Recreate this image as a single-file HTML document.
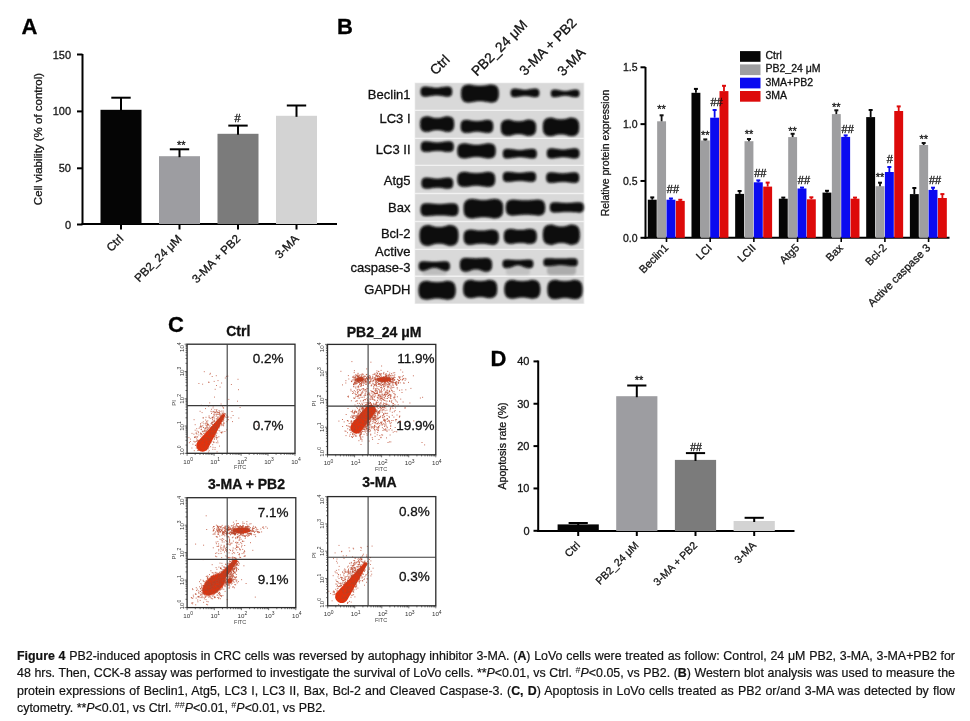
<!DOCTYPE html>
<html><head><meta charset="utf-8"><style>
html,body{margin:0;padding:0;background:#fff;}
body{width:970px;height:721px;overflow:hidden;position:relative;font-family:"Liberation Sans",sans-serif;}
svg text{font-family:"Liberation Sans",sans-serif;}
svg text{stroke-width:0.3px;}
.cap{position:absolute;left:17px;width:938px;font-size:12.4px;color:#111;line-height:17.4px;-webkit-text-stroke:0.2px #111;}
.cap div{white-space:nowrap;}
sup{font-size:9px;line-height:0;vertical-align:4px;-webkit-text-stroke:0;}
.l{height:17.4px;overflow:visible;}
.j{text-align:justify;text-align-last:justify;white-space:normal!important;}
</style></head><body>
<svg width="970" height="721" viewBox="0 0 970 721" style="position:absolute;left:0;top:0;will-change:transform">
<defs>
<filter id="bl" x="-20%" y="-50%" width="140%" height="200%"><feGaussianBlur stdDeviation="0.9"/></filter>
<filter id="bl6" x="-30%" y="-30%" width="160%" height="160%"><feGaussianBlur stdDeviation="0.6"/></filter>
<filter id="bl3" x="-30%" y="-80%" width="160%" height="260%"><feGaussianBlur stdDeviation="1.8"/></filter>
<filter id="bl2" x="-50%" y="-100%" width="200%" height="300%"><feGaussianBlur stdDeviation="1.2"/></filter>
</defs>
<text x="21.5" y="34.3" font-size="22" text-anchor="start" font-weight="bold" fill="#000" stroke="#000">A</text>
<line x1="82.5" y1="54" x2="82.5" y2="225" stroke="#000" stroke-width="2"/>
<line x1="81.5" y1="224" x2="337" y2="224" stroke="#000" stroke-width="2"/>
<line x1="77" y1="54.5" x2="82.5" y2="54.5" stroke="#000" stroke-width="2"/>
<text x="71" y="58.5" font-size="11" text-anchor="end" fill="#151515" stroke="#151515">150</text>
<line x1="77" y1="111.4" x2="82.5" y2="111.4" stroke="#000" stroke-width="2"/>
<text x="71" y="115.4" font-size="11" text-anchor="end" fill="#151515" stroke="#151515">100</text>
<line x1="77" y1="168.3" x2="82.5" y2="168.3" stroke="#000" stroke-width="2"/>
<text x="71" y="172.3" font-size="11" text-anchor="end" fill="#151515" stroke="#151515">50</text>
<line x1="77" y1="224.5" x2="82.5" y2="224.5" stroke="#000" stroke-width="2"/>
<text x="71" y="228.5" font-size="11" text-anchor="end" fill="#151515" stroke="#151515">0</text>
<text x="0" y="0" font-size="11.5" text-anchor="middle" fill="#151515" stroke="#151515" transform="translate(41.5,139) rotate(-90)">Cell viability (% of control)</text>
<rect x="100.5" y="109.8" width="41" height="114.2" fill="#050505"/>
<line x1="121.0" y1="110.8" x2="121.0" y2="97.7" stroke="#000" stroke-width="2"/>
<line x1="111.3" y1="97.7" x2="130.7" y2="97.7" stroke="#000" stroke-width="2"/>
<line x1="121.0" y1="224" x2="121.0" y2="229.5" stroke="#000" stroke-width="2"/>
<text x="0" y="0" font-size="11.7" text-anchor="end" fill="#151515" stroke="#151515" transform="translate(124.0,239.5) rotate(-45)">Ctrl</text>
<rect x="159" y="156.2" width="41" height="67.80000000000001" fill="#9d9da1"/>
<line x1="179.5" y1="157.2" x2="179.5" y2="149.3" stroke="#000" stroke-width="2"/>
<line x1="169.8" y1="149.3" x2="189.2" y2="149.3" stroke="#000" stroke-width="2"/>
<line x1="179.5" y1="224" x2="179.5" y2="229.5" stroke="#000" stroke-width="2"/>
<text x="0" y="0" font-size="11.7" text-anchor="end" fill="#151515" stroke="#151515" transform="translate(182.5,239.5) rotate(-45)">PB2_24 μM</text>
<rect x="217.5" y="133.8" width="41" height="90.19999999999999" fill="#7b7b7b"/>
<line x1="238.0" y1="134.8" x2="238.0" y2="125.6" stroke="#000" stroke-width="2"/>
<line x1="228.3" y1="125.6" x2="247.7" y2="125.6" stroke="#000" stroke-width="2"/>
<line x1="238.0" y1="224" x2="238.0" y2="229.5" stroke="#000" stroke-width="2"/>
<text x="0" y="0" font-size="11.7" text-anchor="end" fill="#151515" stroke="#151515" transform="translate(241.0,239.5) rotate(-45)">3-MA + PB2</text>
<rect x="276" y="115.8" width="41" height="108.2" fill="#d3d3d3"/>
<line x1="296.5" y1="116.8" x2="296.5" y2="105.5" stroke="#000" stroke-width="2"/>
<line x1="286.8" y1="105.5" x2="306.2" y2="105.5" stroke="#000" stroke-width="2"/>
<line x1="296.5" y1="224" x2="296.5" y2="229.5" stroke="#000" stroke-width="2"/>
<text x="0" y="0" font-size="11.7" text-anchor="end" fill="#151515" stroke="#151515" transform="translate(299.5,239.5) rotate(-45)">3-MA</text>
<text x="181.3" y="149" font-size="11" text-anchor="middle" fill="#151515" stroke="#151515">**</text>
<text x="237.5" y="122" font-size="11" text-anchor="middle" fill="#151515" stroke="#151515">#</text>
<text x="337" y="34" font-size="22" text-anchor="start" font-weight="bold" fill="#000" stroke="#000">B</text>
<text x="0" y="0" font-size="13.8" text-anchor="start" fill="#111" stroke="#111" transform="translate(435.5,75.8) rotate(-45)">Ctrl</text>
<text x="0" y="0" font-size="13.8" text-anchor="start" fill="#111" stroke="#111" transform="translate(477,76.8) rotate(-45)">PB2_24 μM</text>
<text x="0" y="0" font-size="13.8" text-anchor="start" fill="#111" stroke="#111" transform="translate(525,76.2) rotate(-45)">3-MA + PB2</text>
<text x="0" y="0" font-size="13.8" text-anchor="start" fill="#111" stroke="#111" transform="translate(563,76.8) rotate(-45)">3-MA</text>
<text x="410.5" y="98.9" font-size="13" text-anchor="end" fill="#111" stroke="#111">Beclin1</text>
<text x="410.5" y="122.9" font-size="13" text-anchor="end" fill="#111" stroke="#111">LC3 I</text>
<text x="410.5" y="154.2" font-size="13" text-anchor="end" fill="#111" stroke="#111">LC3 II</text>
<text x="410.5" y="185.1" font-size="13" text-anchor="end" fill="#111" stroke="#111">Atg5</text>
<text x="410.5" y="211.6" font-size="13" text-anchor="end" fill="#111" stroke="#111">Bax</text>
<text x="410.5" y="237.8" font-size="13" text-anchor="end" fill="#111" stroke="#111">Bcl-2</text>
<text x="410.5" y="256.3" font-size="13" text-anchor="end" fill="#111" stroke="#111">Active</text>
<text x="410.5" y="272.2" font-size="13" text-anchor="end" fill="#111" stroke="#111">caspase-3</text>
<text x="410.5" y="293.6" font-size="13" text-anchor="end" fill="#111" stroke="#111">GAPDH</text>
<g>
<rect x="414.5" y="82.5" width="170" height="221.5" fill="#f2f2f2"/>
<rect x="415.2" y="83.2" width="168.4" height="26.5" fill="#d9d9d9"/>
<rect x="415.2" y="111" width="168.4" height="26.69999999999999" fill="#d9d9d9"/>
<rect x="415.2" y="139" width="168.4" height="25.69999999999999" fill="#d9d9d9"/>
<rect x="415.2" y="166" width="168.4" height="26.80000000000001" fill="#d9d9d9"/>
<rect x="415.2" y="194.2" width="168.4" height="26.600000000000023" fill="#d9d9d9"/>
<rect x="415.2" y="222.2" width="168.4" height="26.5" fill="#d9d9d9"/>
<rect x="415.2" y="250" width="168.4" height="25.5" fill="#d9d9d9"/>
<rect x="415.2" y="277" width="168.4" height="26.5" fill="#d9d9d9"/>
</g>
<rect x="422" y="267" width="25" height="8" rx="3" fill="#bdbdbd" filter="url(#bl2)"/>
<rect x="463" y="268" width="26" height="7" rx="3" fill="#c6c6c6" filter="url(#bl2)"/>
<rect x="506" y="266" width="24" height="9" rx="3" fill="#c2c2c2" filter="url(#bl2)"/>
<rect x="547" y="264" width="29" height="11" rx="4" fill="#acacac" filter="url(#bl2)"/>
<path d="M424.8,86.8 C430.1,86.8 431.0,88.0 436.4,88.0 C441.7,88.0 442.6,86.8 447.9,86.8 Q452.0,86.8 452.0,90.9 L452.0,92.4 Q452.0,96.5 447.9,96.5 C442.6,96.5 441.7,95.3 436.4,95.3 C431.0,95.3 430.1,96.5 424.8,96.5 Q420.7,96.5 420.7,92.4 L420.7,90.9 Q420.7,86.8 424.8,86.8 Z" fill="#9a9a9a" filter="url(#bl3)"/>
<path d="M424.8,86.8 C430.1,86.8 431.0,88.0 436.4,88.0 C441.7,88.0 442.6,86.8 447.9,86.8 Q452.0,86.8 452.0,90.9 L452.0,92.4 Q452.0,96.5 447.9,96.5 C442.6,96.5 441.7,95.3 436.4,95.3 C431.0,95.3 430.1,96.5 424.8,96.5 Q420.7,96.5 420.7,92.4 L420.7,90.9 Q420.7,86.8 424.8,86.8 Z" fill="#0a0a0a" filter="url(#bl)"/>
<path d="M468.6,84.8 C472.4,84.8 473.5,86.1 479.9,86.1 C486.3,86.1 487.4,84.8 491.2,84.8 Q498.6,84.8 498.6,92.2 L498.6,95.0 Q498.6,102.4 491.2,102.4 C487.4,102.4 486.3,101.1 479.9,101.1 C473.5,101.1 472.4,102.4 468.6,102.4 Q461.2,102.4 461.2,95.0 L461.2,92.2 Q461.2,84.8 468.6,84.8 Z" fill="#9a9a9a" filter="url(#bl3)"/>
<path d="M468.6,84.8 C472.4,84.8 473.5,86.1 479.9,86.1 C486.3,86.1 487.4,84.8 491.2,84.8 Q498.6,84.8 498.6,92.2 L498.6,95.0 Q498.6,102.4 491.2,102.4 C487.4,102.4 486.3,101.1 479.9,101.1 C473.5,101.1 472.4,102.4 468.6,102.4 Q461.2,102.4 461.2,95.0 L461.2,92.2 Q461.2,84.8 468.6,84.8 Z" fill="#0a0a0a" filter="url(#bl)"/>
<path d="M514.3,88.7 C519.3,88.7 520.2,89.9 525.0,89.9 C529.8,89.9 530.7,88.7 535.7,88.7 Q539.2,88.7 539.2,92.2 L539.2,93.5 Q539.2,97.0 535.7,97.0 C530.7,97.0 529.8,95.8 525.0,95.8 C520.2,95.8 519.3,97.0 514.3,97.0 Q510.8,97.0 510.8,93.5 L510.8,92.2 Q510.8,88.7 514.3,88.7 Z" fill="#9a9a9a" filter="url(#bl3)"/>
<path d="M514.3,88.7 C519.3,88.7 520.2,89.9 525.0,89.9 C529.8,89.9 530.7,88.7 535.7,88.7 Q539.2,88.7 539.2,92.2 L539.2,93.5 Q539.2,97.0 535.7,97.0 C530.7,97.0 529.8,95.8 525.0,95.8 C520.2,95.8 519.3,97.0 514.3,97.0 Q510.8,97.0 510.8,93.5 L510.8,92.2 Q510.8,88.7 514.3,88.7 Z" fill="#0a0a0a" filter="url(#bl)"/>
<path d="M554.1,89.7 C559.5,89.7 560.3,91.2 565.1,91.2 C570.0,91.2 570.8,89.7 576.2,89.7 Q579.3,89.7 579.3,92.8 L579.3,93.9 Q579.3,97.0 576.2,97.0 C570.8,97.0 570.0,95.5 565.1,95.5 C560.3,95.5 559.5,97.0 554.1,97.0 Q551.0,97.0 551.0,93.9 L551.0,92.8 Q551.0,89.7 554.1,89.7 Z" fill="#9a9a9a" filter="url(#bl3)"/>
<path d="M554.1,89.7 C559.5,89.7 560.3,91.2 565.1,91.2 C570.0,91.2 570.8,89.7 576.2,89.7 Q579.3,89.7 579.3,92.8 L579.3,93.9 Q579.3,97.0 576.2,97.0 C570.8,97.0 570.0,95.5 565.1,95.5 C560.3,95.5 559.5,97.0 554.1,97.0 Q551.0,97.0 551.0,93.9 L551.0,92.8 Q551.0,89.7 554.1,89.7 Z" fill="#0a0a0a" filter="url(#bl)"/>
<path d="M426.7,116.5 C430.4,116.5 431.4,118.2 437.1,118.2 C442.9,118.2 443.9,116.5 447.6,116.5 Q454.0,116.5 454.0,122.9 L454.0,125.4 Q454.0,131.8 447.6,131.8 C443.9,131.8 442.9,130.1 437.1,130.1 C431.4,130.1 430.4,131.8 426.7,131.8 Q420.3,131.8 420.3,125.4 L420.3,122.9 Q420.3,116.5 426.7,116.5 Z" fill="#9a9a9a" filter="url(#bl3)"/>
<path d="M426.7,116.5 C430.4,116.5 431.4,118.2 437.1,118.2 C442.9,118.2 443.9,116.5 447.6,116.5 Q454.0,116.5 454.0,122.9 L454.0,125.4 Q454.0,131.8 447.6,131.8 C443.9,131.8 442.9,130.1 437.1,130.1 C431.4,130.1 430.4,131.8 426.7,131.8 Q420.3,131.8 420.3,125.4 L420.3,122.9 Q420.3,116.5 426.7,116.5 Z" fill="#0a0a0a" filter="url(#bl)"/>
<path d="M466.2,120.0 C470.5,120.0 471.5,121.3 477.0,121.3 C482.4,121.3 483.4,120.0 487.7,120.0 Q493.1,120.0 493.1,125.4 L493.1,127.4 Q493.1,132.8 487.7,132.8 C483.4,132.8 482.4,131.5 477.0,131.5 C471.5,131.5 470.5,132.8 466.2,132.8 Q460.8,132.8 460.8,127.4 L460.8,125.4 Q460.8,120.0 466.2,120.0 Z" fill="#9a9a9a" filter="url(#bl3)"/>
<path d="M466.2,120.0 C470.5,120.0 471.5,121.3 477.0,121.3 C482.4,121.3 483.4,120.0 487.7,120.0 Q493.1,120.0 493.1,125.4 L493.1,127.4 Q493.1,132.8 487.7,132.8 C483.4,132.8 482.4,131.5 477.0,131.5 C471.5,131.5 470.5,132.8 466.2,132.8 Q460.8,132.8 460.8,127.4 L460.8,125.4 Q460.8,120.0 466.2,120.0 Z" fill="#0a0a0a" filter="url(#bl)"/>
<path d="M507.7,119.7 C511.5,119.7 512.5,121.5 518.5,121.5 C524.4,121.5 525.4,119.7 529.2,119.7 Q535.9,119.7 535.9,126.4 L535.9,129.0 Q535.9,135.7 529.2,135.7 C525.4,135.7 524.4,133.9 518.5,133.9 C512.5,133.9 511.5,135.7 507.7,135.7 Q501.0,135.7 501.0,129.0 L501.0,126.4 Q501.0,119.7 507.7,119.7 Z" fill="#9a9a9a" filter="url(#bl3)"/>
<path d="M507.7,119.7 C511.5,119.7 512.5,121.5 518.5,121.5 C524.4,121.5 525.4,119.7 529.2,119.7 Q535.9,119.7 535.9,126.4 L535.9,129.0 Q535.9,135.7 529.2,135.7 C525.4,135.7 524.4,133.9 518.5,133.9 C512.5,133.9 511.5,135.7 507.7,135.7 Q501.0,135.7 501.0,129.0 L501.0,126.4 Q501.0,119.7 507.7,119.7 Z" fill="#0a0a0a" filter="url(#bl)"/>
<path d="M550.7,117.7 C553.8,117.7 554.9,119.5 561.0,119.5 C567.1,119.5 568.2,117.7 571.3,117.7 Q579.0,117.7 579.0,125.4 L579.0,128.4 Q579.0,136.1 571.3,136.1 C568.2,136.1 567.1,134.3 561.0,134.3 C554.9,134.3 553.8,136.1 550.7,136.1 Q543.0,136.1 543.0,128.4 L543.0,125.4 Q543.0,117.7 550.7,117.7 Z" fill="#9a9a9a" filter="url(#bl3)"/>
<path d="M550.7,117.7 C553.8,117.7 554.9,119.5 561.0,119.5 C567.1,119.5 568.2,117.7 571.3,117.7 Q579.0,117.7 579.0,125.4 L579.0,128.4 Q579.0,136.1 571.3,136.1 C568.2,136.1 567.1,134.3 561.0,134.3 C554.9,134.3 553.8,136.1 550.7,136.1 Q543.0,136.1 543.0,128.4 L543.0,125.4 Q543.0,117.7 550.7,117.7 Z" fill="#0a0a0a" filter="url(#bl)"/>
<path d="M425.3,141.6 C430.8,141.6 431.8,142.7 437.3,142.7 C442.8,142.7 443.8,141.6 449.3,141.6 Q453.6,141.6 453.6,145.9 L453.6,147.5 Q453.6,151.8 449.3,151.8 C443.8,151.8 442.8,150.7 437.3,150.7 C431.8,150.7 430.8,151.8 425.3,151.8 Q421.0,151.8 421.0,147.5 L421.0,145.9 Q421.0,141.6 425.3,141.6 Z" fill="#9a9a9a" filter="url(#bl3)"/>
<path d="M425.3,141.6 C430.8,141.6 431.8,142.7 437.3,142.7 C442.8,142.7 443.8,141.6 449.3,141.6 Q453.6,141.6 453.6,145.9 L453.6,147.5 Q453.6,151.8 449.3,151.8 C443.8,151.8 442.8,150.7 437.3,150.7 C431.8,150.7 430.8,151.8 425.3,151.8 Q421.0,151.8 421.0,147.5 L421.0,145.9 Q421.0,141.6 425.3,141.6 Z" fill="#0a0a0a" filter="url(#bl)"/>
<path d="M463.7,143.6 C468.9,143.6 470.0,145.1 476.5,145.1 C483.0,145.1 484.1,143.6 489.3,143.6 Q495.5,143.6 495.5,149.8 L495.5,152.1 Q495.5,158.3 489.3,158.3 C484.1,158.3 483.0,156.8 476.5,156.8 C470.0,156.8 468.9,158.3 463.7,158.3 Q457.5,158.3 457.5,152.1 L457.5,149.8 Q457.5,143.6 463.7,143.6 Z" fill="#9a9a9a" filter="url(#bl3)"/>
<path d="M463.7,143.6 C468.9,143.6 470.0,145.1 476.5,145.1 C483.0,145.1 484.1,143.6 489.3,143.6 Q495.5,143.6 495.5,149.8 L495.5,152.1 Q495.5,158.3 489.3,158.3 C484.1,158.3 483.0,156.8 476.5,156.8 C470.0,156.8 468.9,158.3 463.7,158.3 Q457.5,158.3 457.5,152.1 L457.5,149.8 Q457.5,143.6 463.7,143.6 Z" fill="#0a0a0a" filter="url(#bl)"/>
<path d="M506.9,149.0 C513.1,149.0 514.1,150.2 519.8,150.2 C525.5,150.2 526.5,149.0 532.7,149.0 Q536.6,149.0 536.6,152.9 L536.6,154.4 Q536.6,158.3 532.7,158.3 C526.5,158.3 525.5,157.1 519.8,157.1 C514.1,157.1 513.1,158.3 506.9,158.3 Q503.0,158.3 503.0,154.4 L503.0,152.9 Q503.0,149.0 506.9,149.0 Z" fill="#9a9a9a" filter="url(#bl3)"/>
<path d="M506.9,149.0 C513.1,149.0 514.1,150.2 519.8,150.2 C525.5,150.2 526.5,149.0 532.7,149.0 Q536.6,149.0 536.6,152.9 L536.6,154.4 Q536.6,158.3 532.7,158.3 C526.5,158.3 525.5,157.1 519.8,157.1 C514.1,157.1 513.1,158.3 506.9,158.3 Q503.0,158.3 503.0,154.4 L503.0,152.9 Q503.0,149.0 506.9,149.0 Z" fill="#0a0a0a" filter="url(#bl)"/>
<path d="M551.1,148.5 C556.7,148.5 557.7,149.7 563.1,149.7 C568.6,149.7 569.6,148.5 575.2,148.5 Q579.3,148.5 579.3,152.6 L579.3,154.2 Q579.3,158.3 575.2,158.3 C569.6,158.3 568.6,157.1 563.1,157.1 C557.7,157.1 556.7,158.3 551.1,158.3 Q547.0,158.3 547.0,154.2 L547.0,152.6 Q547.0,148.5 551.1,148.5 Z" fill="#9a9a9a" filter="url(#bl3)"/>
<path d="M551.1,148.5 C556.7,148.5 557.7,149.7 563.1,149.7 C568.6,149.7 569.6,148.5 575.2,148.5 Q579.3,148.5 579.3,152.6 L579.3,154.2 Q579.3,158.3 575.2,158.3 C569.6,158.3 568.6,157.1 563.1,157.1 C557.7,157.1 556.7,158.3 551.1,158.3 Q547.0,158.3 547.0,154.2 L547.0,152.6 Q547.0,148.5 551.1,148.5 Z" fill="#0a0a0a" filter="url(#bl)"/>
<path d="M426.1,177.8 C431.0,177.8 432.0,178.9 437.3,178.9 C442.6,178.9 443.6,177.8 448.5,177.8 Q453.0,177.8 453.0,182.3 L453.0,184.1 Q453.0,188.6 448.5,188.6 C443.6,188.6 442.6,187.5 437.3,187.5 C432.0,187.5 431.0,188.6 426.1,188.6 Q421.6,188.6 421.6,184.1 L421.6,182.3 Q421.6,177.8 426.1,177.8 Z" fill="#9a9a9a" filter="url(#bl3)"/>
<path d="M426.1,177.8 C431.0,177.8 432.0,178.9 437.3,178.9 C442.6,178.9 443.6,177.8 448.5,177.8 Q453.0,177.8 453.0,182.3 L453.0,184.1 Q453.0,188.6 448.5,188.6 C443.6,188.6 442.6,187.5 437.3,187.5 C432.0,187.5 431.0,188.6 426.1,188.6 Q421.6,188.6 421.6,184.1 L421.6,182.3 Q421.6,177.8 426.1,177.8 Z" fill="#0a0a0a" filter="url(#bl)"/>
<path d="M463.7,172.0 C468.8,172.0 469.9,173.3 476.2,173.3 C482.6,173.3 483.8,172.0 488.8,172.0 Q495.0,172.0 495.0,178.2 L495.0,180.5 Q495.0,186.7 488.8,186.7 C483.8,186.7 482.6,185.4 476.2,185.4 C469.9,185.4 468.8,186.7 463.7,186.7 Q457.5,186.7 457.5,180.5 L457.5,178.2 Q457.5,172.0 463.7,172.0 Z" fill="#9a9a9a" filter="url(#bl3)"/>
<path d="M463.7,172.0 C468.8,172.0 469.9,173.3 476.2,173.3 C482.6,173.3 483.8,172.0 488.8,172.0 Q495.0,172.0 495.0,178.2 L495.0,180.5 Q495.0,186.7 488.8,186.7 C483.8,186.7 482.6,185.4 476.2,185.4 C469.9,185.4 468.8,186.7 463.7,186.7 Q457.5,186.7 457.5,180.5 L457.5,178.2 Q457.5,172.0 463.7,172.0 Z" fill="#0a0a0a" filter="url(#bl)"/>
<path d="M507.1,172.0 C512.9,172.0 513.9,173.0 519.5,173.0 C525.0,173.0 526.0,172.0 531.8,172.0 Q535.9,172.0 535.9,176.1 L535.9,177.7 Q535.9,181.8 531.8,181.8 C526.0,181.8 525.0,180.8 519.5,180.8 C513.9,180.8 512.9,181.8 507.1,181.8 Q503.0,181.8 503.0,177.7 L503.0,176.1 Q503.0,172.0 507.1,172.0 Z" fill="#9a9a9a" filter="url(#bl3)"/>
<path d="M507.1,172.0 C512.9,172.0 513.9,173.0 519.5,173.0 C525.0,173.0 526.0,172.0 531.8,172.0 Q535.9,172.0 535.9,176.1 L535.9,177.7 Q535.9,181.8 531.8,181.8 C526.0,181.8 525.0,180.8 519.5,180.8 C513.9,180.8 512.9,181.8 507.1,181.8 Q503.0,181.8 503.0,177.7 L503.0,176.1 Q503.0,172.0 507.1,172.0 Z" fill="#0a0a0a" filter="url(#bl)"/>
<path d="M550.7,172.4 C556.2,172.4 557.2,173.4 562.7,173.4 C568.2,173.4 569.2,172.4 574.7,172.4 Q579.0,172.4 579.0,176.7 L579.0,178.4 Q579.0,182.7 574.7,182.7 C569.2,182.7 568.2,181.7 562.7,181.7 C557.2,181.7 556.2,182.7 550.7,182.7 Q546.4,182.7 546.4,178.4 L546.4,176.7 Q546.4,172.4 550.7,172.4 Z" fill="#9a9a9a" filter="url(#bl3)"/>
<path d="M550.7,172.4 C556.2,172.4 557.2,173.4 562.7,173.4 C568.2,173.4 569.2,172.4 574.7,172.4 Q579.0,172.4 579.0,176.7 L579.0,178.4 Q579.0,182.7 574.7,182.7 C569.2,182.7 568.2,181.7 562.7,181.7 C557.2,181.7 556.2,182.7 550.7,182.7 Q546.4,182.7 546.4,178.4 L546.4,176.7 Q546.4,172.4 550.7,172.4 Z" fill="#0a0a0a" filter="url(#bl)"/>
<path d="M425.9,203.6 C432.0,203.6 433.1,204.3 439.5,204.3 C445.9,204.3 447.0,203.6 453.1,203.6 Q458.3,203.6 458.3,208.8 L458.3,210.8 Q458.3,216.0 453.1,216.0 C447.0,216.0 445.9,215.3 439.5,215.3 C433.1,215.3 432.0,216.0 425.9,216.0 Q420.7,216.0 420.7,210.8 L420.7,208.8 Q420.7,203.6 425.9,203.6 Z" fill="#9a9a9a" filter="url(#bl3)"/>
<path d="M425.9,203.6 C432.0,203.6 433.1,204.3 439.5,204.3 C445.9,204.3 447.0,203.6 453.1,203.6 Q458.3,203.6 458.3,208.8 L458.3,210.8 Q458.3,216.0 453.1,216.0 C447.0,216.0 445.9,215.3 439.5,215.3 C433.1,215.3 432.0,216.0 425.9,216.0 Q420.7,216.0 420.7,210.8 L420.7,208.8 Q420.7,203.6 425.9,203.6 Z" fill="#0a0a0a" filter="url(#bl)"/>
<path d="M471.9,199.0 C475.6,199.0 476.7,200.2 483.4,200.2 C490.1,200.2 491.2,199.0 494.9,199.0 Q503.0,199.0 503.0,207.1 L503.0,210.2 Q503.0,218.3 494.9,218.3 C491.2,218.3 490.1,217.1 483.4,217.1 C476.7,217.1 475.6,218.3 471.9,218.3 Q463.8,218.3 463.8,210.2 L463.8,207.1 Q463.8,199.0 471.9,199.0 Z" fill="#9a9a9a" filter="url(#bl3)"/>
<path d="M471.9,199.0 C475.6,199.0 476.7,200.2 483.4,200.2 C490.1,200.2 491.2,199.0 494.9,199.0 Q503.0,199.0 503.0,207.1 L503.0,210.2 Q503.0,218.3 494.9,218.3 C491.2,218.3 490.1,217.1 483.4,217.1 C476.7,217.1 475.6,218.3 471.9,218.3 Q463.8,218.3 463.8,210.2 L463.8,207.1 Q463.8,199.0 471.9,199.0 Z" fill="#0a0a0a" filter="url(#bl)"/>
<path d="M512.5,199.7 C517.6,199.7 518.8,200.6 525.5,200.6 C532.1,200.6 533.3,199.7 538.4,199.7 Q545.0,199.7 545.0,206.3 L545.0,208.8 Q545.0,215.4 538.4,215.4 C533.3,215.4 532.1,214.5 525.5,214.5 C518.8,214.5 517.6,215.4 512.5,215.4 Q505.9,215.4 505.9,208.8 L505.9,206.3 Q505.9,199.7 512.5,199.7 Z" fill="#9a9a9a" filter="url(#bl3)"/>
<path d="M512.5,199.7 C517.6,199.7 518.8,200.6 525.5,200.6 C532.1,200.6 533.3,199.7 538.4,199.7 Q545.0,199.7 545.0,206.3 L545.0,208.8 Q545.0,215.4 538.4,215.4 C533.3,215.4 532.1,214.5 525.5,214.5 C518.8,214.5 517.6,215.4 512.5,215.4 Q505.9,215.4 505.9,208.8 L505.9,206.3 Q505.9,199.7 512.5,199.7 Z" fill="#0a0a0a" filter="url(#bl)"/>
<path d="M554.1,202.6 C560.1,202.6 561.1,203.2 566.8,203.2 C572.5,203.2 573.5,202.6 579.5,202.6 Q583.6,202.6 583.6,206.7 L583.6,208.3 Q583.6,212.4 579.5,212.4 C573.5,212.4 572.5,211.8 566.8,211.8 C561.1,211.8 560.1,212.4 554.1,212.4 Q550.0,212.4 550.0,208.3 L550.0,206.7 Q550.0,202.6 554.1,202.6 Z" fill="#9a9a9a" filter="url(#bl3)"/>
<path d="M554.1,202.6 C560.1,202.6 561.1,203.2 566.8,203.2 C572.5,203.2 573.5,202.6 579.5,202.6 Q583.6,202.6 583.6,206.7 L583.6,208.3 Q583.6,212.4 579.5,212.4 C573.5,212.4 572.5,211.8 566.8,211.8 C561.1,211.8 560.1,212.4 554.1,212.4 Q550.0,212.4 550.0,208.3 L550.0,206.7 Q550.0,202.6 554.1,202.6 Z" fill="#0a0a0a" filter="url(#bl)"/>
<path d="M428.2,225.2 C431.3,225.2 432.4,227.2 439.0,227.2 C445.6,227.2 446.7,225.2 449.8,225.2 Q458.3,225.2 458.3,233.7 L458.3,237.2 Q458.3,245.7 449.8,245.7 C446.7,245.7 445.6,243.6 439.0,243.6 C432.4,243.6 431.3,245.7 428.2,245.7 Q419.7,245.7 419.7,237.2 L419.7,233.7 Q419.7,225.2 428.2,225.2 Z" fill="#9a9a9a" filter="url(#bl3)"/>
<path d="M428.2,225.2 C431.3,225.2 432.4,227.2 439.0,227.2 C445.6,227.2 446.7,225.2 449.8,225.2 Q458.3,225.2 458.3,233.7 L458.3,237.2 Q458.3,245.7 449.8,245.7 C446.7,245.7 445.6,243.6 439.0,243.6 C432.4,243.6 431.3,245.7 428.2,245.7 Q419.7,245.7 419.7,237.2 L419.7,233.7 Q419.7,225.2 428.2,225.2 Z" fill="#0a0a0a" filter="url(#bl)"/>
<path d="M470.1,229.7 C474.2,229.7 475.3,230.8 481.2,230.8 C487.1,230.8 488.2,229.7 492.3,229.7 Q498.6,229.7 498.6,236.0 L498.6,238.4 Q498.6,244.7 492.3,244.7 C488.2,244.7 487.1,243.6 481.2,243.6 C475.3,243.6 474.2,244.7 470.1,244.7 Q463.8,244.7 463.8,238.4 L463.8,236.0 Q463.8,229.7 470.1,229.7 Z" fill="#9a9a9a" filter="url(#bl3)"/>
<path d="M470.1,229.7 C474.2,229.7 475.3,230.8 481.2,230.8 C487.1,230.8 488.2,229.7 492.3,229.7 Q498.6,229.7 498.6,236.0 L498.6,238.4 Q498.6,244.7 492.3,244.7 C488.2,244.7 487.1,243.6 481.2,243.6 C475.3,243.6 474.2,244.7 470.1,244.7 Q463.8,244.7 463.8,238.4 L463.8,236.0 Q463.8,229.7 470.1,229.7 Z" fill="#0a0a0a" filter="url(#bl)"/>
<path d="M510.2,229.0 C513.8,229.0 514.8,230.1 520.3,230.1 C525.8,230.1 526.8,229.0 530.4,229.0 Q536.6,229.0 536.6,235.2 L536.6,237.6 Q536.6,243.8 530.4,243.8 C526.8,243.8 525.8,242.7 520.3,242.7 C514.8,242.7 513.8,243.8 510.2,243.8 Q504.0,243.8 504.0,237.6 L504.0,235.2 Q504.0,229.0 510.2,229.0 Z" fill="#9a9a9a" filter="url(#bl3)"/>
<path d="M510.2,229.0 C513.8,229.0 514.8,230.1 520.3,230.1 C525.8,230.1 526.8,229.0 530.4,229.0 Q536.6,229.0 536.6,235.2 L536.6,237.6 Q536.6,243.8 530.4,243.8 C526.8,243.8 525.8,242.7 520.3,242.7 C514.8,242.7 513.8,243.8 510.2,243.8 Q504.0,243.8 504.0,237.6 L504.0,235.2 Q504.0,229.0 510.2,229.0 Z" fill="#0a0a0a" filter="url(#bl)"/>
<path d="M551.1,224.8 C554.0,224.8 555.1,226.8 561.4,226.8 C567.6,226.8 568.7,224.8 571.6,224.8 Q579.7,224.8 579.7,232.9 L579.7,236.6 Q579.7,244.7 571.6,244.7 C568.7,244.7 567.6,242.7 561.4,242.7 C555.1,242.7 554.0,244.7 551.1,244.7 Q543.0,244.7 543.0,236.6 L543.0,232.9 Q543.0,224.8 551.1,224.8 Z" fill="#9a9a9a" filter="url(#bl3)"/>
<path d="M551.1,224.8 C554.0,224.8 555.1,226.8 561.4,226.8 C567.6,226.8 568.7,224.8 571.6,224.8 Q579.7,224.8 579.7,232.9 L579.7,236.6 Q579.7,244.7 571.6,244.7 C568.7,244.7 567.6,242.7 561.4,242.7 C555.1,242.7 554.0,244.7 551.1,244.7 Q543.0,244.7 543.0,236.6 L543.0,232.9 Q543.0,224.8 551.1,224.8 Z" fill="#0a0a0a" filter="url(#bl)"/>
<path d="M422.7,261.6 C428.1,261.6 429.1,262.1 434.3,262.1 C439.5,262.1 440.5,261.6 445.9,261.6 Q449.7,261.6 449.7,265.4 L449.7,266.9 Q449.7,270.7 445.9,270.7 C440.5,270.7 439.5,267.6 434.3,267.6 C429.1,267.6 428.1,270.7 422.7,270.7 Q418.9,270.7 418.9,266.9 L418.9,265.4 Q418.9,261.6 422.7,261.6 Z" fill="#9a9a9a" filter="url(#bl3)"/>
<path d="M422.7,261.6 C428.1,261.6 429.1,262.1 434.3,262.1 C439.5,262.1 440.5,261.6 445.9,261.6 Q449.7,261.6 449.7,265.4 L449.7,266.9 Q449.7,270.7 445.9,270.7 C440.5,270.7 439.5,267.6 434.3,267.6 C429.1,267.6 428.1,270.7 422.7,270.7 Q418.9,270.7 418.9,266.9 L418.9,265.4 Q418.9,261.6 422.7,261.6 Z" fill="#0a0a0a" filter="url(#bl)"/>
<path d="M465.7,258.0 C469.6,258.0 470.5,258.4 475.9,258.4 C481.4,258.4 482.3,258.0 486.2,258.0 Q491.9,258.0 491.9,263.7 L491.9,265.9 Q491.9,271.6 486.2,271.6 C482.3,271.6 481.4,269.3 475.9,269.3 C470.5,269.3 469.6,271.6 465.7,271.6 Q460.0,271.6 460.0,265.9 L460.0,263.7 Q460.0,258.0 465.7,258.0 Z" fill="#9a9a9a" filter="url(#bl3)"/>
<path d="M465.7,258.0 C469.6,258.0 470.5,258.4 475.9,258.4 C481.4,258.4 482.3,258.0 486.2,258.0 Q491.9,258.0 491.9,263.7 L491.9,265.9 Q491.9,271.6 486.2,271.6 C482.3,271.6 481.4,269.3 475.9,269.3 C470.5,269.3 469.6,271.6 465.7,271.6 Q460.0,271.6 460.0,265.9 L460.0,263.7 Q460.0,258.0 465.7,258.0 Z" fill="#0a0a0a" filter="url(#bl)"/>
<path d="M506.1,259.8 C511.9,259.8 512.8,260.3 518.0,260.3 C523.1,260.3 524.1,259.8 529.8,259.8 Q533.2,259.8 533.2,263.2 L533.2,264.6 Q533.2,268.0 529.8,268.0 C524.1,268.0 523.1,265.2 518.0,265.2 C512.8,265.2 511.9,268.0 506.1,268.0 Q502.7,268.0 502.7,264.6 L502.7,263.2 Q502.7,259.8 506.1,259.8 Z" fill="#9a9a9a" filter="url(#bl3)"/>
<path d="M506.1,259.8 C511.9,259.8 512.8,260.3 518.0,260.3 C523.1,260.3 524.1,259.8 529.8,259.8 Q533.2,259.8 533.2,263.2 L533.2,264.6 Q533.2,268.0 529.8,268.0 C524.1,268.0 523.1,265.2 518.0,265.2 C512.8,265.2 511.9,268.0 506.1,268.0 Q502.7,268.0 502.7,264.6 L502.7,263.2 Q502.7,259.8 506.1,259.8 Z" fill="#0a0a0a" filter="url(#bl)"/>
<path d="M546.8,258.5 C553.8,258.5 554.8,258.8 560.5,258.8 C566.3,258.8 567.3,258.5 574.3,258.5 Q577.5,258.5 577.5,261.7 L577.5,262.9 Q577.5,266.1 574.3,266.1 C567.3,266.1 566.3,264.9 560.5,264.9 C554.8,264.9 553.8,266.1 546.8,266.1 Q543.6,266.1 543.6,262.9 L543.6,261.7 Q543.6,258.5 546.8,258.5 Z" fill="#9a9a9a" filter="url(#bl3)"/>
<path d="M546.8,258.5 C553.8,258.5 554.8,258.8 560.5,258.8 C566.3,258.8 567.3,258.5 574.3,258.5 Q577.5,258.5 577.5,261.7 L577.5,262.9 Q577.5,266.1 574.3,266.1 C567.3,266.1 566.3,264.9 560.5,264.9 C554.8,264.9 553.8,266.1 546.8,266.1 Q543.6,266.1 543.6,262.9 L543.6,261.7 Q543.6,258.5 546.8,258.5 Z" fill="#0a0a0a" filter="url(#bl)"/>
<path d="M426.5,281.0 C429.7,281.0 430.8,282.3 437.1,282.3 C443.4,282.3 444.5,281.0 447.7,281.0 Q455.5,281.0 455.5,288.8 L455.5,291.8 Q455.5,299.6 447.7,299.6 C444.5,299.6 443.4,298.3 437.1,298.3 C430.8,298.3 429.7,299.6 426.5,299.6 Q418.7,299.6 418.7,291.8 L418.7,288.8 Q418.7,281.0 426.5,281.0 Z" fill="#9a9a9a" filter="url(#bl3)"/>
<path d="M426.5,281.0 C429.7,281.0 430.8,282.3 437.1,282.3 C443.4,282.3 444.5,281.0 447.7,281.0 Q455.5,281.0 455.5,288.8 L455.5,291.8 Q455.5,299.6 447.7,299.6 C444.5,299.6 443.4,298.3 437.1,298.3 C430.8,298.3 429.7,299.6 426.5,299.6 Q418.7,299.6 418.7,291.8 L418.7,288.8 Q418.7,281.0 426.5,281.0 Z" fill="#0a0a0a" filter="url(#bl)"/>
<path d="M470.8,280.0 C473.5,280.0 474.5,281.3 480.2,281.3 C485.9,281.3 486.9,280.0 489.6,280.0 Q497.0,280.0 497.0,287.4 L497.0,290.6 Q497.0,298.0 489.6,298.0 C486.9,298.0 485.9,296.7 480.2,296.7 C474.5,296.7 473.5,298.0 470.8,298.0 Q463.4,298.0 463.4,290.6 L463.4,287.4 Q463.4,280.0 470.8,280.0 Z" fill="#9a9a9a" filter="url(#bl3)"/>
<path d="M470.8,280.0 C473.5,280.0 474.5,281.3 480.2,281.3 C485.9,281.3 486.9,280.0 489.6,280.0 Q497.0,280.0 497.0,287.4 L497.0,290.6 Q497.0,298.0 489.6,298.0 C486.9,298.0 485.9,296.7 480.2,296.7 C474.5,296.7 473.5,298.0 470.8,298.0 Q463.4,298.0 463.4,290.6 L463.4,287.4 Q463.4,280.0 470.8,280.0 Z" fill="#0a0a0a" filter="url(#bl)"/>
<path d="M512.3,280.0 C515.2,280.0 516.3,281.3 522.4,281.3 C528.4,281.3 529.5,280.0 532.4,280.0 Q540.2,280.0 540.2,287.8 L540.2,290.8 Q540.2,298.6 532.4,298.6 C529.5,298.6 528.4,297.3 522.4,297.3 C516.3,297.3 515.2,298.6 512.3,298.6 Q504.5,298.6 504.5,290.8 L504.5,287.8 Q504.5,280.0 512.3,280.0 Z" fill="#9a9a9a" filter="url(#bl3)"/>
<path d="M512.3,280.0 C515.2,280.0 516.3,281.3 522.4,281.3 C528.4,281.3 529.5,280.0 532.4,280.0 Q540.2,280.0 540.2,287.8 L540.2,290.8 Q540.2,298.6 532.4,298.6 C529.5,298.6 528.4,297.3 522.4,297.3 C516.3,297.3 515.2,298.6 512.3,298.6 Q504.5,298.6 504.5,290.8 L504.5,287.8 Q504.5,280.0 512.3,280.0 Z" fill="#0a0a0a" filter="url(#bl)"/>
<path d="M555.2,280.0 C558.0,280.0 559.1,281.3 565.0,281.3 C570.8,281.3 571.9,280.0 574.7,280.0 Q582.3,280.0 582.3,287.6 L582.3,291.4 Q582.3,299.0 574.7,299.0 C571.9,299.0 570.8,297.7 565.0,297.7 C559.1,297.7 558.0,299.0 555.2,299.0 Q547.6,299.0 547.6,291.4 L547.6,287.6 Q547.6,280.0 555.2,280.0 Z" fill="#9a9a9a" filter="url(#bl3)"/>
<path d="M555.2,280.0 C558.0,280.0 559.1,281.3 565.0,281.3 C570.8,281.3 571.9,280.0 574.7,280.0 Q582.3,280.0 582.3,287.6 L582.3,291.4 Q582.3,299.0 574.7,299.0 C571.9,299.0 570.8,297.7 565.0,297.7 C559.1,297.7 558.0,299.0 555.2,299.0 Q547.6,299.0 547.6,291.4 L547.6,287.6 Q547.6,280.0 555.2,280.0 Z" fill="#0a0a0a" filter="url(#bl)"/>
<line x1="645.5" y1="67" x2="645.5" y2="238.8" stroke="#000" stroke-width="2"/>
<line x1="644.5" y1="237.8" x2="949.5" y2="237.8" stroke="#000" stroke-width="2"/>
<line x1="640.5" y1="237.8" x2="645.5" y2="237.8" stroke="#000" stroke-width="2"/>
<text x="637.5" y="241.60000000000002" font-size="10.5" text-anchor="end" fill="#151515" stroke="#151515">0.0</text>
<line x1="640.5" y1="180.965" x2="645.5" y2="180.965" stroke="#000" stroke-width="2"/>
<text x="637.5" y="184.76500000000001" font-size="10.5" text-anchor="end" fill="#151515" stroke="#151515">0.5</text>
<line x1="640.5" y1="124.13000000000001" x2="645.5" y2="124.13000000000001" stroke="#000" stroke-width="2"/>
<text x="637.5" y="127.93" font-size="10.5" text-anchor="end" fill="#151515" stroke="#151515">1.0</text>
<line x1="640.5" y1="67.29500000000002" x2="645.5" y2="67.29500000000002" stroke="#000" stroke-width="2"/>
<text x="637.5" y="71.09500000000001" font-size="10.5" text-anchor="end" fill="#151515" stroke="#151515">1.5</text>
<text x="0" y="0" font-size="10.5" text-anchor="middle" fill="#151515" stroke="#151515" transform="translate(609,153) rotate(-90)">Relative protein expression</text>
<rect x="647.8" y="199.7" width="8.9" height="38.10000000000002" fill="#050505"/>
<line x1="652.25" y1="199.7" x2="652.25" y2="197.4" stroke="#050505" stroke-width="1.8"/>
<line x1="650.25" y1="197.4" x2="654.25" y2="197.4" stroke="#050505" stroke-width="2"/>
<rect x="657.15" y="121.3" width="8.9" height="116.50000000000001" fill="#9e9ea0"/>
<line x1="661.6" y1="121.3" x2="661.6" y2="115.3" stroke="#111111" stroke-width="1.8"/>
<line x1="659.6" y1="115.3" x2="663.6" y2="115.3" stroke="#111111" stroke-width="2"/>
<rect x="666.5" y="199.7" width="8.9" height="38.10000000000002" fill="#0a0af0"/>
<line x1="670.95" y1="199.7" x2="670.95" y2="198.5" stroke="#0a0af0" stroke-width="1.8"/>
<line x1="668.95" y1="198.5" x2="672.95" y2="198.5" stroke="#0a0af0" stroke-width="2"/>
<rect x="675.8499999999999" y="200.9" width="8.9" height="36.900000000000006" fill="#dd0a0a"/>
<line x1="680.3" y1="200.9" x2="680.3" y2="199.8" stroke="#dd0a0a" stroke-width="1.8"/>
<line x1="678.3" y1="199.8" x2="682.3" y2="199.8" stroke="#dd0a0a" stroke-width="2"/>
<line x1="666.5" y1="237.8" x2="666.5" y2="242" stroke="#000" stroke-width="1.6"/>
<text x="0" y="0" font-size="11" text-anchor="end" fill="#151515" stroke="#151515" transform="translate(669.0,248.5) rotate(-45)">Beclin1</text>
<rect x="691.4799999999999" y="92.8" width="8.9" height="145.0" fill="#050505"/>
<line x1="695.93" y1="92.8" x2="695.93" y2="88.9" stroke="#050505" stroke-width="1.8"/>
<line x1="693.93" y1="88.9" x2="697.93" y2="88.9" stroke="#050505" stroke-width="2"/>
<rect x="700.8299999999999" y="140.5" width="8.9" height="97.30000000000001" fill="#9e9ea0"/>
<line x1="705.28" y1="140.5" x2="705.28" y2="139.4" stroke="#111111" stroke-width="1.8"/>
<line x1="703.28" y1="139.4" x2="707.28" y2="139.4" stroke="#111111" stroke-width="2"/>
<rect x="710.18" y="117.7" width="8.9" height="120.10000000000001" fill="#0a0af0"/>
<line x1="714.63" y1="117.7" x2="714.63" y2="110" stroke="#0a0af0" stroke-width="1.8"/>
<line x1="712.63" y1="110" x2="716.63" y2="110" stroke="#0a0af0" stroke-width="2"/>
<rect x="719.5299999999999" y="91.1" width="8.9" height="146.70000000000002" fill="#dd0a0a"/>
<line x1="723.9799999999999" y1="91.1" x2="723.9799999999999" y2="85.8" stroke="#dd0a0a" stroke-width="1.8"/>
<line x1="721.9799999999999" y1="85.8" x2="725.9799999999999" y2="85.8" stroke="#dd0a0a" stroke-width="2"/>
<line x1="710.18" y1="237.8" x2="710.18" y2="242" stroke="#000" stroke-width="1.6"/>
<text x="0" y="0" font-size="11" text-anchor="end" fill="#151515" stroke="#151515" transform="translate(712.68,248.5) rotate(-45)">LCI</text>
<rect x="735.16" y="193.9" width="8.9" height="43.900000000000006" fill="#050505"/>
<line x1="739.61" y1="193.9" x2="739.61" y2="191" stroke="#050505" stroke-width="1.8"/>
<line x1="737.61" y1="191" x2="741.61" y2="191" stroke="#050505" stroke-width="2"/>
<rect x="744.51" y="141.2" width="8.9" height="96.60000000000002" fill="#9e9ea0"/>
<line x1="748.96" y1="141.2" x2="748.96" y2="139" stroke="#111111" stroke-width="1.8"/>
<line x1="746.96" y1="139" x2="750.96" y2="139" stroke="#111111" stroke-width="2"/>
<rect x="753.86" y="182.3" width="8.9" height="55.5" fill="#0a0af0"/>
<line x1="758.3100000000001" y1="182.3" x2="758.3100000000001" y2="180.4" stroke="#0a0af0" stroke-width="1.8"/>
<line x1="756.3100000000001" y1="180.4" x2="760.3100000000001" y2="180.4" stroke="#0a0af0" stroke-width="2"/>
<rect x="763.2099999999999" y="186.6" width="8.9" height="51.20000000000002" fill="#dd0a0a"/>
<line x1="767.66" y1="186.6" x2="767.66" y2="182.6" stroke="#dd0a0a" stroke-width="1.8"/>
<line x1="765.66" y1="182.6" x2="769.66" y2="182.6" stroke="#dd0a0a" stroke-width="2"/>
<line x1="753.86" y1="237.8" x2="753.86" y2="242" stroke="#000" stroke-width="1.6"/>
<text x="0" y="0" font-size="11" text-anchor="end" fill="#151515" stroke="#151515" transform="translate(756.36,248.5) rotate(-45)">LCII</text>
<rect x="778.8399999999999" y="198.7" width="8.9" height="39.10000000000002" fill="#050505"/>
<line x1="783.29" y1="198.7" x2="783.29" y2="197.6" stroke="#050505" stroke-width="1.8"/>
<line x1="781.29" y1="197.6" x2="785.29" y2="197.6" stroke="#050505" stroke-width="2"/>
<rect x="788.1899999999999" y="137.1" width="8.9" height="100.70000000000002" fill="#9e9ea0"/>
<line x1="792.64" y1="137.1" x2="792.64" y2="133.8" stroke="#111111" stroke-width="1.8"/>
<line x1="790.64" y1="133.8" x2="794.64" y2="133.8" stroke="#111111" stroke-width="2"/>
<rect x="797.54" y="188.5" width="8.9" height="49.30000000000001" fill="#0a0af0"/>
<line x1="801.99" y1="188.5" x2="801.99" y2="187.6" stroke="#0a0af0" stroke-width="1.8"/>
<line x1="799.99" y1="187.6" x2="803.99" y2="187.6" stroke="#0a0af0" stroke-width="2"/>
<rect x="806.8899999999999" y="199.3" width="8.9" height="38.5" fill="#dd0a0a"/>
<line x1="811.3399999999999" y1="199.3" x2="811.3399999999999" y2="197.3" stroke="#dd0a0a" stroke-width="1.8"/>
<line x1="809.3399999999999" y1="197.3" x2="813.3399999999999" y2="197.3" stroke="#dd0a0a" stroke-width="2"/>
<line x1="797.54" y1="237.8" x2="797.54" y2="242" stroke="#000" stroke-width="1.6"/>
<text x="0" y="0" font-size="11" text-anchor="end" fill="#151515" stroke="#151515" transform="translate(800.04,248.5) rotate(-45)">Atg5</text>
<rect x="822.52" y="192.6" width="8.9" height="45.20000000000002" fill="#050505"/>
<line x1="826.97" y1="192.6" x2="826.97" y2="190.8" stroke="#050505" stroke-width="1.8"/>
<line x1="824.97" y1="190.8" x2="828.97" y2="190.8" stroke="#050505" stroke-width="2"/>
<rect x="831.87" y="114.1" width="8.9" height="123.70000000000002" fill="#9e9ea0"/>
<line x1="836.32" y1="114.1" x2="836.32" y2="110.3" stroke="#111111" stroke-width="1.8"/>
<line x1="834.32" y1="110.3" x2="838.32" y2="110.3" stroke="#111111" stroke-width="2"/>
<rect x="841.22" y="136.9" width="8.9" height="100.9" fill="#0a0af0"/>
<line x1="845.6700000000001" y1="136.9" x2="845.6700000000001" y2="135.4" stroke="#0a0af0" stroke-width="1.8"/>
<line x1="843.6700000000001" y1="135.4" x2="847.6700000000001" y2="135.4" stroke="#0a0af0" stroke-width="2"/>
<rect x="850.5699999999999" y="198.7" width="8.9" height="39.10000000000002" fill="#dd0a0a"/>
<line x1="855.02" y1="198.7" x2="855.02" y2="197.6" stroke="#dd0a0a" stroke-width="1.8"/>
<line x1="853.02" y1="197.6" x2="857.02" y2="197.6" stroke="#dd0a0a" stroke-width="2"/>
<line x1="841.22" y1="237.8" x2="841.22" y2="242" stroke="#000" stroke-width="1.6"/>
<text x="0" y="0" font-size="11" text-anchor="end" fill="#151515" stroke="#151515" transform="translate(843.72,248.5) rotate(-45)">Bax</text>
<rect x="866.1999999999999" y="117.1" width="8.9" height="120.70000000000002" fill="#050505"/>
<line x1="870.65" y1="117.1" x2="870.65" y2="110" stroke="#050505" stroke-width="1.8"/>
<line x1="868.65" y1="110" x2="872.65" y2="110" stroke="#050505" stroke-width="2"/>
<rect x="875.55" y="186.2" width="8.9" height="51.60000000000002" fill="#9e9ea0"/>
<line x1="880.0" y1="186.2" x2="880.0" y2="182.7" stroke="#111111" stroke-width="1.8"/>
<line x1="878.0" y1="182.7" x2="882.0" y2="182.7" stroke="#111111" stroke-width="2"/>
<rect x="884.9" y="172" width="8.9" height="65.80000000000001" fill="#0a0af0"/>
<line x1="889.35" y1="172" x2="889.35" y2="167" stroke="#0a0af0" stroke-width="1.8"/>
<line x1="887.35" y1="167" x2="891.35" y2="167" stroke="#0a0af0" stroke-width="2"/>
<rect x="894.2499999999999" y="111" width="8.9" height="126.80000000000001" fill="#dd0a0a"/>
<line x1="898.6999999999999" y1="111" x2="898.6999999999999" y2="106.4" stroke="#dd0a0a" stroke-width="1.8"/>
<line x1="896.6999999999999" y1="106.4" x2="900.6999999999999" y2="106.4" stroke="#dd0a0a" stroke-width="2"/>
<line x1="884.9" y1="237.8" x2="884.9" y2="242" stroke="#000" stroke-width="1.6"/>
<text x="0" y="0" font-size="11" text-anchor="end" fill="#151515" stroke="#151515" transform="translate(887.4,248.5) rotate(-45)">Bcl-2</text>
<rect x="909.8799999999999" y="194.1" width="8.9" height="43.70000000000002" fill="#050505"/>
<line x1="914.3299999999999" y1="194.1" x2="914.3299999999999" y2="188" stroke="#050505" stroke-width="1.8"/>
<line x1="912.3299999999999" y1="188" x2="916.3299999999999" y2="188" stroke="#050505" stroke-width="2"/>
<rect x="919.2299999999999" y="145" width="8.9" height="92.80000000000001" fill="#9e9ea0"/>
<line x1="923.68" y1="145" x2="923.68" y2="143" stroke="#111111" stroke-width="1.8"/>
<line x1="921.68" y1="143" x2="925.68" y2="143" stroke="#111111" stroke-width="2"/>
<rect x="928.5799999999999" y="189.9" width="8.9" height="47.900000000000006" fill="#0a0af0"/>
<line x1="933.03" y1="189.9" x2="933.03" y2="187.7" stroke="#0a0af0" stroke-width="1.8"/>
<line x1="931.03" y1="187.7" x2="935.03" y2="187.7" stroke="#0a0af0" stroke-width="2"/>
<rect x="937.9299999999998" y="198" width="8.9" height="39.80000000000001" fill="#dd0a0a"/>
<line x1="942.3799999999999" y1="198" x2="942.3799999999999" y2="194.1" stroke="#dd0a0a" stroke-width="1.8"/>
<line x1="940.3799999999999" y1="194.1" x2="944.3799999999999" y2="194.1" stroke="#dd0a0a" stroke-width="2"/>
<line x1="928.5799999999999" y1="237.8" x2="928.5799999999999" y2="242" stroke="#000" stroke-width="1.6"/>
<text x="0" y="0" font-size="11" text-anchor="end" fill="#151515" stroke="#151515" transform="translate(931.0799999999999,248.5) rotate(-45)">Active caspase 3</text>
<text x="661.6" y="112.89999999999999" font-size="11" text-anchor="middle" fill="#151515" stroke="#151515">**</text>
<text x="672.95" y="193" font-size="11" text-anchor="middle" fill="#151515" stroke="#151515">##</text>
<text x="705.28" y="139.0" font-size="11" text-anchor="middle" fill="#151515" stroke="#151515">**</text>
<text x="716.63" y="106.1" font-size="11" text-anchor="middle" fill="#151515" stroke="#151515">##</text>
<text x="748.96" y="138.0" font-size="11" text-anchor="middle" fill="#151515" stroke="#151515">**</text>
<text x="760.3100000000001" y="177.2" font-size="11" text-anchor="middle" fill="#151515" stroke="#151515">##</text>
<text x="792.64" y="135.4" font-size="11" text-anchor="middle" fill="#151515" stroke="#151515">**</text>
<text x="803.99" y="183.7" font-size="11" text-anchor="middle" fill="#151515" stroke="#151515">##</text>
<text x="836.32" y="110.5" font-size="11" text-anchor="middle" fill="#151515" stroke="#151515">**</text>
<text x="847.6700000000001" y="133.1" font-size="11" text-anchor="middle" fill="#151515" stroke="#151515">##</text>
<text x="880.0" y="180.60000000000002" font-size="11" text-anchor="middle" fill="#151515" stroke="#151515">**</text>
<text x="889.85" y="162.9" font-size="11" text-anchor="middle" fill="#151515" stroke="#151515">#</text>
<text x="923.68" y="142.5" font-size="11" text-anchor="middle" fill="#151515" stroke="#151515">**</text>
<text x="935.03" y="184.2" font-size="11" text-anchor="middle" fill="#151515" stroke="#151515">##</text>
<rect x="740" y="51.1" width="20.5" height="10.7" fill="#050505"/>
<text x="765.5" y="59.1" font-size="10.5" text-anchor="start" fill="#111" stroke="#111">Ctrl</text>
<rect x="740" y="64.4" width="20.5" height="10.7" fill="#9e9ea0"/>
<text x="765.5" y="72.4" font-size="10.5" text-anchor="start" fill="#111" stroke="#111">PB2_24 μM</text>
<rect x="740" y="77.7" width="20.5" height="10.7" fill="#0a0af0"/>
<text x="765.5" y="85.7" font-size="10.5" text-anchor="start" fill="#111" stroke="#111">3MA+PB2</text>
<rect x="740" y="91.0" width="20.5" height="10.7" fill="#dd0a0a"/>
<text x="765.5" y="99.0" font-size="10.5" text-anchor="start" fill="#111" stroke="#111">3MA</text>
<text x="168" y="332" font-size="22" text-anchor="start" font-weight="bold" fill="#000" stroke="#000">C</text>
<text x="188.1" y="463.8" font-size="6.2" text-anchor="middle" fill="#333">10<tspan font-size="5" dy="-2.8">0</tspan></text>
<text transform="translate(183.6,450.3) rotate(-90)" font-size="6.2" text-anchor="middle" fill="#333">10<tspan font-size="5" dy="-2.8">0</tspan></text>
<text x="215.1" y="463.8" font-size="6.2" text-anchor="middle" fill="#333">10<tspan font-size="5" dy="-2.8">1</tspan></text>
<text transform="translate(183.6,426.0) rotate(-90)" font-size="6.2" text-anchor="middle" fill="#333">10<tspan font-size="5" dy="-2.8">1</tspan></text>
<text x="242.1" y="463.8" font-size="6.2" text-anchor="middle" fill="#333">10<tspan font-size="5" dy="-2.8">2</tspan></text>
<text transform="translate(183.6,398.8) rotate(-90)" font-size="6.2" text-anchor="middle" fill="#333">10<tspan font-size="5" dy="-2.8">2</tspan></text>
<text x="269.0" y="463.8" font-size="6.2" text-anchor="middle" fill="#333">10<tspan font-size="5" dy="-2.8">3</tspan></text>
<text transform="translate(183.6,371.5) rotate(-90)" font-size="6.2" text-anchor="middle" fill="#333">10<tspan font-size="5" dy="-2.8">3</tspan></text>
<text x="296.0" y="463.8" font-size="6.2" text-anchor="middle" fill="#333">10<tspan font-size="5" dy="-2.8">4</tspan></text>
<text transform="translate(183.6,347.2) rotate(-90)" font-size="6.2" text-anchor="middle" fill="#333">10<tspan font-size="5" dy="-2.8">4</tspan></text>
<text x="240.2" y="469.3" font-size="5.5" text-anchor="middle" fill="#444">FITC</text>
<text transform="translate(175.6,402.8) rotate(-90)" font-size="6" text-anchor="middle" fill="#444">PI</text>
<path d="M195.2 453.3v1.6M187.1 445.1h-1.6M200.0 453.3v1.6M187.1 440.3h-1.6M203.3 453.3v1.6M187.1 436.9h-1.6M206.0 453.3v1.6M187.1 434.2h-1.6M208.1 453.3v1.6M187.1 432.1h-1.6M209.9 453.3v1.6M187.1 430.2h-1.6M211.5 453.3v1.6M187.1 428.7h-1.6M212.8 453.3v1.6M187.1 427.3h-1.6M187.1 453.3v2.5M187.1 453.3h-2.5M222.2 453.3v1.6M187.1 417.8h-1.6M226.9 453.3v1.6M187.1 413.0h-1.6M230.3 453.3v1.6M187.1 409.6h-1.6M232.9 453.3v1.6M187.1 407.0h-1.6M235.1 453.3v1.6M187.1 404.8h-1.6M236.9 453.3v1.6M187.1 403.0h-1.6M238.4 453.3v1.6M187.1 401.4h-1.6M239.8 453.3v1.6M187.1 400.0h-1.6M214.1 453.3v2.5M187.1 426.0h-2.5M249.2 453.3v1.6M187.1 390.5h-1.6M253.9 453.3v1.6M187.1 385.7h-1.6M257.3 453.3v1.6M187.1 382.3h-1.6M259.9 453.3v1.6M187.1 379.7h-1.6M262.0 453.3v1.6M187.1 377.5h-1.6M263.8 453.3v1.6M187.1 375.7h-1.6M265.4 453.3v1.6M187.1 374.1h-1.6M266.8 453.3v1.6M187.1 372.7h-1.6M241.1 453.3v2.5M187.1 398.8h-2.5M276.1 453.3v1.6M187.1 363.3h-1.6M280.9 453.3v1.6M187.1 358.5h-1.6M284.3 453.3v1.6M187.1 355.1h-1.6M286.9 453.3v1.6M187.1 352.4h-1.6M289.0 453.3v1.6M187.1 350.3h-1.6M290.8 453.3v1.6M187.1 348.4h-1.6M292.4 453.3v1.6M187.1 346.8h-1.6M293.8 453.3v1.6M187.1 345.4h-1.6M268.0 453.3v2.5M187.1 371.5h-2.5M295.0 453.3v2.5M187.1 344.2h-2.5" stroke="#333" stroke-width="0.7" fill="none"/>
<text x="238.3" y="336.2" font-size="14" text-anchor="middle" font-weight="bold" fill="#111" stroke="#111">Ctrl</text>
<text x="283.5" y="363.2" font-size="13.5" text-anchor="end" fill="#111" stroke="#111">0.2%</text>
<text x="283.5" y="429.8" font-size="13.5" text-anchor="end" fill="#111" stroke="#111">0.7%</text>
<path d="M222.3 414.4L222.5 414.2L222.8 414.1L223.0 414.0L223.3 413.9L223.6 413.9L223.9 413.9L224.2 414.0L224.4 414.2L224.6 414.4L224.8 414.6L225.0 414.9L225.1 415.1L225.1 415.4L225.1 415.7L225.0 416.0L224.9 416.2L208.0 448.4L207.3 449.5L206.3 450.4L205.2 451.1L204.0 451.5L202.7 451.7L201.4 451.6L200.1 451.2L198.9 450.6L198.0 449.7L197.2 448.7L196.6 447.5L196.3 446.2L196.3 444.9L196.6 443.6L197.1 442.4L197.9 441.3Z" fill="#e2330f" filter="url(#bl6)"/>
<path d="M210.2 438.6h1.0M196.4 441.3h1.0M214.5 449.4h1.0M219.7 422.7h1.0M225.7 417.3h1.0M211.1 426.6h1.0M212.1 429.0h1.0M212.1 424.0h1.0M209.0 434.9h1.0M217.7 421.3h1.0M228.0 419.7h1.0M195.6 433.2h1.0M216.5 421.2h1.0M225.3 414.7h1.0M196.2 428.7h1.0M202.7 418.2h1.0M214.6 447.6h1.0M215.0 426.6h1.0M218.1 422.3h1.0M215.4 425.8h1.0M204.4 444.7h1.0M191.4 448.0h1.0M216.4 409.7h1.0M217.9 412.5h1.0M202.8 439.1h1.0M210.1 446.7h1.0M207.9 448.8h1.0M217.5 430.3h1.0M217.2 441.1h1.0M216.6 451.9h1.0M224.4 431.5h1.0M216.6 425.5h1.0M218.7 413.9h1.0M213.5 420.9h1.0M223.1 417.2h1.0M194.3 437.4h1.0M198.1 448.6h1.0M226.5 415.4h1.0M205.4 440.4h1.0M212.1 417.4h1.0M194.7 430.2h1.0M207.1 427.1h1.0M211.2 422.4h1.0M208.3 447.3h1.0M209.6 427.9h1.0M207.5 438.9h1.0M220.9 424.1h1.0M204.4 443.4h1.0M196.3 441.2h1.0M221.5 417.7h1.0M206.5 428.9h1.0M203.7 437.2h1.0M210.2 418.4h1.0M194.1 437.2h1.0M205.1 420.0h1.0M206.9 423.8h1.0M194.7 424.7h1.0M219.4 416.2h1.0M223.2 423.9h1.0M196.5 431.0h1.0M200.7 429.6h1.0M212.2 434.5h1.0M222.7 411.1h1.0M199.8 448.0h1.0M204.4 429.3h1.0M206.8 438.2h1.0M213.0 428.6h1.0M215.4 435.1h1.0M211.1 423.2h1.0M218.7 412.2h1.0M205.1 434.6h1.0M213.1 442.6h1.0M204.2 448.5h1.0M215.3 428.2h1.0M209.6 435.8h1.0M196.1 438.9h1.0M213.4 424.4h1.0M221.3 421.2h1.0M204.1 442.1h1.0M203.3 433.4h1.0M216.9 414.4h1.0M200.3 433.9h1.0M216.0 410.3h1.0M201.3 440.9h1.0M201.5 438.1h1.0M197.9 445.5h1.0M207.9 424.3h1.0M217.5 419.6h1.0M213.9 415.8h1.0M218.3 414.5h1.0M215.7 416.2h1.0M218.4 424.2h1.0M197.3 446.4h1.0M206.3 423.1h1.0M216.8 412.0h1.0M218.8 426.1h1.0M216.2 425.0h1.0M201.8 434.9h1.0M218.6 427.1h1.0M216.4 425.3h1.0M212.4 421.2h1.0M203.8 430.6h1.0M224.4 413.5h1.0M224.0 415.5h1.0M200.9 433.6h1.0M221.2 416.8h1.0M213.2 432.7h1.0M192.4 444.2h1.0M212.1 427.6h1.0M222.4 425.2h1.0M200.3 436.2h1.0M205.4 432.7h1.0M213.0 433.3h1.0M213.7 437.1h1.0M221.3 418.3h1.0M217.4 422.1h1.0M213.8 439.3h1.0M204.9 435.3h1.0M210.5 433.8h1.0M208.1 446.1h1.0M230.6 417.8h1.0M210.7 441.9h1.0M215.0 423.3h1.0M203.8 430.8h1.0M223.5 417.0h1.0M219.1 420.3h1.0M221.5 413.1h1.0M198.3 435.0h1.0M213.8 426.4h1.0M220.4 417.1h1.0M218.6 410.5h1.0M200.0 423.7h1.0M213.6 429.9h1.0M212.0 419.6h1.0M208.9 439.3h1.0M194.6 436.9h1.0M203.6 441.6h1.0M218.4 436.7h1.0M218.0 424.3h1.0M201.2 434.6h1.0M210.8 435.2h1.0M218.6 420.2h1.0M216.1 439.2h1.0M220.7 419.2h1.0M213.6 442.2h1.0M219.9 414.9h1.0M222.3 431.8h1.0M211.2 429.9h1.0M199.9 442.7h1.0M220.8 421.5h1.0M189.9 441.5h1.0M200.9 440.3h1.0M221.2 423.4h1.0M219.9 419.0h1.0M212.7 406.1h1.0M203.4 445.0h1.0M222.8 415.6h1.0M224.5 413.6h1.0M220.0 418.1h1.0M218.9 414.0h1.0M222.1 421.0h1.0M215.9 437.4h1.0M222.8 418.8h1.0M196.7 440.6h1.0M208.6 415.9h1.0M217.5 427.5h1.0M218.5 428.0h1.0M210.7 430.1h1.0M210.3 432.8h1.0M227.3 417.5h1.0M200.9 450.2h1.0M214.2 411.8h1.0M205.2 430.7h1.0M211.1 424.0h1.0M197.8 431.7h1.0M198.1 450.5h1.0M213.8 420.0h1.0M204.7 428.7h1.0M208.5 434.2h1.0M198.6 428.3h1.0M209.7 441.3h1.0M211.9 433.2h1.0M215.9 435.8h1.0M221.3 419.5h1.0M201.6 445.1h1.0M194.5 442.2h1.0M232.6 415.5h1.0M212.9 421.9h1.0M218.0 424.0h1.0M218.7 422.0h1.0M202.3 447.3h1.0M194.6 441.5h1.0M207.9 424.9h1.0M200.6 426.0h1.0M194.5 437.6h1.0M217.3 417.2h1.0M199.2 442.1h1.0M214.8 427.8h1.0M215.8 430.2h1.0M226.3 421.7h1.0M221.2 433.1h1.0M223.2 420.5h1.0M221.3 432.5h1.0M226.1 429.9h1.0M211.1 433.2h1.0M213.8 433.2h1.0M188.4 437.6h1.0M210.4 411.3h1.0M206.2 430.3h1.0M215.3 412.4h1.0M222.6 424.8h1.0M223.1 425.8h1.0M206.2 449.8h1.0M215.1 426.7h1.0M197.0 450.3h1.0M198.1 432.7h1.0M210.7 438.1h1.0M195.8 433.0h1.0M193.4 434.2h1.0M205.5 425.3h1.0M193.3 441.3h1.0M202.0 431.8h1.0M200.2 432.9h1.0M220.7 420.4h1.0M217.2 412.3h1.0M214.0 423.6h1.0M215.5 437.3h1.0M216.6 419.7h1.0M211.8 418.2h1.0M221.7 418.0h1.0M217.8 420.8h1.0M216.7 418.5h1.0M227.0 420.0h1.0M220.5 415.9h1.0M200.9 429.2h1.0M217.4 442.8h1.0M212.2 444.7h1.0M214.6 412.5h1.0M222.7 414.0h1.0M224.8 416.9h1.0M218.9 412.6h1.0M211.3 430.5h1.0M203.8 437.5h1.0M202.9 427.4h1.0M216.1 414.9h1.0M210.5 423.6h1.0M223.5 423.5h1.0M204.6 449.6h1.0M216.5 413.0h1.0M211.0 429.7h1.0M202.8 421.8h1.0M203.6 433.4h1.0M198.0 440.4h1.0M220.0 417.3h1.0M215.1 426.9h1.0M212.1 424.5h1.0M209.5 427.4h1.0M199.8 440.5h1.0M220.5 425.7h1.0M218.3 419.5h1.0M215.0 434.1h1.0M220.6 404.0h1.0M222.1 406.2h1.0M200.1 433.8h1.0M209.5 425.3h1.0M207.0 424.7h1.0M212.8 417.8h1.0M208.8 435.2h1.0M212.6 407.9h1.0M200.0 426.6h1.0M213.7 430.5h1.0M207.9 428.2h1.0M207.5 425.2h1.0M189.9 439.1h1.0M191.5 433.4h1.0M207.3 420.8h1.0M201.3 426.5h1.0M210.3 439.3h1.0M194.9 445.1h1.0M205.4 438.1h1.0M209.3 426.3h1.0M204.6 431.2h1.0M216.4 433.2h1.0M219.5 415.2h1.0M214.4 421.9h1.0M210.0 437.7h1.0M207.2 440.8h1.0M203.4 423.7h1.0M204.4 431.7h1.0M208.2 431.5h1.0M215.5 429.1h1.0M204.7 428.3h1.0M209.2 432.0h1.0M219.4 419.2h1.0M211.0 413.5h1.0M211.6 432.6h1.0M214.0 434.2h1.0M219.6 417.5h1.0M216.5 420.9h1.0M227.3 416.8h1.0M222.2 417.2h1.0M205.5 427.8h1.0M211.3 429.2h1.0M212.2 422.5h1.0M214.3 425.8h1.0M208.0 442.5h1.0M206.0 437.4h1.0M214.1 414.2h1.0M201.1 450.3h1.0M212.9 411.4h1.0M205.5 417.3h1.0M214.7 430.2h1.0M212.4 437.8h1.0M209.3 429.7h1.0M197.1 440.0h1.0M223.4 422.5h1.0M211.6 417.4h1.0M216.3 438.2h1.0M217.2 437.4h1.0M207.8 438.6h1.0M217.2 423.5h1.0M217.7 419.6h1.0M211.0 409.3h1.0M222.5 421.5h1.0M223.0 419.5h1.0M220.8 432.2h1.0M206.1 421.3h1.0M205.6 427.7h1.0M222.7 407.7h1.0M217.6 417.9h1.0M223.1 408.1h1.0M205.2 423.9h1.0M216.1 424.5h1.0M220.9 415.7h1.0M219.5 413.4h1.0M219.0 422.6h1.0M211.8 422.4h1.0M208.5 417.2h1.0M207.4 427.8h1.0M216.8 425.5h1.0M212.0 417.3h1.0M202.9 431.6h1.0M201.8 431.2h1.0M197.1 436.7h1.0M212.2 426.4h1.0M215.8 418.8h1.0M206.5 422.1h1.0M214.1 438.8h1.0M215.8 442.7h1.0M223.5 418.7h1.0M207.9 435.7h1.0M207.6 430.4h1.0M223.1 415.2h1.0M220.3 416.8h1.0M215.8 411.5h1.0M227.4 416.9h1.0M213.9 421.0h1.0M214.5 436.1h1.0M219.8 421.2h1.0M210.8 431.4h1.0M188.9 442.7h1.0M203.2 438.1h1.0M214.7 426.9h1.0M209.1 434.2h1.0M204.0 445.9h1.0M215.1 426.6h1.0M207.5 437.9h1.0M208.6 440.1h1.0M223.4 413.7h1.0M212.2 428.7h1.0M214.3 421.2h1.0M197.7 441.1h1.0M215.7 432.8h1.0M212.5 447.3h1.0M207.6 444.3h1.0M212.6 441.4h1.0M217.9 421.3h1.0M216.5 429.3h1.0M218.4 424.3h1.0M200.0 425.1h1.0M199.3 427.1h1.0M205.3 423.1h1.0M209.2 433.3h1.0M214.7 429.2h1.0M210.3 442.8h1.0M220.5 432.4h1.0M206.9 424.3h1.0M207.0 447.1h1.0M210.7 437.6h1.0M196.5 437.4h1.0M221.5 416.3h1.0M214.3 429.5h1.0M195.8 448.1h1.0M223.2 412.9h1.0M221.2 414.7h1.0M219.2 430.8h1.0M207.9 452.1h1.0M218.4 418.9h1.0M213.0 426.6h1.0M213.1 431.4h1.0M220.6 418.3h1.0M213.2 414.3h1.0M215.4 432.0h1.0M208.3 440.6h1.0M212.7 412.0h1.0M203.1 427.6h1.0M207.6 439.0h1.0M206.4 425.6h1.0M219.0 446.1h1.0M193.8 450.7h1.0M221.2 411.1h1.0M201.5 422.8h1.0M214.2 412.8h1.0M214.0 418.0h1.0M213.0 416.2h1.0M207.1 429.4h1.0M196.4 434.1h1.0M200.6 427.3h1.0M206.0 431.4h1.0M195.5 436.4h1.0M217.6 416.9h1.0M213.6 427.5h1.0M219.5 411.4h1.0M206.3 426.7h1.0M215.1 429.8h1.0M195.0 445.5h1.0M215.5 414.3h1.0M216.9 422.6h1.0M222.0 413.3h1.0M214.4 409.7h1.0M208.8 443.5h1.0M221.2 424.8h1.0M202.3 425.6h1.0M215.2 425.9h1.0M193.6 419.7h1.0M206.6 448.4h1.0M208.7 450.7h1.0M207.6 442.6h1.0M214.0 423.4h1.0M208.9 431.7h1.0M214.0 430.9h1.0M214.0 436.7h1.0M211.5 427.8h1.0M218.6 426.7h1.0M216.4 426.3h1.0M212.3 449.3h1.0M230.9 384.5h1.0M215.8 375.7h1.0M214.7 389.3h1.0M209.9 373.3h1.0M199.6 411.3h1.0M208.0 382.2h1.0M202.1 384.2h1.0M203.8 371.7h1.0M219.6 387.1h1.0M200.8 405.3h1.0M198.4 383.5h1.0M225.9 376.4h1.0M211.4 411.8h1.0M224.8 378.0h1.0M208.1 406.1h1.0M208.9 417.9h1.0M202.7 417.5h1.0M213.7 381.4h1.0M211.7 376.5h1.0M221.1 383.0h1.0M228.3 399.4h1.0M208.6 382.3h1.0M217.5 380.6h1.0M227.3 376.1h1.0M214.0 397.1h1.0M205.0 408.6h1.0M209.2 402.9h1.0M216.0 385.5h1.0M209.4 374.3h1.0M201.6 412.6h1.0M238.3 418.1h1.0M231.5 411.5h1.0M239.6 407.5h1.0M237.5 379.3h1.0M238.0 389.7h1.0M232.0 421.6h1.0M237.0 401.2h1.0M257.1 425.4h1.0" stroke="#b8442a" stroke-width="1.0" stroke-opacity="0.7" fill="none"/>
<rect x="187.1" y="344.2" width="107.9" height="109.10000000000002" fill="none" stroke="#2a2a2a" stroke-width="1.3"/>
<line x1="227.2" y1="344.2" x2="227.2" y2="453.3" stroke="#3a3a3a" stroke-width="1.1"/>
<line x1="187.1" y1="405.6" x2="295" y2="405.6" stroke="#3a3a3a" stroke-width="1.1"/>
<text x="328.5" y="465.3" font-size="6.2" text-anchor="middle" fill="#333">10<tspan font-size="5" dy="-2.8">0</tspan></text>
<text transform="translate(324.0,451.8) rotate(-90)" font-size="6.2" text-anchor="middle" fill="#333">10<tspan font-size="5" dy="-2.8">0</tspan></text>
<text x="355.6" y="465.3" font-size="6.2" text-anchor="middle" fill="#333">10<tspan font-size="5" dy="-2.8">1</tspan></text>
<text transform="translate(324.0,427.2) rotate(-90)" font-size="6.2" text-anchor="middle" fill="#333">10<tspan font-size="5" dy="-2.8">1</tspan></text>
<text x="382.6" y="465.3" font-size="6.2" text-anchor="middle" fill="#333">10<tspan font-size="5" dy="-2.8">2</tspan></text>
<text transform="translate(324.0,399.6) rotate(-90)" font-size="6.2" text-anchor="middle" fill="#333">10<tspan font-size="5" dy="-2.8">2</tspan></text>
<text x="409.7" y="465.3" font-size="6.2" text-anchor="middle" fill="#333">10<tspan font-size="5" dy="-2.8">3</tspan></text>
<text transform="translate(324.0,372.0) rotate(-90)" font-size="6.2" text-anchor="middle" fill="#333">10<tspan font-size="5" dy="-2.8">3</tspan></text>
<text x="436.8" y="465.3" font-size="6.2" text-anchor="middle" fill="#333">10<tspan font-size="5" dy="-2.8">4</tspan></text>
<text transform="translate(324.0,347.4) rotate(-90)" font-size="6.2" text-anchor="middle" fill="#333">10<tspan font-size="5" dy="-2.8">4</tspan></text>
<text x="381.1" y="470.8" font-size="5.5" text-anchor="middle" fill="#444">FITC</text>
<text transform="translate(316.0,403.6) rotate(-90)" font-size="6" text-anchor="middle" fill="#444">PI</text>
<path d="M335.7 454.8v1.6M327.5 446.5h-1.6M340.4 454.8v1.6M327.5 441.6h-1.6M343.8 454.8v1.6M327.5 438.2h-1.6M346.4 454.8v1.6M327.5 435.5h-1.6M348.6 454.8v1.6M327.5 433.3h-1.6M350.4 454.8v1.6M327.5 431.5h-1.6M352.0 454.8v1.6M327.5 429.9h-1.6M353.3 454.8v1.6M327.5 428.5h-1.6M327.5 454.8v2.5M327.5 454.8h-2.5M362.7 454.8v1.6M327.5 418.9h-1.6M367.5 454.8v1.6M327.5 414.0h-1.6M370.9 454.8v1.6M327.5 410.6h-1.6M373.5 454.8v1.6M327.5 407.9h-1.6M375.6 454.8v1.6M327.5 405.7h-1.6M377.5 454.8v1.6M327.5 403.9h-1.6M379.0 454.8v1.6M327.5 402.3h-1.6M380.4 454.8v1.6M327.5 400.9h-1.6M354.6 454.8v2.5M327.5 427.2h-2.5M389.8 454.8v1.6M327.5 391.3h-1.6M394.6 454.8v1.6M327.5 386.4h-1.6M398.0 454.8v1.6M327.5 383.0h-1.6M400.6 454.8v1.6M327.5 380.3h-1.6M402.7 454.8v1.6M327.5 378.1h-1.6M404.5 454.8v1.6M327.5 376.3h-1.6M406.1 454.8v1.6M327.5 374.7h-1.6M407.5 454.8v1.6M327.5 373.3h-1.6M381.6 454.8v2.5M327.5 399.6h-2.5M416.9 454.8v1.6M327.5 363.7h-1.6M421.6 454.8v1.6M327.5 358.8h-1.6M425.0 454.8v1.6M327.5 355.4h-1.6M427.6 454.8v1.6M327.5 352.7h-1.6M429.8 454.8v1.6M327.5 350.5h-1.6M431.6 454.8v1.6M327.5 348.7h-1.6M433.2 454.8v1.6M327.5 347.1h-1.6M434.6 454.8v1.6M327.5 345.7h-1.6M408.7 454.8v2.5M327.5 372.0h-2.5M435.8 454.8v2.5M327.5 344.4h-2.5" stroke="#333" stroke-width="0.7" fill="none"/>
<text x="384.1" y="336.6" font-size="14" text-anchor="middle" font-weight="bold" fill="#111" stroke="#111">PB2_24 μM</text>
<text x="434.5" y="363.2" font-size="13.5" text-anchor="end" fill="#111" stroke="#111">11.9%</text>
<text x="434.5" y="429.8" font-size="13.5" text-anchor="end" fill="#111" stroke="#111">19.9%</text>
<path d="M366.5 406.6L367.2 405.9L368.1 405.3L369.0 404.9L370.0 404.7L371.0 404.7L372.0 404.9L373.0 405.3L373.8 405.9L374.5 406.6L375.1 407.4L375.5 408.3L375.8 409.3L375.8 410.4L375.6 411.4L375.3 412.3L374.7 413.2L361.3 431.1L360.5 432.0L359.5 432.7L358.4 433.2L357.3 433.5L356.1 433.5L354.9 433.3L353.8 432.8L352.8 432.2L351.9 431.3L351.2 430.4L350.8 429.2L350.5 428.1L350.5 426.9L350.8 425.7L351.3 424.6L351.9 423.6Z" fill="#e2330f" filter="url(#bl6)"/>
<ellipse cx="360" cy="379.5" rx="3.5" ry="2" transform="rotate(0 360 379.5)" fill="#e2330f" filter="url(#bl6)"/>
<ellipse cx="384" cy="379.5" rx="7.5" ry="2.4" transform="rotate(0 384 379.5)" fill="#e2330f" filter="url(#bl6)"/>
<path d="M373.3 406.3h1.0M360.7 422.3h1.0M366.0 423.0h1.0M366.0 420.6h1.0M364.3 428.7h1.0M353.9 434.7h1.0M362.5 410.3h1.0M370.2 421.4h1.0M369.5 425.0h1.0M360.8 415.1h1.0M372.4 417.9h1.0M368.7 427.9h1.0M367.0 405.9h1.0M352.6 412.9h1.0M372.6 415.0h1.0M353.2 420.9h1.0M363.9 427.4h1.0M365.4 427.5h1.0M360.3 433.9h1.0M365.2 418.2h1.0M366.2 409.8h1.0M357.1 418.9h1.0M356.1 433.1h1.0M356.7 416.3h1.0M353.6 423.3h1.0M369.9 403.1h1.0M361.4 406.8h1.0M372.6 418.5h1.0M371.7 413.6h1.0M358.2 418.3h1.0M351.5 415.4h1.0M367.1 399.3h1.0M363.8 421.2h1.0M369.3 425.9h1.0M363.7 399.6h1.0M355.0 436.1h1.0M374.3 429.6h1.0M366.0 428.9h1.0M371.7 407.9h1.0M354.6 423.3h1.0M369.0 409.1h1.0M360.1 423.3h1.0M346.0 425.6h1.0M364.5 406.0h1.0M360.2 411.2h1.0M361.9 426.6h1.0M359.9 434.5h1.0M352.7 416.1h1.0M358.1 422.2h1.0M363.0 419.6h1.0M363.6 429.4h1.0M351.8 425.0h1.0M374.5 426.6h1.0M373.2 419.9h1.0M361.8 418.7h1.0M371.5 419.2h1.0M351.5 431.8h1.0M360.8 417.8h1.0M356.2 407.2h1.0M362.0 411.4h1.0M353.4 430.2h1.0M377.9 426.5h1.0M364.7 422.2h1.0M360.6 408.8h1.0M360.5 417.8h1.0M368.3 429.4h1.0M368.0 409.8h1.0M367.3 414.6h1.0M362.2 417.3h1.0M360.7 418.4h1.0M353.7 433.1h1.0M349.1 436.1h1.0M354.7 429.9h1.0M368.4 419.0h1.0M364.7 421.8h1.0M374.0 415.4h1.0M365.5 406.9h1.0M359.2 432.1h1.0M366.0 404.2h1.0M357.7 426.5h1.0M351.1 436.6h1.0M361.5 441.0h1.0M363.9 419.6h1.0M365.4 427.5h1.0M357.7 411.9h1.0M360.8 432.9h1.0M363.4 407.6h1.0M367.2 420.7h1.0M358.0 431.3h1.0M370.2 410.6h1.0M373.0 413.1h1.0M365.5 426.6h1.0M363.3 406.1h1.0M359.6 420.0h1.0M347.0 432.7h1.0M364.3 424.2h1.0M362.9 408.7h1.0M365.8 424.9h1.0M372.8 417.9h1.0M358.6 409.6h1.0M366.2 421.6h1.0M379.4 412.2h1.0M369.1 416.2h1.0M363.3 418.3h1.0M373.2 418.3h1.0M366.4 423.1h1.0M361.4 430.8h1.0M367.7 429.2h1.0M361.2 422.1h1.0M356.8 415.0h1.0M369.1 412.2h1.0M364.2 405.8h1.0M354.5 425.4h1.0M369.2 422.0h1.0M364.0 418.5h1.0M356.2 429.8h1.0M354.6 415.7h1.0M365.8 418.1h1.0M374.2 425.8h1.0M374.7 422.8h1.0M357.8 416.8h1.0M367.4 418.0h1.0M375.4 411.5h1.0M364.9 432.0h1.0M366.5 426.6h1.0M345.4 431.3h1.0M357.9 416.9h1.0M365.9 415.6h1.0M367.8 406.6h1.0M348.4 426.3h1.0M369.5 421.7h1.0M377.1 414.2h1.0M355.2 435.2h1.0M369.2 429.3h1.0M369.7 414.4h1.0M368.1 432.0h1.0M374.9 413.6h1.0M370.0 420.3h1.0M350.7 411.5h1.0M356.9 423.6h1.0M358.1 413.6h1.0M352.4 417.5h1.0M361.0 408.8h1.0M363.3 410.2h1.0M368.1 422.3h1.0M377.5 405.3h1.0M364.9 415.1h1.0M352.9 432.0h1.0M377.7 428.9h1.0M367.4 404.9h1.0M359.9 422.0h1.0M367.7 421.5h1.0M360.2 432.5h1.0M375.1 417.6h1.0M352.6 427.4h1.0M354.7 428.3h1.0M357.7 414.6h1.0M372.2 419.7h1.0M358.3 415.4h1.0M356.6 418.4h1.0M347.8 421.1h1.0M368.1 415.0h1.0M367.5 410.5h1.0M354.5 411.7h1.0M360.5 438.4h1.0M358.3 410.7h1.0M354.4 416.3h1.0M373.0 403.3h1.0M342.0 419.5h1.0M360.5 428.2h1.0M355.4 422.9h1.0M367.8 418.9h1.0M356.3 425.6h1.0M369.3 419.5h1.0M353.1 436.2h1.0M362.1 416.3h1.0M354.5 405.1h1.0M349.1 430.1h1.0M374.9 415.7h1.0M360.5 413.6h1.0M362.2 429.2h1.0M364.5 430.3h1.0M358.8 415.2h1.0M352.0 411.7h1.0M361.5 431.4h1.0M365.6 417.8h1.0M373.3 412.7h1.0M353.3 421.7h1.0M360.7 417.4h1.0M376.0 411.2h1.0M357.1 427.1h1.0M370.1 410.9h1.0M362.3 431.5h1.0M383.2 414.3h1.0M367.2 419.3h1.0M359.5 416.2h1.0M367.4 425.5h1.0M358.6 418.6h1.0M351.8 417.9h1.0M370.4 424.2h1.0M366.1 413.9h1.0M374.9 418.0h1.0M349.5 427.2h1.0M350.5 430.1h1.0M370.3 412.3h1.0M364.5 413.5h1.0M359.6 415.7h1.0M361.3 426.5h1.0M365.5 429.2h1.0M351.5 417.2h1.0M362.3 410.1h1.0M377.8 412.0h1.0M367.0 423.4h1.0M369.4 431.5h1.0M374.5 419.7h1.0M371.5 410.9h1.0M351.9 416.7h1.0M367.6 431.8h1.0M373.4 422.1h1.0M372.4 399.2h1.0M369.3 405.5h1.0M375.1 416.1h1.0M363.1 417.9h1.0M370.3 414.3h1.0M363.4 413.4h1.0M372.4 426.7h1.0M353.0 416.1h1.0M366.6 435.4h1.0M357.9 418.8h1.0M362.8 424.4h1.0M357.0 418.7h1.0M362.8 415.2h1.0M365.2 415.7h1.0M346.9 420.6h1.0M372.2 416.1h1.0M366.6 421.7h1.0M353.7 431.4h1.0M369.7 417.0h1.0M345.7 414.5h1.0M358.4 423.0h1.0M355.6 411.8h1.0M352.1 410.4h1.0M367.9 406.8h1.0M374.2 406.9h1.0M375.0 420.7h1.0M364.3 423.7h1.0M365.4 404.5h1.0M361.8 404.2h1.0M367.3 411.6h1.0M373.1 419.9h1.0M367.3 424.3h1.0M355.4 433.6h1.0M353.1 425.1h1.0M368.7 417.8h1.0M368.1 410.5h1.0M355.7 416.3h1.0M364.8 426.0h1.0M364.2 429.5h1.0M357.0 408.3h1.0M343.7 421.9h1.0M365.1 412.3h1.0M362.3 409.1h1.0M368.8 403.5h1.0M365.6 417.3h1.0M372.1 411.1h1.0M368.4 411.9h1.0M355.8 417.4h1.0M351.7 412.1h1.0M373.0 408.5h1.0M354.2 411.6h1.0M371.5 427.8h1.0M368.5 429.6h1.0M363.7 417.9h1.0M351.3 421.9h1.0M344.5 431.0h1.0M359.4 434.1h1.0M354.4 418.7h1.0M354.7 410.3h1.0M349.5 426.8h1.0M359.4 420.9h1.0M368.9 413.3h1.0M374.5 412.5h1.0M359.8 413.3h1.0M359.8 430.6h1.0M356.3 421.4h1.0M360.4 406.2h1.0M374.8 407.9h1.0M365.2 417.4h1.0M354.5 430.0h1.0M362.3 436.9h1.0M360.7 415.3h1.0M369.7 418.8h1.0M366.0 412.9h1.0M359.2 431.2h1.0M375.6 411.7h1.0M370.6 408.4h1.0M354.0 420.6h1.0M368.5 421.0h1.0M351.9 437.5h1.0M359.8 436.3h1.0M351.2 421.3h1.0M363.1 409.1h1.0M375.5 418.1h1.0M355.8 418.0h1.0M364.4 421.1h1.0M354.4 427.7h1.0M364.7 409.1h1.0M363.2 428.8h1.0M354.0 413.4h1.0M367.1 425.8h1.0M367.6 402.5h1.0M361.0 412.6h1.0M364.8 416.3h1.0M367.1 409.2h1.0M362.4 423.7h1.0M369.8 407.9h1.0M367.2 423.2h1.0M366.7 425.0h1.0M374.2 417.3h1.0M372.8 415.8h1.0M363.6 431.5h1.0M353.4 413.1h1.0M370.0 402.6h1.0M371.4 407.7h1.0M370.5 420.0h1.0M357.5 428.7h1.0M363.0 400.5h1.0M365.4 422.6h1.0M358.4 440.7h1.0M376.1 406.4h1.0M361.7 418.2h1.0M375.3 419.8h1.0M376.5 412.8h1.0M360.4 437.0h1.0M356.1 436.1h1.0M359.0 398.1h1.0M359.3 435.7h1.0M365.6 405.7h1.0M362.6 411.4h1.0M365.9 426.8h1.0M367.2 404.8h1.0M349.4 429.4h1.0M373.8 419.8h1.0M368.7 419.8h1.0M364.1 423.9h1.0M360.7 413.1h1.0M366.8 430.9h1.0M365.3 426.1h1.0M368.6 422.8h1.0M352.4 431.4h1.0M361.8 416.7h1.0M361.1 434.0h1.0M358.9 417.4h1.0M366.4 424.6h1.0M360.9 412.3h1.0M353.1 426.0h1.0M350.7 423.3h1.0M359.6 411.6h1.0M376.0 419.0h1.0M369.8 419.2h1.0M363.9 412.6h1.0M355.3 417.5h1.0M364.5 410.9h1.0M350.4 428.3h1.0M348.7 423.5h1.0M368.7 401.9h1.0M371.2 417.1h1.0M370.9 426.3h1.0M359.0 409.1h1.0M367.4 423.7h1.0M381.8 412.3h1.0M369.5 418.5h1.0M367.1 421.7h1.0M349.7 434.3h1.0M351.6 423.6h1.0M359.0 435.9h1.0M366.2 433.8h1.0M362.9 429.1h1.0M369.9 413.7h1.0M358.6 417.9h1.0M364.7 426.4h1.0M353.1 418.5h1.0M357.5 415.4h1.0M373.3 409.1h1.0M364.3 421.1h1.0M355.0 428.6h1.0M357.0 416.7h1.0M347.2 428.8h1.0M370.8 427.9h1.0M371.3 417.6h1.0M369.3 417.2h1.0M360.0 435.2h1.0M363.5 434.3h1.0M362.4 407.4h1.0M365.3 425.6h1.0M367.1 419.7h1.0M359.4 409.8h1.0M359.9 439.2h1.0M373.4 407.2h1.0M365.3 421.6h1.0M355.8 415.9h1.0M374.9 410.8h1.0M374.2 416.8h1.0M362.4 429.3h1.0M367.7 430.5h1.0M360.8 423.3h1.0M362.0 408.5h1.0M367.0 421.0h1.0M350.5 421.5h1.0M369.9 430.3h1.0M361.1 432.3h1.0M354.0 426.1h1.0M355.9 420.4h1.0M372.2 411.5h1.0M365.0 423.0h1.0M373.9 412.9h1.0M358.7 410.7h1.0M367.9 424.7h1.0M365.8 428.4h1.0M357.4 413.3h1.0M350.4 432.4h1.0M354.8 422.8h1.0M347.3 425.9h1.0M356.0 411.8h1.0M376.9 405.8h1.0M357.5 416.7h1.0M345.5 435.6h1.0M374.6 422.8h1.0M351.7 423.2h1.0M358.1 426.8h1.0M373.7 414.2h1.0M375.3 415.7h1.0M361.6 413.7h1.0M361.1 418.0h1.0M351.8 424.6h1.0M358.6 418.5h1.0M366.2 411.7h1.0M372.6 411.1h1.0M370.3 407.6h1.0M369.2 427.2h1.0M354.6 411.8h1.0M377.4 412.8h1.0M367.3 420.9h1.0M359.1 425.9h1.0M371.9 407.1h1.0M361.6 409.9h1.0M354.6 420.6h1.0M352.7 434.2h1.0M367.4 422.8h1.0M369.2 422.4h1.0M374.6 411.3h1.0M367.5 400.8h1.0M374.2 425.3h1.0M369.4 413.4h1.0M353.3 430.5h1.0M350.5 422.7h1.0M373.9 427.6h1.0M359.3 416.6h1.0M377.6 411.6h1.0M356.8 431.2h1.0M347.1 420.6h1.0M365.4 408.1h1.0M363.4 409.8h1.0M374.0 426.0h1.0M383.6 407.4h1.0M367.0 410.7h1.0M358.3 433.3h1.0M352.0 434.6h1.0M359.4 431.9h1.0M354.0 420.8h1.0M364.5 408.7h1.0M356.6 415.8h1.0M363.6 406.1h1.0M362.0 412.1h1.0M351.4 429.3h1.0M360.6 434.0h1.0M342.1 426.5h1.0M366.1 428.7h1.0M367.2 428.7h1.0M352.2 433.5h1.0M362.7 420.1h1.0M357.3 417.0h1.0M358.8 431.2h1.0M353.1 431.0h1.0M359.5 407.1h1.0M370.2 434.2h1.0M351.9 437.1h1.0M355.0 420.1h1.0M357.9 428.0h1.0M354.2 427.3h1.0M362.2 427.5h1.0M361.4 439.5h1.0M359.7 434.0h1.0M374.8 409.5h1.0M365.4 422.0h1.0M367.4 424.5h1.0M371.4 416.1h1.0M362.2 411.0h1.0M350.1 417.1h1.0M349.9 430.1h1.0M375.4 410.3h1.0M360.6 413.0h1.0M378.1 418.2h1.0M361.9 407.3h1.0M375.6 403.2h1.0M358.6 412.8h1.0M353.9 412.5h1.0M363.4 411.9h1.0M376.6 407.3h1.0M370.7 404.3h1.0M366.8 402.6h1.0M366.6 414.8h1.0M379.3 417.3h1.0M371.5 412.7h1.0M373.7 414.0h1.0M361.5 414.8h1.0M360.7 407.0h1.0M363.9 424.3h1.0M379.5 410.9h1.0M368.0 413.4h1.0M367.0 423.0h1.0M362.6 408.3h1.0M361.2 420.1h1.0M366.1 414.6h1.0M355.9 420.7h1.0M367.5 434.1h1.0M351.8 424.2h1.0M367.1 421.3h1.0M359.1 403.4h1.0M361.9 414.8h1.0M365.2 408.6h1.0M376.8 406.8h1.0M358.5 421.5h1.0M354.8 428.6h1.0M369.0 424.6h1.0M350.8 420.7h1.0M360.6 425.7h1.0M359.5 414.2h1.0M370.3 418.2h1.0M353.6 415.2h1.0M366.0 422.2h1.0M367.6 422.5h1.0M376.6 410.2h1.0M351.5 429.4h1.0M378.0 418.3h1.0M359.9 437.7h1.0M364.2 422.9h1.0M357.8 418.6h1.0M378.5 411.7h1.0M355.9 412.3h1.0M367.0 379.3h1.0M358.3 378.0h1.0M359.1 375.7h1.0M353.2 384.5h1.0M359.9 381.2h1.0M361.6 380.9h1.0M352.4 376.7h1.0M363.2 382.5h1.0M354.3 377.8h1.0M354.7 381.5h1.0M361.7 379.6h1.0M356.8 380.5h1.0M360.2 377.3h1.0M361.7 377.5h1.0M364.8 381.4h1.0M356.6 381.3h1.0M360.3 377.4h1.0M355.4 374.5h1.0M354.3 380.5h1.0M366.0 377.6h1.0M360.8 380.5h1.0M363.9 380.8h1.0M366.1 381.8h1.0M356.2 380.7h1.0M348.3 379.0h1.0M360.1 381.2h1.0M358.5 382.0h1.0M366.6 377.0h1.0M357.3 380.3h1.0M362.5 379.9h1.0M364.2 376.0h1.0M363.9 383.0h1.0M365.6 380.8h1.0M358.8 380.7h1.0M359.6 374.7h1.0M357.0 379.4h1.0M357.4 376.7h1.0M358.8 378.4h1.0M360.3 379.4h1.0M360.9 382.5h1.0M360.7 380.7h1.0M353.9 370.7h1.0M358.0 381.5h1.0M358.3 377.6h1.0M353.8 382.2h1.0M357.4 380.2h1.0M365.7 381.1h1.0M371.2 379.1h1.0M364.8 381.6h1.0M356.7 379.6h1.0M357.2 376.4h1.0M361.5 377.2h1.0M368.4 377.3h1.0M357.3 379.8h1.0M357.4 379.7h1.0M357.0 375.2h1.0M347.9 375.6h1.0M367.6 380.8h1.0M360.8 378.1h1.0M359.3 380.4h1.0M353.1 377.1h1.0M355.5 383.3h1.0M354.7 383.0h1.0M357.7 387.7h1.0M359.6 379.6h1.0M366.8 382.1h1.0M364.7 376.3h1.0M365.7 384.5h1.0M359.5 378.0h1.0M354.5 382.6h1.0M361.5 379.5h1.0M353.8 384.4h1.0M364.4 379.4h1.0M367.4 376.6h1.0M364.4 376.5h1.0M367.1 378.7h1.0M366.1 378.3h1.0M362.0 382.9h1.0M355.5 379.8h1.0M355.8 382.1h1.0M357.0 378.4h1.0M359.0 383.0h1.0M354.8 379.4h1.0M358.4 377.9h1.0M356.1 379.0h1.0M361.0 374.9h1.0M361.2 375.9h1.0M360.1 386.3h1.0M355.2 379.3h1.0M358.7 382.4h1.0M357.6 374.1h1.0M351.9 380.0h1.0M361.3 382.7h1.0M357.3 381.5h1.0M354.7 383.4h1.0M359.6 377.5h1.0M360.9 384.7h1.0M355.8 375.8h1.0M354.9 376.0h1.0M359.7 380.6h1.0M359.2 380.1h1.0M365.9 378.6h1.0M353.7 372.6h1.0M361.2 377.5h1.0M358.8 380.7h1.0M362.3 374.8h1.0M355.2 379.7h1.0M359.3 382.9h1.0M357.5 373.3h1.0M365.9 374.6h1.0M355.1 380.7h1.0M354.7 387.0h1.0M361.2 381.1h1.0M357.8 386.2h1.0M362.7 377.3h1.0M366.3 374.4h1.0M357.1 380.4h1.0M360.7 376.6h1.0M367.9 383.9h1.0M355.3 380.6h1.0M356.8 378.2h1.0M364.9 379.9h1.0M359.5 379.8h1.0M354.1 383.2h1.0M356.2 383.4h1.0M357.7 378.1h1.0M367.4 380.1h1.0M356.8 377.9h1.0M363.0 385.1h1.0M363.1 378.3h1.0M354.4 377.5h1.0M359.4 380.2h1.0M356.7 383.3h1.0M355.2 377.4h1.0M362.5 380.9h1.0M358.0 382.4h1.0M353.0 384.4h1.0M370.9 385.4h1.0M360.6 385.4h1.0M360.3 383.5h1.0M359.0 380.1h1.0M362.6 374.3h1.0M359.0 384.7h1.0M345.4 380.7h1.0M364.6 380.5h1.0M361.0 383.7h1.0M361.7 373.8h1.0M355.3 378.6h1.0M360.7 378.2h1.0M359.5 384.5h1.0M345.3 383.0h1.0M364.7 381.3h1.0M360.1 379.7h1.0M361.8 380.2h1.0M356.4 381.8h1.0M355.9 379.4h1.0M358.2 376.0h1.0M363.0 379.3h1.0M354.2 379.3h1.0M353.1 383.8h1.0M362.6 385.5h1.0M357.2 381.6h1.0M355.2 376.9h1.0M359.6 380.7h1.0M364.6 378.7h1.0M365.5 382.4h1.0M355.6 379.0h1.0M355.4 384.6h1.0M357.3 382.1h1.0M364.6 378.7h1.0M357.6 380.5h1.0M356.1 375.7h1.0M355.2 380.5h1.0M361.0 384.8h1.0M350.9 381.0h1.0M354.3 383.0h1.0M363.5 379.9h1.0M367.3 378.4h1.0M357.4 376.4h1.0M356.7 379.8h1.0M363.3 383.3h1.0M358.7 377.3h1.0M358.3 378.2h1.0M357.7 378.3h1.0M355.7 379.3h1.0M357.5 379.0h1.0M353.1 379.9h1.0M362.8 381.4h1.0M357.3 376.1h1.0M353.5 376.0h1.0M356.8 378.6h1.0M351.2 381.5h1.0M352.4 377.5h1.0M356.4 382.0h1.0M369.1 378.4h1.0M358.6 378.3h1.0M359.0 379.0h1.0M372.2 376.3h1.0M359.5 377.2h1.0M361.8 378.0h1.0M362.9 376.3h1.0M370.5 380.1h1.0M351.2 381.6h1.0M357.7 376.1h1.0M362.2 378.0h1.0M363.7 377.9h1.0M364.5 379.9h1.0M361.8 380.0h1.0M358.2 378.4h1.0M362.2 381.6h1.0M358.0 386.1h1.0M368.4 376.1h1.0M365.4 379.3h1.0M361.2 377.2h1.0M368.2 377.1h1.0M359.6 377.4h1.0M369.6 383.2h1.0M353.5 378.2h1.0M361.8 378.2h1.0M358.3 376.3h1.0M386.2 375.7h1.0M391.4 387.8h1.0M381.1 385.2h1.0M387.3 377.2h1.0M380.9 376.2h1.0M385.0 381.9h1.0M392.3 378.5h1.0M373.4 379.2h1.0M398.9 380.5h1.0M383.4 372.4h1.0M380.2 381.4h1.0M375.6 384.1h1.0M379.0 376.5h1.0M378.9 379.2h1.0M392.9 377.6h1.0M368.2 379.2h1.0M388.6 384.8h1.0M374.0 384.6h1.0M390.0 381.1h1.0M377.2 376.5h1.0M375.5 382.7h1.0M385.9 383.2h1.0M400.1 379.6h1.0M383.6 386.1h1.0M372.4 378.0h1.0M380.7 378.2h1.0M385.3 376.6h1.0M394.3 374.8h1.0M376.8 373.7h1.0M371.6 381.5h1.0M389.6 378.8h1.0M391.5 381.6h1.0M378.9 379.4h1.0M387.3 386.4h1.0M380.1 380.8h1.0M388.8 383.7h1.0M387.8 383.2h1.0M374.6 378.6h1.0M366.9 379.3h1.0M404.6 380.3h1.0M384.8 380.4h1.0M385.3 375.0h1.0M377.9 378.9h1.0M385.5 376.6h1.0M383.1 377.0h1.0M372.3 377.3h1.0M376.9 382.4h1.0M395.9 381.5h1.0M382.1 377.6h1.0M370.1 377.7h1.0M397.8 383.5h1.0M386.0 378.7h1.0M384.0 381.0h1.0M383.9 381.0h1.0M377.2 379.7h1.0M380.9 383.2h1.0M373.0 384.0h1.0M383.2 377.8h1.0M384.2 379.9h1.0M381.9 381.0h1.0M378.9 373.7h1.0M390.2 379.4h1.0M398.7 380.8h1.0M366.3 383.8h1.0M377.9 381.4h1.0M403.6 383.3h1.0M374.3 379.2h1.0M369.8 381.8h1.0M389.0 376.0h1.0M388.0 382.7h1.0M391.1 377.2h1.0M377.9 375.7h1.0M372.6 380.6h1.0M384.4 384.0h1.0M386.4 378.4h1.0M371.4 384.8h1.0M385.5 379.4h1.0M375.1 376.0h1.0M389.6 376.2h1.0M389.2 381.7h1.0M380.6 374.0h1.0M387.6 384.3h1.0M376.7 375.2h1.0M393.6 380.0h1.0M378.5 383.7h1.0M381.6 381.1h1.0M380.4 377.0h1.0M385.9 376.6h1.0M368.3 377.7h1.0M394.9 383.3h1.0M403.2 382.9h1.0M398.3 380.4h1.0M380.2 381.1h1.0M375.6 382.0h1.0M380.0 380.4h1.0M376.5 379.1h1.0M392.7 378.8h1.0M378.1 380.5h1.0M391.8 378.9h1.0M373.7 374.2h1.0M372.2 383.2h1.0M383.2 381.2h1.0M393.5 380.5h1.0M388.3 377.8h1.0M369.8 381.7h1.0M383.2 381.5h1.0M374.6 379.1h1.0M401.8 376.7h1.0M384.9 384.0h1.0M382.0 380.0h1.0M365.2 382.2h1.0M380.1 383.9h1.0M383.2 378.3h1.0M387.8 378.7h1.0M379.5 384.8h1.0M392.7 379.9h1.0M391.1 382.3h1.0M389.1 379.7h1.0M384.6 380.9h1.0M389.0 380.7h1.0M379.1 379.3h1.0M388.0 376.2h1.0M383.9 382.1h1.0M385.5 378.6h1.0M383.8 377.9h1.0M392.7 378.3h1.0M369.3 375.5h1.0M386.6 380.3h1.0M379.8 375.1h1.0M382.7 376.7h1.0M378.2 379.5h1.0M377.2 380.6h1.0M377.5 378.0h1.0M382.0 384.5h1.0M397.9 382.7h1.0M377.5 379.6h1.0M392.1 382.3h1.0M369.7 379.4h1.0M377.5 382.1h1.0M389.6 377.8h1.0M402.9 378.6h1.0M405.5 379.0h1.0M383.3 385.9h1.0M379.4 378.0h1.0M397.0 379.4h1.0M388.2 375.3h1.0M399.8 382.8h1.0M387.1 381.9h1.0M379.6 378.0h1.0M370.2 380.8h1.0M394.9 382.4h1.0M392.1 381.9h1.0M375.9 375.2h1.0M389.6 380.1h1.0M392.7 378.6h1.0M376.2 381.0h1.0M379.1 374.1h1.0M378.6 376.6h1.0M374.2 377.7h1.0M392.4 387.4h1.0M399.2 378.2h1.0M394.1 379.3h1.0M387.5 377.3h1.0M383.3 374.0h1.0M399.8 377.0h1.0M389.2 377.6h1.0M386.4 375.6h1.0M380.7 382.6h1.0M389.2 373.1h1.0M391.5 375.2h1.0M386.5 381.3h1.0M378.3 378.5h1.0M381.8 380.9h1.0M392.1 384.1h1.0M386.9 386.2h1.0M375.7 385.5h1.0M381.7 382.1h1.0M382.9 379.8h1.0M375.9 380.8h1.0M401.8 380.1h1.0M383.8 379.6h1.0M390.3 378.9h1.0M384.0 380.3h1.0M395.5 382.7h1.0M374.7 377.5h1.0M384.2 382.4h1.0M392.5 378.9h1.0M402.7 379.0h1.0M396.4 384.3h1.0M398.1 380.2h1.0M389.1 374.5h1.0M368.3 377.5h1.0M390.3 383.1h1.0M383.1 383.0h1.0M389.1 384.6h1.0M370.0 376.8h1.0M375.6 376.1h1.0M398.5 376.5h1.0M376.7 378.2h1.0M391.8 378.0h1.0M390.5 381.4h1.0M378.4 371.7h1.0M375.9 375.4h1.0M398.4 377.2h1.0M374.6 380.8h1.0M384.5 376.4h1.0M393.7 382.6h1.0M386.5 377.0h1.0M376.3 372.7h1.0M387.4 380.9h1.0M375.9 379.6h1.0M412.9 375.8h1.0M368.9 381.6h1.0M380.2 377.9h1.0M389.5 379.1h1.0M392.8 381.3h1.0M394.2 379.9h1.0M365.0 384.1h1.0M369.0 383.0h1.0M386.2 374.9h1.0M384.6 382.5h1.0M375.0 379.7h1.0M377.5 376.2h1.0M378.6 383.8h1.0M390.1 379.4h1.0M383.3 380.0h1.0M386.5 380.2h1.0M368.8 382.6h1.0M376.4 370.9h1.0M390.2 375.5h1.0M382.7 379.2h1.0M378.8 381.3h1.0M381.6 378.6h1.0M375.6 378.6h1.0M374.8 379.7h1.0M395.7 382.9h1.0M387.8 375.0h1.0M393.1 382.6h1.0M402.2 372.1h1.0M384.1 378.4h1.0M393.6 375.9h1.0M380.6 387.3h1.0M392.8 372.9h1.0M384.2 384.1h1.0M378.5 381.5h1.0M384.9 374.7h1.0M378.5 383.3h1.0M394.5 377.5h1.0M394.0 377.2h1.0M386.2 379.5h1.0M372.9 380.6h1.0M380.6 370.4h1.0M376.7 376.7h1.0M376.6 376.3h1.0M377.9 371.4h1.0M391.9 379.8h1.0M386.3 378.6h1.0M384.6 378.7h1.0M374.4 374.5h1.0M384.7 382.9h1.0M386.1 384.9h1.0M371.9 378.6h1.0M378.5 383.6h1.0M399.0 377.8h1.0M390.5 378.7h1.0M375.2 379.2h1.0M374.8 384.7h1.0M389.2 383.5h1.0M387.2 371.4h1.0M391.1 379.8h1.0M362.9 379.9h1.0M393.0 385.2h1.0M374.9 382.2h1.0M386.9 378.9h1.0M381.5 381.3h1.0M389.1 381.7h1.0M380.4 375.1h1.0M395.7 383.9h1.0M379.0 379.4h1.0M391.1 373.6h1.0M388.4 387.6h1.0M386.4 377.2h1.0M402.1 379.5h1.0M385.9 378.1h1.0M385.6 373.5h1.0M372.6 374.6h1.0M392.0 379.2h1.0M394.2 372.7h1.0M378.7 384.4h1.0M377.0 373.3h1.0M377.4 378.4h1.0M383.9 383.9h1.0M395.8 384.7h1.0M389.1 377.8h1.0M379.6 374.6h1.0M395.3 383.7h1.0M384.8 376.5h1.0M390.0 381.1h1.0M385.4 375.6h1.0M386.1 377.6h1.0M390.5 381.5h1.0M387.9 378.1h1.0M397.5 382.1h1.0M395.2 382.3h1.0M389.9 380.8h1.0M374.5 373.4h1.0M375.7 381.6h1.0M392.1 380.1h1.0M384.8 385.7h1.0M380.5 373.5h1.0M370.3 378.4h1.0M390.2 382.0h1.0M382.0 382.2h1.0M383.6 377.1h1.0M380.7 382.0h1.0M392.4 375.7h1.0M375.3 379.9h1.0M402.8 375.6h1.0M372.9 380.9h1.0M388.5 377.5h1.0M379.8 398.0h1.0M364.6 394.9h1.0M385.3 400.8h1.0M390.3 394.6h1.0M367.3 403.4h1.0M386.8 391.0h1.0M389.1 401.5h1.0M378.8 380.3h1.0M375.9 390.3h1.0M372.6 394.5h1.0M370.5 397.4h1.0M396.7 387.6h1.0M389.2 391.7h1.0M384.8 394.2h1.0M391.3 390.6h1.0M386.5 390.2h1.0M382.0 394.9h1.0M389.6 385.2h1.0M368.1 403.7h1.0M383.4 405.6h1.0M370.9 396.3h1.0M385.3 406.0h1.0M379.5 392.2h1.0M386.3 394.4h1.0M373.4 399.8h1.0M363.2 388.7h1.0M392.0 391.9h1.0M377.2 397.3h1.0M389.9 398.3h1.0M371.5 391.5h1.0M389.2 394.3h1.0M374.4 400.4h1.0M390.1 408.6h1.0M370.5 390.6h1.0M373.9 397.2h1.0M375.8 402.0h1.0M356.4 401.0h1.0M374.3 393.3h1.0M385.0 396.3h1.0M371.1 404.4h1.0M385.1 391.9h1.0M381.8 388.1h1.0M369.2 393.1h1.0M383.2 395.6h1.0M373.2 386.4h1.0M365.3 405.0h1.0M383.2 390.0h1.0M390.4 398.4h1.0M376.4 391.2h1.0M390.0 397.0h1.0M394.4 397.3h1.0M374.9 391.3h1.0M373.8 396.6h1.0M382.2 398.8h1.0M384.0 388.5h1.0M378.2 389.1h1.0M384.2 386.8h1.0M374.9 389.7h1.0M374.6 393.4h1.0M393.3 393.4h1.0M367.4 393.1h1.0M386.6 398.5h1.0M382.1 407.4h1.0M389.7 395.6h1.0M390.7 386.7h1.0M378.5 389.6h1.0M381.6 405.1h1.0M375.7 404.9h1.0M371.1 403.9h1.0M365.2 389.7h1.0M388.7 394.4h1.0M381.3 394.9h1.0M381.6 393.9h1.0M371.4 393.2h1.0M381.0 389.4h1.0M384.1 406.0h1.0M365.6 391.6h1.0M377.5 395.1h1.0M380.8 390.5h1.0M379.7 395.0h1.0M379.2 404.6h1.0M381.1 385.8h1.0M366.3 398.7h1.0M377.0 391.1h1.0M368.1 393.1h1.0M379.2 390.7h1.0M376.9 400.5h1.0M386.9 398.4h1.0M378.5 386.5h1.0M386.8 404.3h1.0M391.2 402.3h1.0M382.4 397.3h1.0M379.9 402.8h1.0M377.7 408.4h1.0M386.8 393.0h1.0M380.0 385.0h1.0M373.6 393.1h1.0M401.4 389.9h1.0M388.0 395.5h1.0M377.4 398.9h1.0M362.6 400.9h1.0M396.9 396.8h1.0M379.5 396.0h1.0M385.8 391.9h1.0M381.1 398.1h1.0M376.9 397.4h1.0M382.9 399.5h1.0M371.4 391.7h1.0M376.3 402.5h1.0M382.2 384.7h1.0M368.8 407.1h1.0M383.0 386.9h1.0M372.0 395.9h1.0M392.5 405.1h1.0M376.8 393.1h1.0M396.8 388.9h1.0M393.7 397.1h1.0M380.8 403.0h1.0M384.2 389.8h1.0M366.7 395.1h1.0M384.5 403.5h1.0M357.2 403.4h1.0M385.4 404.5h1.0M387.0 396.3h1.0M383.8 397.5h1.0M374.5 394.3h1.0M381.1 392.2h1.0M367.2 386.0h1.0M384.4 398.3h1.0M380.9 387.7h1.0M387.4 392.6h1.0M361.9 404.8h1.0M367.0 409.1h1.0M384.7 392.3h1.0M359.5 390.6h1.0M392.9 403.5h1.0M382.3 384.3h1.0M376.7 393.2h1.0M384.0 394.2h1.0M383.0 384.8h1.0M374.4 404.0h1.0M367.3 400.8h1.0M400.2 399.1h1.0M367.9 402.8h1.0M363.8 397.1h1.0M376.4 402.7h1.0M390.3 396.2h1.0M395.7 401.1h1.0M375.8 388.9h1.0M401.5 392.5h1.0M383.6 394.3h1.0M375.9 385.0h1.0M378.7 394.3h1.0M388.6 391.8h1.0M366.3 388.3h1.0M379.7 396.6h1.0M386.3 392.6h1.0M384.7 395.9h1.0M394.8 394.7h1.0M381.3 398.5h1.0M390.7 389.2h1.0M375.9 393.3h1.0M361.4 403.2h1.0M389.4 395.1h1.0M409.4 403.0h1.0M397.7 404.8h1.0M387.9 386.1h1.0M393.4 397.6h1.0M369.5 395.3h1.0M386.6 401.2h1.0M381.5 391.7h1.0M386.7 390.2h1.0M379.3 399.8h1.0M367.4 397.3h1.0M362.9 389.2h1.0M369.2 394.4h1.0M386.3 394.7h1.0M388.0 395.6h1.0M378.2 398.1h1.0M377.9 395.8h1.0M389.1 391.4h1.0M390.1 388.1h1.0M378.1 384.1h1.0M375.4 405.0h1.0M383.1 403.0h1.0M367.2 388.7h1.0M384.1 400.2h1.0M387.3 384.5h1.0M384.5 394.5h1.0M381.1 398.0h1.0M377.6 384.4h1.0M370.7 385.9h1.0M368.5 394.2h1.0M391.4 390.5h1.0M373.3 387.8h1.0M364.9 395.4h1.0M375.8 393.5h1.0M371.6 398.1h1.0M369.5 398.4h1.0M374.2 399.9h1.0M372.2 397.8h1.0M383.9 394.5h1.0M394.3 396.1h1.0M372.2 399.3h1.0M372.8 391.6h1.0M380.1 396.1h1.0M394.9 384.0h1.0M377.7 402.1h1.0M378.6 397.0h1.0M393.4 387.3h1.0M380.4 400.0h1.0M374.9 384.0h1.0M371.3 396.2h1.0M381.7 406.6h1.0M391.6 385.3h1.0M389.1 400.7h1.0M394.2 394.0h1.0M375.1 395.9h1.0M393.6 398.9h1.0M394.9 399.9h1.0M374.8 388.6h1.0M396.2 385.5h1.0M376.9 393.0h1.0M372.0 391.4h1.0M380.1 409.9h1.0M379.4 391.7h1.0M381.1 400.9h1.0M372.8 392.5h1.0M364.7 399.4h1.0M386.0 404.4h1.0M369.5 408.7h1.0M387.7 393.3h1.0M376.6 393.1h1.0M369.4 399.8h1.0M374.7 390.5h1.0M384.5 395.7h1.0M374.9 393.5h1.0M375.7 403.5h1.0M388.8 390.4h1.0M379.6 403.6h1.0M356.6 400.6h1.0M360.2 395.2h1.0M347.9 396.1h1.0M359.7 394.8h1.0M360.3 394.6h1.0M355.5 396.4h1.0M358.3 386.9h1.0M353.0 392.8h1.0M359.6 381.3h1.0M347.9 397.1h1.0M357.9 405.8h1.0M350.5 390.8h1.0M355.1 394.7h1.0M364.9 399.8h1.0M353.1 398.0h1.0M352.1 393.5h1.0M358.8 395.0h1.0M354.1 398.5h1.0M357.7 391.9h1.0M356.7 386.8h1.0M361.5 393.6h1.0M360.2 401.0h1.0M353.8 390.6h1.0M358.0 396.1h1.0M357.1 396.5h1.0M360.2 383.5h1.0M354.7 382.2h1.0M356.6 390.0h1.0M360.9 392.8h1.0M357.7 398.1h1.0M360.9 386.0h1.0M354.6 393.6h1.0M366.3 391.0h1.0M357.2 393.3h1.0M361.8 391.6h1.0M359.4 390.0h1.0M355.3 388.1h1.0M361.2 389.3h1.0M360.7 394.0h1.0M362.8 379.0h1.0M353.3 386.1h1.0M357.2 395.9h1.0M370.4 399.5h1.0M364.6 393.9h1.0M356.1 394.6h1.0M347.4 396.5h1.0M358.0 395.0h1.0M353.0 386.7h1.0M354.9 391.8h1.0M359.7 390.3h1.0M359.7 395.3h1.0M352.3 391.5h1.0M350.4 389.3h1.0M362.4 388.5h1.0M367.1 394.5h1.0M362.3 392.5h1.0M362.2 397.3h1.0M358.5 389.4h1.0M355.3 401.4h1.0M357.1 389.8h1.0M375.5 406.3h1.0M377.1 423.8h1.0M377.2 414.4h1.0M384.2 425.0h1.0M377.6 423.7h1.0M373.4 428.5h1.0M373.3 418.1h1.0M382.1 417.3h1.0M372.1 439.4h1.0M392.9 405.7h1.0M381.9 409.9h1.0M383.4 409.6h1.0M385.5 425.7h1.0M394.4 431.5h1.0M377.4 429.3h1.0M377.4 420.0h1.0M377.1 405.6h1.0M385.7 403.2h1.0M379.2 425.6h1.0M381.9 407.2h1.0M375.9 427.0h1.0M389.6 435.0h1.0M366.8 425.0h1.0M377.2 427.7h1.0M367.8 419.8h1.0M386.5 415.4h1.0M378.2 412.4h1.0M389.7 409.4h1.0M373.9 418.1h1.0M378.5 439.5h1.0M383.1 413.7h1.0M385.5 424.0h1.0M383.2 420.4h1.0M384.6 410.7h1.0M371.6 417.3h1.0M372.4 427.1h1.0M396.2 431.8h1.0M384.5 424.0h1.0M375.6 409.6h1.0M385.3 408.0h1.0M383.4 419.8h1.0M386.9 421.4h1.0M381.8 415.9h1.0M367.5 418.0h1.0M386.4 430.2h1.0M391.8 412.3h1.0M373.7 427.1h1.0M377.5 443.5h1.0M383.5 407.7h1.0M376.7 434.8h1.0M366.7 422.3h1.0M370.2 435.0h1.0M377.5 412.0h1.0M367.6 414.8h1.0M361.0 416.8h1.0M398.0 421.9h1.0M378.9 410.8h1.0M383.7 416.9h1.0M374.4 433.1h1.0M384.4 413.2h1.0M392.6 420.5h1.0M384.9 422.3h1.0M390.2 426.4h1.0M378.3 427.3h1.0M377.9 422.2h1.0M393.8 411.7h1.0M372.9 417.5h1.0M377.1 432.4h1.0M368.6 441.1h1.0M393.4 417.1h1.0M382.5 417.8h1.0M386.3 426.8h1.0M386.9 427.7h1.0M396.1 419.5h1.0M386.5 419.4h1.0M381.3 422.9h1.0M380.6 424.0h1.0M374.3 419.7h1.0M376.3 410.8h1.0M375.5 416.6h1.0M379.8 407.3h1.0M379.0 411.1h1.0M374.6 422.7h1.0M389.7 423.5h1.0M377.2 417.1h1.0M391.5 406.7h1.0M389.9 407.8h1.0M376.0 421.4h1.0M379.3 435.6h1.0M384.9 420.6h1.0M388.5 421.3h1.0M374.7 430.9h1.0M392.7 432.2h1.0M371.8 437.7h1.0M377.7 427.7h1.0M390.3 441.9h1.0M368.3 412.0h1.0M390.2 425.3h1.0M378.6 395.3h1.0M384.5 419.4h1.0M360.5 444.5h1.0M361.4 416.1h1.0M381.0 423.0h1.0M386.9 418.7h1.0M374.0 417.8h1.0M364.5 411.2h1.0M396.5 415.0h1.0M380.4 437.7h1.0M389.2 422.1h1.0M386.8 418.6h1.0M373.9 429.8h1.0M382.1 435.1h1.0M378.9 417.7h1.0M383.7 419.3h1.0M378.6 413.1h1.0M383.0 423.8h1.0M395.3 420.8h1.0M367.2 425.1h1.0M398.9 417.1h1.0M374.7 419.5h1.0M358.6 418.1h1.0M379.5 407.7h1.0M385.5 413.3h1.0M366.5 414.7h1.0M386.0 437.9h1.0M390.8 422.7h1.0M377.0 418.7h1.0M388.6 416.4h1.0M384.3 429.5h1.0M373.9 415.8h1.0M384.5 421.1h1.0M380.0 416.3h1.0M380.5 437.3h1.0M391.7 406.8h1.0M381.4 421.8h1.0M381.3 408.8h1.0M380.0 422.3h1.0M375.7 423.8h1.0M361.9 407.7h1.0M381.8 424.4h1.0M379.7 417.0h1.0M382.5 430.5h1.0M388.1 420.3h1.0M377.3 430.4h1.0M385.2 428.8h1.0M378.8 413.4h1.0M382.5 415.5h1.0M390.0 428.5h1.0M363.9 426.9h1.0M391.5 430.1h1.0M377.3 413.4h1.0M388.6 429.9h1.0M381.5 410.8h1.0M369.0 423.4h1.0M374.5 415.0h1.0M384.5 430.2h1.0M364.8 415.1h1.0M391.2 420.6h1.0M378.3 426.6h1.0M372.1 410.2h1.0M381.2 434.8h1.0M389.0 421.0h1.0M388.9 417.4h1.0M371.7 406.2h1.0M383.1 428.9h1.0M383.9 420.7h1.0M377.9 430.6h1.0M380.6 408.3h1.0M391.8 415.3h1.0M384.1 421.0h1.0M392.5 408.4h1.0M394.9 407.9h1.0M371.7 398.0h1.0M386.9 393.6h1.0M390.8 401.7h1.0M365.2 393.0h1.0M376.0 429.3h1.0M388.6 405.3h1.0M365.6 431.1h1.0M374.2 405.0h1.0M372.2 423.3h1.0M380.4 398.7h1.0M380.5 391.3h1.0M363.5 402.8h1.0M338.4 421.1h1.0M405.3 389.8h1.0M376.1 383.4h1.0M380.4 407.9h1.0M388.2 386.7h1.0M369.7 396.1h1.0M374.6 436.4h1.0M375.3 404.4h1.0M371.0 415.9h1.0M413.3 420.9h1.0M399.1 390.3h1.0M392.5 405.4h1.0M395.2 419.5h1.0M387.0 382.0h1.0M379.8 398.1h1.0M384.2 405.5h1.0M392.4 383.0h1.0M367.8 404.0h1.0M382.4 399.5h1.0M377.6 405.8h1.0M392.4 403.4h1.0M381.3 380.0h1.0M342.0 384.9h1.0M382.9 373.3h1.0M383.6 403.7h1.0M378.0 395.0h1.0M372.2 416.4h1.0M382.9 404.6h1.0M371.3 407.9h1.0M394.4 404.7h1.0M372.9 388.8h1.0M379.4 392.4h1.0M358.2 417.0h1.0M369.4 377.0h1.0M368.1 430.3h1.0M376.5 386.8h1.0M362.8 414.9h1.0M383.6 407.9h1.0M375.3 411.7h1.0M399.2 411.7h1.0M375.7 385.8h1.0M384.1 426.5h1.0M386.9 387.7h1.0M380.6 422.9h1.0M369.3 411.8h1.0M394.7 427.5h1.0M356.1 381.0h1.0M383.2 414.7h1.0M373.1 404.7h1.0M372.4 421.5h1.0M347.5 408.5h1.0M360.4 395.7h1.0M356.9 392.5h1.0M377.7 405.4h1.0M402.6 402.0h1.0M382.8 409.9h1.0M381.6 425.2h1.0M379.9 407.1h1.0M376.5 405.1h1.0M377.2 418.7h1.0M378.3 405.9h1.0M377.3 415.4h1.0M371.5 417.9h1.0M370.1 414.6h1.0M404.5 408.2h1.0M376.8 388.7h1.0M388.2 405.2h1.0M390.6 395.9h1.0M385.2 429.9h1.0M383.5 400.5h1.0M360.0 404.9h1.0M387.1 413.3h1.0M362.6 390.8h1.0M364.5 390.9h1.0M374.2 408.7h1.0M404.6 407.7h1.0M398.1 382.2h1.0M399.3 416.0h1.0M384.1 416.4h1.0M386.5 431.4h1.0M389.1 381.0h1.0M353.9 427.3h1.0M376.8 423.3h1.0M373.3 395.9h1.0M373.3 409.4h1.0M380.6 396.4h1.0M385.4 413.5h1.0M365.3 389.6h1.0M350.9 400.8h1.0M378.1 395.4h1.0M369.7 403.2h1.0M378.4 412.9h1.0M389.5 411.0h1.0M393.5 391.6h1.0M386.4 410.2h1.0M363.6 395.6h1.0M384.1 406.0h1.0M360.6 397.4h1.0M399.1 416.7h1.0M379.1 423.6h1.0M365.5 402.6h1.0M391.3 400.4h1.0M362.5 413.1h1.0M400.2 369.9h1.0M380.1 387.7h1.0M373.9 385.5h1.0M421.5 442.5h1.0M404.6 378.4h1.0M388.3 397.4h1.0M359.7 426.4h1.0M358.8 420.3h1.0M381.6 396.3h1.0M400.1 421.6h1.0M424.1 444.9h1.0M408.0 382.4h1.0M396.9 402.1h1.0M419.9 398.0h1.0M370.4 362.2h1.0M380.0 405.3h1.0M366.2 368.9h1.0M381.1 366.0h1.0M354.6 397.7h1.0M369.6 402.5h1.0M385.1 393.0h1.0M351.4 361.6h1.0M387.5 442.5h1.0M363.9 389.9h1.0M367.2 423.1h1.0M381.9 427.7h1.0M340.4 371.3h1.0M357.5 391.4h1.0M374.0 392.8h1.0M422.1 397.3h1.0M388.9 441.9h1.0M394.6 410.5h1.0M410.4 388.4h1.0" stroke="#b8442a" stroke-width="1.0" stroke-opacity="0.75" fill="none"/>
<rect x="327.5" y="344.4" width="108.30000000000001" height="110.40000000000003" fill="none" stroke="#2a2a2a" stroke-width="1.3"/>
<line x1="368.1" y1="344.4" x2="368.1" y2="454.8" stroke="#3a3a3a" stroke-width="1.1"/>
<line x1="327.5" y1="406.1" x2="435.8" y2="406.1" stroke="#3a3a3a" stroke-width="1.1"/>
<text x="188.1" y="618.1" font-size="6.2" text-anchor="middle" fill="#333">10<tspan font-size="5" dy="-2.8">0</tspan></text>
<text transform="translate(183.6,604.6) rotate(-90)" font-size="6.2" text-anchor="middle" fill="#333">10<tspan font-size="5" dy="-2.8">0</tspan></text>
<text x="215.3" y="618.1" font-size="6.2" text-anchor="middle" fill="#333">10<tspan font-size="5" dy="-2.8">1</tspan></text>
<text transform="translate(183.6,580.1) rotate(-90)" font-size="6.2" text-anchor="middle" fill="#333">10<tspan font-size="5" dy="-2.8">1</tspan></text>
<text x="242.4" y="618.1" font-size="6.2" text-anchor="middle" fill="#333">10<tspan font-size="5" dy="-2.8">2</tspan></text>
<text transform="translate(183.6,552.6) rotate(-90)" font-size="6.2" text-anchor="middle" fill="#333">10<tspan font-size="5" dy="-2.8">2</tspan></text>
<text x="269.6" y="618.1" font-size="6.2" text-anchor="middle" fill="#333">10<tspan font-size="5" dy="-2.8">3</tspan></text>
<text transform="translate(183.6,525.2) rotate(-90)" font-size="6.2" text-anchor="middle" fill="#333">10<tspan font-size="5" dy="-2.8">3</tspan></text>
<text x="296.8" y="618.1" font-size="6.2" text-anchor="middle" fill="#333">10<tspan font-size="5" dy="-2.8">4</tspan></text>
<text transform="translate(183.6,500.7) rotate(-90)" font-size="6.2" text-anchor="middle" fill="#333">10<tspan font-size="5" dy="-2.8">4</tspan></text>
<text x="240.2" y="623.6" font-size="5.5" text-anchor="middle" fill="#444">FITC</text>
<text transform="translate(175.6,556.6) rotate(-90)" font-size="6" text-anchor="middle" fill="#444">PI</text>
<path d="M195.3 607.6v1.6M187.1 599.3h-1.6M200.1 607.6v1.6M187.1 594.5h-1.6M203.5 607.6v1.6M187.1 591.1h-1.6M206.1 607.6v1.6M187.1 588.4h-1.6M208.2 607.6v1.6M187.1 586.2h-1.6M210.1 607.6v1.6M187.1 584.4h-1.6M211.6 607.6v1.6M187.1 582.8h-1.6M213.0 607.6v1.6M187.1 581.4h-1.6M187.1 607.6v2.5M187.1 607.6h-2.5M222.5 607.6v1.6M187.1 571.9h-1.6M227.2 607.6v1.6M187.1 567.0h-1.6M230.6 607.6v1.6M187.1 563.6h-1.6M233.3 607.6v1.6M187.1 560.9h-1.6M235.4 607.6v1.6M187.1 558.7h-1.6M237.2 607.6v1.6M187.1 556.9h-1.6M238.8 607.6v1.6M187.1 555.3h-1.6M240.2 607.6v1.6M187.1 553.9h-1.6M214.3 607.6v2.5M187.1 580.1h-2.5M249.6 607.6v1.6M187.1 544.4h-1.6M254.4 607.6v1.6M187.1 539.5h-1.6M257.8 607.6v1.6M187.1 536.1h-1.6M260.4 607.6v1.6M187.1 533.4h-1.6M262.6 607.6v1.6M187.1 531.3h-1.6M264.4 607.6v1.6M187.1 529.4h-1.6M266.0 607.6v1.6M187.1 527.8h-1.6M267.4 607.6v1.6M187.1 526.4h-1.6M241.4 607.6v2.5M187.1 552.6h-2.5M276.8 607.6v1.6M187.1 516.9h-1.6M281.6 607.6v1.6M187.1 512.1h-1.6M285.0 607.6v1.6M187.1 508.6h-1.6M287.6 607.6v1.6M187.1 506.0h-1.6M289.8 607.6v1.6M187.1 503.8h-1.6M291.6 607.6v1.6M187.1 502.0h-1.6M293.2 607.6v1.6M187.1 500.4h-1.6M294.6 607.6v1.6M187.1 499.0h-1.6M268.6 607.6v2.5M187.1 525.2h-2.5M295.8 607.6v2.5M187.1 497.7h-2.5" stroke="#333" stroke-width="0.7" fill="none"/>
<text x="246.5" y="488.9" font-size="14" text-anchor="middle" font-weight="bold" fill="#111" stroke="#111">3-MA + PB2</text>
<text x="288.5" y="516.6" font-size="13.5" text-anchor="end" fill="#111" stroke="#111">7.1%</text>
<text x="288.5" y="584.3" font-size="13.5" text-anchor="end" fill="#111" stroke="#111">9.1%</text>
<ellipse cx="214" cy="584.5" rx="14" ry="8" transform="rotate(-42 214 584.5)" fill="#e2330f" filter="url(#bl6)"/>
<path d="M234.1 559.6L234.4 559.4L234.7 559.2L235.0 559.1L235.4 559.0L235.8 559.0L236.1 559.1L236.5 559.3L236.8 559.5L237.1 559.7L237.3 560.0L237.4 560.4L237.5 560.8L237.5 561.1L237.4 561.5L237.3 561.8L237.1 562.2L224.9 579.1L224.4 579.7L223.8 580.1L223.2 580.4L222.4 580.6L221.7 580.6L221.0 580.5L220.3 580.2L219.7 579.8L219.2 579.2L218.8 578.6L218.5 577.9L218.4 577.2L218.4 576.4L218.6 575.7L219.0 575.1L219.4 574.5Z" fill="#e2330f" filter="url(#bl6)"/>
<ellipse cx="229.5" cy="581" rx="2.5" ry="2.5" transform="rotate(0 229.5 581)" fill="#e2330f" filter="url(#bl6)"/>
<ellipse cx="241.5" cy="530.5" rx="9" ry="3" transform="rotate(0 241.5 530.5)" fill="#e2330f" filter="url(#bl6)"/>
<path d="M236.1 570.0h1.0M201.6 592.9h1.0M228.6 577.2h1.0M208.6 596.4h1.0M217.3 597.5h1.0M211.0 591.3h1.0M216.6 579.2h1.0M216.3 590.9h1.0M217.4 581.3h1.0M223.3 589.2h1.0M222.9 580.5h1.0M210.8 576.2h1.0M212.9 582.0h1.0M217.5 577.4h1.0M213.6 577.5h1.0M218.4 575.7h1.0M215.3 587.6h1.0M210.8 587.3h1.0M228.5 585.0h1.0M195.3 593.9h1.0M222.4 584.2h1.0M209.9 588.7h1.0M219.8 595.8h1.0M207.7 581.4h1.0M196.1 590.5h1.0M223.0 574.3h1.0M232.0 574.0h1.0M218.9 585.0h1.0M223.3 583.3h1.0M203.4 589.5h1.0M209.3 589.3h1.0M207.1 581.6h1.0M214.0 597.3h1.0M228.2 566.6h1.0M216.5 582.2h1.0M208.9 593.9h1.0M218.8 592.4h1.0M216.2 580.5h1.0M191.1 603.1h1.0M218.1 576.1h1.0M223.2 581.7h1.0M198.1 596.5h1.0M218.8 585.9h1.0M214.7 583.9h1.0M209.6 586.2h1.0M209.8 580.6h1.0M217.7 579.2h1.0M216.1 579.2h1.0M217.4 582.7h1.0M222.5 580.7h1.0M220.7 577.8h1.0M212.1 584.3h1.0M202.6 593.2h1.0M225.2 580.6h1.0M207.5 592.2h1.0M215.0 574.1h1.0M217.6 583.9h1.0M220.6 580.8h1.0M192.0 588.8h1.0M228.6 569.5h1.0M228.5 581.4h1.0M210.2 579.6h1.0M224.8 575.3h1.0M219.5 583.4h1.0M225.0 582.5h1.0M196.8 589.1h1.0M214.7 584.0h1.0M219.5 579.0h1.0M219.1 594.7h1.0M229.0 580.2h1.0M219.4 574.5h1.0M212.5 585.3h1.0M201.4 589.0h1.0M210.6 578.8h1.0M219.7 583.2h1.0M210.4 585.2h1.0M220.2 582.8h1.0M212.3 577.4h1.0M207.1 604.8h1.0M206.8 588.0h1.0M195.5 594.4h1.0M210.2 593.4h1.0M208.4 585.8h1.0M205.5 588.6h1.0M201.3 597.1h1.0M224.0 577.3h1.0M213.4 594.0h1.0M214.0 577.3h1.0M206.6 586.5h1.0M217.3 590.3h1.0M207.1 589.3h1.0M210.3 579.3h1.0M211.7 590.9h1.0M216.4 569.3h1.0M218.4 578.9h1.0M226.4 578.6h1.0M231.0 572.5h1.0M207.3 584.3h1.0M203.5 597.3h1.0M220.6 584.8h1.0M211.2 576.4h1.0M209.3 586.8h1.0M217.5 587.1h1.0M226.3 576.3h1.0M192.8 595.2h1.0M193.1 596.8h1.0M204.3 594.4h1.0M215.5 591.2h1.0M220.9 575.6h1.0M221.4 578.4h1.0M222.0 587.4h1.0M203.7 592.7h1.0M223.7 571.1h1.0M215.8 584.0h1.0M205.5 582.5h1.0M204.4 585.7h1.0M223.4 578.5h1.0M215.2 575.2h1.0M218.2 582.1h1.0M219.7 574.7h1.0M225.0 585.0h1.0M225.3 568.6h1.0M199.1 586.8h1.0M223.6 580.7h1.0M213.3 579.0h1.0M229.5 582.9h1.0M212.8 584.7h1.0M225.2 578.8h1.0M223.3 573.9h1.0M215.2 581.2h1.0M207.7 587.8h1.0M212.9 589.1h1.0M211.2 587.4h1.0M202.5 585.6h1.0M222.0 571.0h1.0M231.9 576.2h1.0M192.2 598.4h1.0M210.1 588.0h1.0M209.9 583.7h1.0M223.5 575.7h1.0M219.1 575.4h1.0M212.4 595.3h1.0M207.4 582.4h1.0M215.7 590.5h1.0M209.7 583.2h1.0M222.2 584.6h1.0M210.7 585.1h1.0M219.8 598.7h1.0M218.0 593.5h1.0M213.7 587.7h1.0M197.2 600.0h1.0M212.9 583.3h1.0M205.4 582.2h1.0M201.7 596.1h1.0M207.9 589.1h1.0M210.3 584.2h1.0M213.9 597.7h1.0M202.6 590.6h1.0M207.1 582.3h1.0M208.5 595.2h1.0M221.7 579.0h1.0M243.4 565.8h1.0M221.0 573.0h1.0M228.4 584.4h1.0M216.6 595.1h1.0M202.9 585.9h1.0M210.4 582.0h1.0M215.0 576.0h1.0M207.5 576.3h1.0M216.9 589.5h1.0M212.4 588.1h1.0M218.8 572.9h1.0M203.2 594.2h1.0M214.9 581.9h1.0M209.6 596.7h1.0M203.0 592.0h1.0M215.7 588.3h1.0M207.0 584.7h1.0M227.4 567.4h1.0M219.6 578.8h1.0M209.4 588.1h1.0M212.5 588.0h1.0M192.3 602.6h1.0M210.8 580.5h1.0M218.4 597.3h1.0M231.1 574.7h1.0M214.4 582.1h1.0M223.5 573.4h1.0M209.1 593.6h1.0M202.8 588.5h1.0M220.0 568.3h1.0M213.4 585.9h1.0M210.7 577.2h1.0M210.5 585.2h1.0M233.0 575.7h1.0M210.3 593.8h1.0M218.6 579.9h1.0M210.6 585.5h1.0M198.5 593.2h1.0M226.3 584.4h1.0M227.7 570.5h1.0M210.4 570.8h1.0M206.9 581.7h1.0M214.7 572.4h1.0M201.1 587.7h1.0M219.7 585.7h1.0M212.1 598.8h1.0M212.0 580.4h1.0M216.4 582.5h1.0M221.6 580.6h1.0M235.8 574.5h1.0M210.9 592.7h1.0M216.4 575.5h1.0M204.5 586.9h1.0M195.2 604.8h1.0M216.0 591.5h1.0M209.2 589.2h1.0M222.9 583.9h1.0M212.6 578.5h1.0M234.9 573.2h1.0M230.4 582.1h1.0M226.7 576.9h1.0M219.7 584.3h1.0M203.9 598.8h1.0M206.9 593.5h1.0M207.6 595.0h1.0M218.1 598.6h1.0M216.9 585.7h1.0M205.0 590.1h1.0M212.1 584.2h1.0M206.9 584.4h1.0M218.6 578.1h1.0M208.0 592.1h1.0M206.2 589.9h1.0M206.1 584.7h1.0M208.8 583.1h1.0M204.4 595.1h1.0M206.1 581.0h1.0M210.9 588.5h1.0M218.4 583.5h1.0M217.7 585.6h1.0M206.7 585.1h1.0M217.2 579.0h1.0M215.9 587.6h1.0M225.6 583.4h1.0M206.6 588.2h1.0M213.3 575.2h1.0M205.2 596.2h1.0M205.3 585.4h1.0M222.1 581.5h1.0M220.0 577.2h1.0M210.0 585.6h1.0M209.0 574.6h1.0M210.3 592.7h1.0M206.9 590.1h1.0M216.4 586.2h1.0M205.7 583.6h1.0M231.8 564.6h1.0M221.7 565.8h1.0M213.8 583.4h1.0M236.3 580.1h1.0M218.2 574.0h1.0M204.3 587.5h1.0M210.2 589.6h1.0M206.2 589.4h1.0M230.7 580.6h1.0M194.9 594.0h1.0M214.9 592.8h1.0M217.4 595.1h1.0M221.5 588.3h1.0M205.4 589.6h1.0M224.0 580.2h1.0M197.2 596.8h1.0M217.2 586.3h1.0M214.3 596.5h1.0M219.8 589.8h1.0M217.2 582.5h1.0M206.9 582.4h1.0M223.3 582.0h1.0M220.0 576.9h1.0M204.0 590.4h1.0M211.0 587.1h1.0M218.6 574.4h1.0M211.9 591.1h1.0M228.7 587.7h1.0M215.0 577.8h1.0M202.3 588.9h1.0M215.0 585.5h1.0M210.9 582.9h1.0M211.8 585.9h1.0M218.8 581.2h1.0M202.9 585.8h1.0M225.6 574.3h1.0M212.1 586.0h1.0M221.9 575.8h1.0M214.2 582.7h1.0M214.9 576.8h1.0M218.8 587.7h1.0M225.5 579.2h1.0M221.4 589.3h1.0M224.2 585.7h1.0M199.9 588.8h1.0M219.3 578.3h1.0M206.8 584.0h1.0M221.8 569.8h1.0M209.7 578.5h1.0M219.9 595.3h1.0M232.0 566.0h1.0M210.8 598.6h1.0M200.4 583.6h1.0M212.8 578.1h1.0M205.5 599.6h1.0M203.9 585.6h1.0M214.4 583.0h1.0M223.2 577.5h1.0M230.7 578.5h1.0M232.2 577.1h1.0M216.1 586.6h1.0M208.5 578.4h1.0M206.4 596.1h1.0M191.3 597.9h1.0M202.8 593.5h1.0M205.9 593.1h1.0M210.4 584.4h1.0M199.0 581.7h1.0M209.8 579.1h1.0M212.5 588.5h1.0M224.7 580.5h1.0M221.0 568.9h1.0M224.6 586.6h1.0M213.1 577.6h1.0M215.1 580.0h1.0M212.0 593.7h1.0M208.3 581.6h1.0M214.8 597.6h1.0M209.0 593.5h1.0M219.1 588.4h1.0M208.1 583.0h1.0M204.8 585.1h1.0M235.7 567.7h1.0M215.3 592.2h1.0M218.4 579.6h1.0M219.7 581.7h1.0M228.6 583.8h1.0M210.9 586.9h1.0M216.3 591.1h1.0M219.5 585.4h1.0M218.9 576.1h1.0M219.4 589.6h1.0M224.0 581.8h1.0M210.1 585.4h1.0M205.7 589.7h1.0M208.2 579.5h1.0M220.6 573.8h1.0M217.8 585.6h1.0M202.9 581.3h1.0M223.0 579.9h1.0M215.4 591.3h1.0M217.8 574.8h1.0M207.0 578.3h1.0M216.3 592.5h1.0M209.6 594.0h1.0M200.2 594.1h1.0M227.3 585.4h1.0M220.0 584.8h1.0M219.5 563.1h1.0M206.1 604.4h1.0M236.0 570.3h1.0M215.1 585.5h1.0M211.8 582.2h1.0M213.1 584.5h1.0M221.5 583.0h1.0M223.7 580.5h1.0M210.4 597.3h1.0M192.1 603.8h1.0M214.6 580.4h1.0M225.3 567.5h1.0M202.3 590.9h1.0M219.8 585.2h1.0M216.8 586.9h1.0M205.8 587.3h1.0M210.1 578.5h1.0M213.8 582.0h1.0M215.8 576.1h1.0M207.4 586.2h1.0M207.2 583.3h1.0M206.9 581.2h1.0M220.3 583.9h1.0M212.9 584.2h1.0M203.1 587.1h1.0M208.8 582.7h1.0M204.6 593.7h1.0M212.1 583.4h1.0M206.8 590.3h1.0M206.5 587.9h1.0M217.6 586.5h1.0M217.8 577.2h1.0M219.6 571.9h1.0M216.7 591.4h1.0M233.5 569.1h1.0M209.4 585.8h1.0M203.2 592.6h1.0M207.6 584.7h1.0M220.8 573.5h1.0M230.4 576.7h1.0M216.9 578.1h1.0M202.7 580.3h1.0M215.0 581.9h1.0M214.5 579.5h1.0M212.5 575.5h1.0M197.4 601.8h1.0M211.7 564.7h1.0M222.9 574.7h1.0M207.1 579.7h1.0M207.9 594.6h1.0M207.5 589.8h1.0M219.2 594.1h1.0M216.4 573.4h1.0M205.8 583.5h1.0M200.0 591.6h1.0M222.8 577.6h1.0M218.7 579.7h1.0M210.5 588.1h1.0M219.6 593.3h1.0M229.6 574.1h1.0M211.7 572.7h1.0M220.8 595.5h1.0M209.9 593.7h1.0M222.2 574.9h1.0M210.2 584.6h1.0M220.2 579.6h1.0M229.9 579.5h1.0M222.4 595.6h1.0M209.0 584.5h1.0M208.7 582.9h1.0M210.0 587.5h1.0M215.5 572.4h1.0M199.6 591.3h1.0M212.7 588.8h1.0M212.4 596.4h1.0M208.6 587.6h1.0M218.1 589.3h1.0M216.1 583.0h1.0M209.8 589.3h1.0M215.7 580.7h1.0M207.1 577.6h1.0M213.3 593.4h1.0M224.9 574.9h1.0M221.0 596.6h1.0M213.7 591.8h1.0M213.3 594.7h1.0M219.4 572.7h1.0M233.9 587.8h1.0M207.7 581.5h1.0M214.5 581.4h1.0M197.8 590.9h1.0M210.4 577.0h1.0M223.9 579.4h1.0M216.9 591.9h1.0M208.4 594.0h1.0M201.5 592.8h1.0M217.0 578.4h1.0M214.9 588.4h1.0M230.4 579.9h1.0M216.4 580.7h1.0M207.7 601.8h1.0M221.4 563.3h1.0M220.5 578.8h1.0M220.4 581.4h1.0M212.0 586.2h1.0M217.3 589.9h1.0M209.6 584.5h1.0M221.1 583.1h1.0M218.1 583.1h1.0M229.4 579.5h1.0M214.6 582.6h1.0M212.5 572.8h1.0M206.9 585.6h1.0M213.7 582.2h1.0M236.1 571.2h1.0M224.6 591.4h1.0M212.5 583.6h1.0M226.4 579.9h1.0M225.2 583.6h1.0M208.4 584.7h1.0M208.1 590.3h1.0M218.1 573.8h1.0M204.7 583.1h1.0M232.5 574.6h1.0M211.2 578.5h1.0M203.0 589.3h1.0M209.5 579.5h1.0M215.9 591.5h1.0M214.0 585.2h1.0M195.7 598.1h1.0M210.0 583.1h1.0M202.1 594.1h1.0M203.4 589.7h1.0M200.3 595.4h1.0M218.1 575.3h1.0M211.0 576.5h1.0M220.1 583.2h1.0M213.5 591.2h1.0M206.6 591.1h1.0M227.1 573.4h1.0M208.4 597.3h1.0M217.0 580.2h1.0M192.4 589.6h1.0M206.4 601.4h1.0M213.0 579.5h1.0M228.0 583.1h1.0M208.4 592.6h1.0M201.5 597.7h1.0M223.4 566.8h1.0M211.9 581.9h1.0M213.1 585.9h1.0M218.9 586.7h1.0M221.3 585.8h1.0M225.6 582.6h1.0M209.5 591.2h1.0M207.7 584.0h1.0M230.4 572.9h1.0M206.7 576.0h1.0M214.4 589.7h1.0M210.1 584.1h1.0M224.4 573.7h1.0M210.5 586.8h1.0M215.3 590.9h1.0M217.9 580.8h1.0M209.9 586.5h1.0M226.2 572.2h1.0M213.4 574.0h1.0M218.6 585.6h1.0M224.9 577.6h1.0M219.4 582.3h1.0M229.3 586.1h1.0M212.4 580.2h1.0M218.0 580.5h1.0M221.4 583.8h1.0M213.3 582.1h1.0M211.8 577.7h1.0M212.7 579.4h1.0M217.6 582.4h1.0M207.7 581.5h1.0M211.6 581.8h1.0M214.8 588.7h1.0M216.8 573.2h1.0M225.8 584.2h1.0M223.6 578.4h1.0M218.9 592.7h1.0M205.7 580.8h1.0M215.3 585.5h1.0M201.0 586.9h1.0M230.0 572.0h1.0M217.9 577.3h1.0M200.7 594.5h1.0M222.1 573.1h1.0M198.6 596.3h1.0M211.4 586.9h1.0M204.1 590.7h1.0M212.2 592.2h1.0M217.8 587.5h1.0M205.8 576.5h1.0M199.7 600.4h1.0M223.7 582.6h1.0M206.8 578.1h1.0M211.0 589.9h1.0M223.5 574.2h1.0M206.4 585.5h1.0M224.8 581.6h1.0M203.1 602.3h1.0M201.1 585.1h1.0M198.2 592.7h1.0M241.1 579.7h1.0M201.2 590.6h1.0M216.3 585.6h1.0M204.3 581.6h1.0M207.9 584.9h1.0M199.6 597.6h1.0M195.8 587.7h1.0M229.1 578.5h1.0M225.7 575.6h1.0M210.0 587.4h1.0M205.1 597.2h1.0M214.7 581.8h1.0M198.1 597.1h1.0M231.7 579.9h1.0M219.4 577.6h1.0M216.6 586.3h1.0M218.8 587.9h1.0M200.2 579.9h1.0M190.9 597.6h1.0M204.7 597.0h1.0M222.3 577.6h1.0M218.2 581.6h1.0M213.4 581.8h1.0M214.4 592.6h1.0M211.3 586.6h1.0M224.0 574.3h1.0M231.0 571.1h1.0M230.6 576.9h1.0M224.1 573.2h1.0M233.7 559.8h1.0M232.5 570.3h1.0M220.1 568.6h1.0M235.5 563.5h1.0M228.1 569.5h1.0M227.2 573.5h1.0M238.0 569.4h1.0M236.8 561.5h1.0M232.1 559.9h1.0M233.1 565.7h1.0M221.9 571.8h1.0M230.6 565.8h1.0M236.9 564.1h1.0M231.4 569.5h1.0M232.6 572.0h1.0M236.7 568.3h1.0M231.4 562.7h1.0M234.7 562.6h1.0M226.5 571.8h1.0M230.4 569.0h1.0M229.0 566.8h1.0M232.1 561.4h1.0M231.3 563.7h1.0M228.2 573.2h1.0M225.7 572.7h1.0M224.7 570.0h1.0M223.0 574.2h1.0M224.6 577.0h1.0M231.0 573.3h1.0M229.2 561.0h1.0M235.9 564.5h1.0M232.4 568.3h1.0M228.3 568.7h1.0M223.7 570.8h1.0M218.4 567.1h1.0M233.9 566.2h1.0M226.3 576.1h1.0M233.6 562.8h1.0M236.6 564.9h1.0M228.9 571.7h1.0M226.6 575.3h1.0M231.0 566.5h1.0M227.9 571.7h1.0M228.5 564.9h1.0M223.2 569.9h1.0M227.5 573.4h1.0M229.3 559.6h1.0M234.7 558.6h1.0M226.9 577.0h1.0M231.1 563.2h1.0M231.5 564.6h1.0M232.8 571.0h1.0M229.5 570.2h1.0M230.5 561.6h1.0M228.4 567.8h1.0M231.6 563.9h1.0M232.0 566.9h1.0M228.5 568.9h1.0M228.5 575.3h1.0M232.3 569.0h1.0M221.4 572.6h1.0M232.9 560.9h1.0M221.5 573.6h1.0M231.0 578.9h1.0M238.2 562.5h1.0M232.6 560.6h1.0M233.2 566.2h1.0M234.1 557.6h1.0M231.9 562.5h1.0M228.7 566.1h1.0M224.4 567.1h1.0M236.3 563.9h1.0M230.7 568.7h1.0M236.0 569.4h1.0M229.2 568.7h1.0M234.1 568.6h1.0M231.0 566.2h1.0M234.8 568.1h1.0M223.6 567.4h1.0M232.7 566.5h1.0M228.3 567.3h1.0M231.7 575.1h1.0M232.2 560.3h1.0M227.1 571.0h1.0M227.1 574.4h1.0M231.6 569.8h1.0M237.3 561.5h1.0M229.7 571.3h1.0M227.2 575.6h1.0M230.0 571.2h1.0M237.6 561.7h1.0M232.3 564.2h1.0M231.4 575.3h1.0M221.0 571.7h1.0M232.8 566.2h1.0M235.3 559.4h1.0M228.8 572.1h1.0M236.1 561.3h1.0M224.4 568.3h1.0M228.8 571.1h1.0M234.2 561.6h1.0M230.4 557.7h1.0M222.3 577.2h1.0M228.6 571.0h1.0M228.3 570.3h1.0M224.0 571.1h1.0M225.4 564.4h1.0M230.3 566.7h1.0M228.1 570.5h1.0M234.7 559.7h1.0M228.4 568.6h1.0M230.9 566.8h1.0M226.6 556.8h1.0M229.3 561.7h1.0M235.8 564.3h1.0M232.7 570.6h1.0M233.4 573.2h1.0M226.2 571.6h1.0M227.3 563.5h1.0M233.0 571.5h1.0M234.0 569.1h1.0M229.8 566.2h1.0M231.9 557.2h1.0M235.7 565.0h1.0M228.4 569.3h1.0M235.6 558.5h1.0M232.5 565.6h1.0M228.9 567.6h1.0M232.0 560.9h1.0M222.8 576.0h1.0M224.5 571.3h1.0M233.1 571.5h1.0M234.4 572.1h1.0M229.5 563.7h1.0M228.7 576.7h1.0M237.3 563.4h1.0M229.9 564.5h1.0M233.0 562.5h1.0M227.7 574.3h1.0M225.5 573.4h1.0M231.1 564.5h1.0M231.9 566.6h1.0M224.7 576.2h1.0M224.6 572.3h1.0M224.2 573.6h1.0M228.9 563.7h1.0M229.9 564.3h1.0M226.5 565.9h1.0M226.8 569.1h1.0M236.1 565.8h1.0M223.3 569.6h1.0M228.2 573.2h1.0M228.6 571.7h1.0M238.9 563.8h1.0M231.9 569.7h1.0M229.6 571.3h1.0M227.5 570.1h1.0M231.0 559.9h1.0M229.2 574.0h1.0M233.6 565.6h1.0M220.7 572.0h1.0M231.5 565.9h1.0M234.4 572.4h1.0M232.4 569.0h1.0M232.8 564.0h1.0M233.1 566.8h1.0M234.3 569.1h1.0M230.3 561.7h1.0M225.3 574.1h1.0M224.2 575.0h1.0M228.6 566.8h1.0M228.3 572.3h1.0M225.7 572.1h1.0M234.0 563.8h1.0M226.9 574.7h1.0M227.4 565.6h1.0M235.8 567.9h1.0M229.1 565.5h1.0M229.7 574.6h1.0M231.5 576.4h1.0M231.8 563.7h1.0M234.4 563.0h1.0M234.1 577.0h1.0M233.1 569.6h1.0M232.8 573.5h1.0M226.5 567.1h1.0M236.0 568.0h1.0M225.4 573.7h1.0M227.0 577.1h1.0M230.0 570.0h1.0M233.3 568.4h1.0M232.2 564.3h1.0M233.7 564.2h1.0M234.2 559.8h1.0M224.7 573.0h1.0M227.2 567.6h1.0M230.6 571.2h1.0M232.5 559.1h1.0M227.7 576.9h1.0M229.9 573.4h1.0M233.1 559.7h1.0M233.5 560.0h1.0M236.1 561.9h1.0M231.8 562.5h1.0M238.1 565.4h1.0M230.8 566.0h1.0M235.1 565.9h1.0M223.8 571.8h1.0M234.4 571.2h1.0M231.6 577.6h1.0M223.9 570.7h1.0M229.9 566.5h1.0M226.7 571.3h1.0M231.5 568.4h1.0M226.9 575.2h1.0M230.2 578.1h1.0M234.8 565.1h1.0M231.7 567.2h1.0M237.1 564.9h1.0M234.2 567.0h1.0M235.6 580.1h1.0M233.9 568.2h1.0M227.0 569.6h1.0M229.1 567.3h1.0M220.3 567.6h1.0M228.8 568.7h1.0M223.6 573.1h1.0M226.5 568.0h1.0M228.5 563.1h1.0M232.3 563.9h1.0M235.2 557.8h1.0M232.1 558.9h1.0M225.2 564.2h1.0M229.7 574.5h1.0M227.0 571.9h1.0M228.2 567.4h1.0M234.8 566.9h1.0M235.4 563.5h1.0M224.9 569.5h1.0M228.5 559.1h1.0M233.9 561.6h1.0M226.4 572.9h1.0M230.1 563.8h1.0M231.6 568.5h1.0M232.9 579.8h1.0M233.9 572.7h1.0M230.0 532.4h1.0M242.3 530.7h1.0M236.7 536.9h1.0M241.0 528.0h1.0M233.3 532.4h1.0M239.1 528.0h1.0M234.5 533.5h1.0M241.8 533.9h1.0M240.8 526.7h1.0M248.8 531.5h1.0M235.1 529.5h1.0M232.2 533.2h1.0M237.2 532.0h1.0M243.3 529.7h1.0M244.3 529.7h1.0M230.3 529.2h1.0M230.4 532.9h1.0M246.9 528.6h1.0M246.6 531.3h1.0M249.8 527.5h1.0M241.2 527.3h1.0M234.8 534.9h1.0M222.9 527.6h1.0M245.4 533.0h1.0M233.9 524.0h1.0M225.5 531.7h1.0M250.9 533.4h1.0M234.4 534.8h1.0M239.3 532.5h1.0M239.3 535.6h1.0M236.3 523.6h1.0M238.2 531.1h1.0M243.5 528.2h1.0M238.9 526.9h1.0M238.9 530.8h1.0M243.2 535.8h1.0M223.0 532.2h1.0M244.9 526.8h1.0M241.6 530.5h1.0M232.0 532.8h1.0M258.2 532.7h1.0M248.0 533.9h1.0M239.8 533.6h1.0M233.7 531.1h1.0M247.3 534.7h1.0M238.4 529.6h1.0M245.2 530.2h1.0M242.2 533.1h1.0M234.1 533.3h1.0M244.4 529.7h1.0M229.8 528.5h1.0M240.6 533.5h1.0M223.3 532.8h1.0M242.7 526.9h1.0M248.7 531.8h1.0M244.9 527.4h1.0M231.1 533.4h1.0M253.6 531.7h1.0M239.3 529.1h1.0M225.6 533.6h1.0M240.1 534.4h1.0M234.5 533.8h1.0M234.6 532.4h1.0M253.3 528.3h1.0M249.1 530.5h1.0M232.6 531.1h1.0M246.8 528.2h1.0M238.6 528.7h1.0M234.1 529.8h1.0M248.4 528.9h1.0M252.1 529.3h1.0M234.8 533.9h1.0M253.6 528.4h1.0M246.2 526.8h1.0M237.4 529.3h1.0M247.3 526.5h1.0M236.4 528.3h1.0M241.9 526.6h1.0M229.1 539.5h1.0M242.9 525.7h1.0M248.4 526.3h1.0M224.2 535.8h1.0M252.1 527.8h1.0M231.3 532.0h1.0M259.1 532.4h1.0M246.9 526.7h1.0M225.1 531.7h1.0M250.0 530.9h1.0M241.0 534.9h1.0M233.5 534.0h1.0M248.4 528.5h1.0M242.1 530.8h1.0M246.2 527.4h1.0M238.9 530.8h1.0M241.2 530.6h1.0M243.2 529.9h1.0M236.6 533.8h1.0M235.3 529.5h1.0M233.2 526.9h1.0M245.0 530.4h1.0M239.8 531.9h1.0M239.5 532.6h1.0M257.0 531.6h1.0M238.6 535.7h1.0M247.3 525.2h1.0M252.8 531.2h1.0M248.6 526.9h1.0M233.5 528.5h1.0M245.9 527.0h1.0M234.7 533.5h1.0M235.3 530.9h1.0M233.0 525.1h1.0M240.3 530.1h1.0M228.3 533.6h1.0M248.3 533.3h1.0M236.5 526.9h1.0M240.2 531.0h1.0M239.5 528.6h1.0M232.2 528.2h1.0M240.3 529.0h1.0M255.7 529.6h1.0M245.0 529.0h1.0M239.4 527.4h1.0M236.7 525.8h1.0M222.6 534.7h1.0M231.7 531.9h1.0M239.9 528.7h1.0M247.4 528.7h1.0M244.8 529.3h1.0M249.6 533.5h1.0M241.6 533.9h1.0M245.4 535.4h1.0M239.9 525.6h1.0M242.9 531.2h1.0M237.8 529.8h1.0M238.6 526.6h1.0M256.1 528.1h1.0M231.5 525.5h1.0M233.5 530.4h1.0M254.0 532.4h1.0M234.6 526.6h1.0M231.1 530.2h1.0M248.6 529.0h1.0M255.1 536.6h1.0M242.4 523.7h1.0M250.6 530.2h1.0M246.9 533.6h1.0M232.1 530.7h1.0M242.5 528.1h1.0M247.1 530.1h1.0M237.4 536.4h1.0M242.5 535.6h1.0M239.6 533.7h1.0M234.4 531.0h1.0M250.5 523.7h1.0M245.7 529.6h1.0M250.6 531.1h1.0M240.3 526.5h1.0M266.9 528.2h1.0M238.1 528.2h1.0M238.3 531.2h1.0M229.2 533.8h1.0M238.7 532.4h1.0M222.4 528.9h1.0M238.4 529.3h1.0M235.1 531.5h1.0M244.6 527.4h1.0M223.7 532.8h1.0M238.1 533.8h1.0M248.6 530.2h1.0M228.4 529.4h1.0M234.6 534.4h1.0M226.1 533.4h1.0M227.4 528.7h1.0M228.5 528.3h1.0M237.1 531.7h1.0M235.8 532.6h1.0M256.3 531.0h1.0M230.8 529.9h1.0M240.1 529.4h1.0M251.1 534.1h1.0M258.6 532.1h1.0M217.5 530.1h1.0M246.8 528.0h1.0M235.7 533.3h1.0M242.2 527.0h1.0M235.8 520.8h1.0M240.9 526.7h1.0M240.5 526.8h1.0M232.8 528.9h1.0M265.4 526.8h1.0M230.5 528.8h1.0M250.3 533.0h1.0M247.1 529.5h1.0M242.1 528.1h1.0M239.3 528.0h1.0M228.2 527.4h1.0M257.9 531.7h1.0M234.3 530.1h1.0M237.0 534.3h1.0M240.7 528.5h1.0M246.9 531.5h1.0M234.9 528.1h1.0M242.2 525.4h1.0M232.9 533.7h1.0M248.5 534.0h1.0M237.0 528.6h1.0M238.5 529.0h1.0M252.2 529.8h1.0M252.8 528.3h1.0M244.2 535.6h1.0M234.4 528.4h1.0M235.7 525.4h1.0M238.3 528.5h1.0M260.3 529.0h1.0M222.2 533.4h1.0M249.3 530.4h1.0M243.4 532.7h1.0M236.0 530.6h1.0M242.2 535.7h1.0M253.3 531.0h1.0M229.1 533.3h1.0M240.4 534.1h1.0M241.4 531.1h1.0M246.7 528.2h1.0M235.1 537.7h1.0M233.3 533.4h1.0M246.9 533.0h1.0M252.9 526.3h1.0M249.3 524.0h1.0M241.4 531.5h1.0M249.9 533.9h1.0M232.7 529.6h1.0M239.5 528.3h1.0M233.7 528.4h1.0M251.0 534.8h1.0M247.5 535.8h1.0M241.7 527.1h1.0M235.2 531.1h1.0M249.9 534.3h1.0M233.0 533.5h1.0M236.2 532.4h1.0M248.9 535.1h1.0M236.3 531.3h1.0M244.6 529.2h1.0M241.7 532.4h1.0M226.5 528.5h1.0M261.1 531.9h1.0M236.0 524.7h1.0M232.5 532.1h1.0M246.8 531.9h1.0M246.1 528.6h1.0M254.8 527.0h1.0M245.4 529.7h1.0M225.9 533.3h1.0M238.5 532.7h1.0M252.0 531.0h1.0M235.1 529.8h1.0M240.3 535.0h1.0M248.4 535.5h1.0M247.5 528.1h1.0M249.0 533.5h1.0M239.8 531.9h1.0M238.1 526.5h1.0M240.1 532.9h1.0M237.7 523.5h1.0M233.9 533.9h1.0M242.8 534.0h1.0M234.3 529.2h1.0M232.1 528.1h1.0M245.4 530.9h1.0M236.6 531.4h1.0M229.4 529.3h1.0M227.8 525.8h1.0M229.0 527.0h1.0M254.7 534.8h1.0M251.9 528.7h1.0M246.3 526.9h1.0M236.1 531.3h1.0M226.9 531.1h1.0M246.2 524.0h1.0M219.5 529.6h1.0M239.8 530.9h1.0M231.0 532.3h1.0M241.9 528.2h1.0M255.2 531.3h1.0M247.3 536.3h1.0M236.5 529.8h1.0M225.7 529.8h1.0M244.7 538.4h1.0M245.8 531.1h1.0M229.8 527.8h1.0M224.7 526.2h1.0M241.8 531.4h1.0M232.9 529.8h1.0M233.8 532.4h1.0M246.4 528.7h1.0M236.9 526.6h1.0M236.8 537.4h1.0M240.7 533.2h1.0M245.9 535.2h1.0M238.0 527.6h1.0M249.9 533.4h1.0M235.1 534.0h1.0M240.7 530.4h1.0M257.0 532.2h1.0M243.6 529.5h1.0M242.6 533.8h1.0M244.8 528.1h1.0M244.8 530.1h1.0M243.6 529.9h1.0M221.7 525.4h1.0M237.5 523.5h1.0M227.7 536.9h1.0M246.9 529.0h1.0M243.7 523.4h1.0M243.0 533.6h1.0M242.5 526.4h1.0M249.3 528.8h1.0M235.8 531.1h1.0M238.2 536.9h1.0M239.6 537.3h1.0M244.8 526.6h1.0M240.8 530.7h1.0M253.5 534.6h1.0M263.3 528.4h1.0M237.0 537.9h1.0M233.0 531.6h1.0M255.0 527.3h1.0M237.8 528.1h1.0M245.5 531.8h1.0M240.5 532.6h1.0M233.9 529.3h1.0M245.0 536.9h1.0M240.5 530.7h1.0M252.4 530.7h1.0M252.3 531.3h1.0M251.0 531.1h1.0M232.8 527.8h1.0M244.6 536.5h1.0M257.3 529.5h1.0M262.9 527.0h1.0M233.4 533.5h1.0M227.4 533.4h1.0M244.2 532.5h1.0M230.2 531.7h1.0M249.1 530.3h1.0M249.9 530.6h1.0M243.9 529.5h1.0M228.9 530.0h1.0M231.3 528.9h1.0M226.0 534.6h1.0M234.4 531.1h1.0M219.8 531.9h1.0M228.8 532.1h1.0M227.5 529.5h1.0M228.5 529.2h1.0M217.3 526.9h1.0M224.7 527.5h1.0M218.5 528.7h1.0M220.6 529.7h1.0M234.4 530.7h1.0M224.6 529.6h1.0M224.6 533.3h1.0M224.0 530.6h1.0M220.1 527.7h1.0M216.9 526.8h1.0M218.5 526.4h1.0M221.6 531.2h1.0M214.6 532.8h1.0M222.4 531.6h1.0M221.9 533.1h1.0M227.6 527.1h1.0M224.6 528.4h1.0M229.2 529.3h1.0M217.2 526.3h1.0M234.7 527.1h1.0M217.8 534.4h1.0M213.2 529.7h1.0M222.0 532.1h1.0M230.0 534.8h1.0M219.3 526.8h1.0M217.0 526.0h1.0M218.2 531.6h1.0M232.6 526.9h1.0M218.2 534.0h1.0M225.5 529.6h1.0M213.7 526.5h1.0M217.0 531.5h1.0M213.3 530.5h1.0M230.8 526.0h1.0M218.6 529.7h1.0M226.0 532.6h1.0M227.6 529.9h1.0M219.8 531.6h1.0M222.6 534.4h1.0M224.2 531.3h1.0M227.3 530.3h1.0M223.3 532.0h1.0M225.8 535.0h1.0M219.0 530.4h1.0M234.4 533.3h1.0M224.7 528.7h1.0M216.1 529.7h1.0M221.8 529.9h1.0M217.9 530.3h1.0M225.2 526.9h1.0M227.2 532.4h1.0M216.5 528.2h1.0M212.9 530.2h1.0M227.5 529.7h1.0M225.5 531.4h1.0M213.0 526.5h1.0M223.7 534.3h1.0M228.2 530.0h1.0M218.0 527.2h1.0M226.9 532.9h1.0M221.0 526.8h1.0M218.4 532.4h1.0M229.7 529.6h1.0M232.4 529.5h1.0M212.5 527.8h1.0M232.5 532.4h1.0M214.0 528.6h1.0M221.1 530.3h1.0M212.6 534.3h1.0M224.2 528.4h1.0M212.7 531.1h1.0M233.5 532.5h1.0M231.8 533.9h1.0M227.3 526.5h1.0M219.2 531.2h1.0M221.6 528.0h1.0M213.6 533.8h1.0M227.3 528.7h1.0M222.8 533.9h1.0M215.3 531.7h1.0M217.4 534.1h1.0M230.4 534.5h1.0M220.8 530.6h1.0M219.4 529.2h1.0M233.9 534.7h1.0M234.9 534.2h1.0M223.3 531.9h1.0M232.9 529.9h1.0M233.1 533.2h1.0M218.5 529.2h1.0M227.9 527.5h1.0M217.9 527.7h1.0M214.5 534.2h1.0M234.9 533.4h1.0M223.6 532.7h1.0M227.8 530.0h1.0M224.0 527.1h1.0M217.6 529.1h1.0M220.2 531.9h1.0M217.6 528.1h1.0M232.1 533.0h1.0M233.4 533.0h1.0M216.5 530.4h1.0M231.2 533.3h1.0M217.2 530.3h1.0M225.6 526.1h1.0M217.6 532.7h1.0M227.3 530.0h1.0M225.1 530.7h1.0M220.0 526.8h1.0M229.1 533.0h1.0M222.0 532.9h1.0M231.0 532.2h1.0M239.2 557.2h1.0M216.2 556.7h1.0M228.6 552.9h1.0M237.1 537.3h1.0M232.6 537.1h1.0M237.0 542.8h1.0M226.3 541.3h1.0M239.3 549.7h1.0M224.0 552.0h1.0M220.6 553.4h1.0M233.1 552.6h1.0M233.5 557.7h1.0M235.9 545.7h1.0M232.7 548.0h1.0M223.6 542.0h1.0M239.0 553.8h1.0M244.0 550.8h1.0M230.1 544.1h1.0M236.2 549.9h1.0M243.3 552.2h1.0M226.5 541.4h1.0M216.3 552.9h1.0M227.8 544.1h1.0M216.6 546.4h1.0M241.9 541.4h1.0M237.3 552.5h1.0M234.8 548.7h1.0M222.5 550.5h1.0M232.5 557.2h1.0M230.5 543.2h1.0M242.2 549.4h1.0M225.2 549.9h1.0M219.6 539.3h1.0M241.5 545.7h1.0M239.1 539.9h1.0M229.1 540.5h1.0M239.1 548.7h1.0M226.8 543.8h1.0M221.3 539.8h1.0M235.7 542.2h1.0M218.1 543.9h1.0M228.6 557.7h1.0M226.6 544.3h1.0M244.2 551.6h1.0M228.8 544.2h1.0M221.8 538.5h1.0M229.2 549.7h1.0M218.2 546.0h1.0M220.2 548.8h1.0M225.3 550.3h1.0M238.5 544.3h1.0M226.5 536.8h1.0M221.4 549.3h1.0M239.2 538.2h1.0M244.3 556.0h1.0M226.0 547.4h1.0M235.2 542.6h1.0M226.0 551.6h1.0M229.5 545.0h1.0M231.9 537.7h1.0M229.1 541.8h1.0M220.0 547.1h1.0M236.1 547.1h1.0M230.0 550.4h1.0M227.6 557.6h1.0M221.4 535.2h1.0M232.1 551.0h1.0M226.5 544.2h1.0M225.3 540.6h1.0M238.8 554.9h1.0M223.4 548.0h1.0M228.8 538.0h1.0M237.0 547.2h1.0M244.7 555.9h1.0M242.1 541.0h1.0M218.3 553.6h1.0M218.2 550.8h1.0M220.3 551.2h1.0M216.6 537.0h1.0M241.0 546.9h1.0M228.5 557.4h1.0M238.5 540.2h1.0M236.2 543.9h1.0M228.9 542.2h1.0M221.8 542.0h1.0M223.2 539.3h1.0M241.2 543.7h1.0M231.8 553.7h1.0M235.3 538.6h1.0M243.6 556.4h1.0M240.2 542.6h1.0M239.9 549.8h1.0M215.9 543.7h1.0M235.9 547.5h1.0M243.4 553.2h1.0M240.1 557.5h1.0M225.3 555.9h1.0M215.1 553.4h1.0M217.6 546.5h1.0M228.2 536.7h1.0M234.1 553.1h1.0M221.7 540.6h1.0M238.1 547.2h1.0M215.6 542.1h1.0M243.3 541.3h1.0M223.7 545.4h1.0M241.6 553.6h1.0M226.6 550.3h1.0M215.8 536.5h1.0M226.2 549.6h1.0M219.2 536.0h1.0M240.6 539.3h1.0M216.6 537.0h1.0M217.4 541.6h1.0M232.4 550.1h1.0M223.6 546.9h1.0M225.0 548.3h1.0M218.3 549.4h1.0M215.0 556.2h1.0M221.3 547.8h1.0M220.7 545.2h1.0M222.9 549.7h1.0M238.4 554.4h1.0M244.2 545.5h1.0M231.5 543.1h1.0M223.6 546.7h1.0M244.2 536.3h1.0M237.4 542.4h1.0M232.9 541.1h1.0M236.6 546.4h1.0M228.6 583.0h1.0M231.6 580.0h1.0M231.2 579.3h1.0M225.8 582.7h1.0M237.9 581.6h1.0M232.4 587.4h1.0M225.7 581.6h1.0M228.8 579.2h1.0M224.2 579.8h1.0M231.4 575.3h1.0M229.2 578.6h1.0M226.5 581.9h1.0M235.8 581.3h1.0M233.6 582.3h1.0M229.8 581.8h1.0M234.7 578.8h1.0M229.5 575.9h1.0M223.5 577.6h1.0M233.1 581.1h1.0M230.9 584.0h1.0M223.8 584.2h1.0M230.3 582.4h1.0M234.9 577.6h1.0M226.9 581.2h1.0M229.8 578.3h1.0M229.6 577.9h1.0M230.5 578.9h1.0M236.0 576.9h1.0M232.0 580.3h1.0M235.6 577.2h1.0M228.4 585.2h1.0M227.7 578.9h1.0M228.6 577.1h1.0M234.3 584.6h1.0M229.5 577.8h1.0M225.2 582.0h1.0M228.1 581.7h1.0M221.5 578.8h1.0M232.2 581.3h1.0M219.9 580.9h1.0M230.5 580.0h1.0M228.8 578.7h1.0M230.5 581.6h1.0M218.9 580.0h1.0M233.3 579.4h1.0M234.3 577.3h1.0M236.7 582.9h1.0M228.6 588.2h1.0M235.1 584.8h1.0M225.8 579.7h1.0M231.7 583.2h1.0M230.3 576.2h1.0M234.3 579.5h1.0M231.5 579.1h1.0M229.6 576.0h1.0M232.3 578.2h1.0M223.8 581.3h1.0M229.9 582.9h1.0M232.9 576.4h1.0M229.4 580.0h1.0M252.3 550.3h1.0M212.8 547.8h1.0M205.3 586.5h1.0M254.8 597.1h1.0M245.6 528.7h1.0M226.7 599.6h1.0M195.1 544.1h1.0M206.2 529.5h1.0M215.6 567.6h1.0M200.0 588.7h1.0M227.3 529.7h1.0M202.6 559.6h1.0M221.2 557.6h1.0M203.1 545.2h1.0M232.9 522.2h1.0M232.6 586.5h1.0M239.2 526.0h1.0M242.3 522.0h1.0M205.7 515.8h1.0M234.8 530.1h1.0M215.9 525.2h1.0M262.1 527.3h1.0M245.6 583.5h1.0M228.7 564.5h1.0M220.0 584.6h1.0M246.4 521.6h1.0M247.8 527.0h1.0M231.1 530.6h1.0M231.3 570.7h1.0M250.0 542.7h1.0" stroke="#b8442a" stroke-width="1.0" stroke-opacity="0.75" fill="none"/>
<rect x="187.1" y="497.7" width="108.70000000000002" height="109.90000000000003" fill="none" stroke="#2a2a2a" stroke-width="1.3"/>
<line x1="227.2" y1="497.7" x2="227.2" y2="607.6" stroke="#3a3a3a" stroke-width="1.1"/>
<line x1="187.1" y1="559.4" x2="295.8" y2="559.4" stroke="#3a3a3a" stroke-width="1.1"/>
<text x="328.7" y="616.3" font-size="6.2" text-anchor="middle" fill="#333">10<tspan font-size="5" dy="-2.8">0</tspan></text>
<text transform="translate(324.2,602.8) rotate(-90)" font-size="6.2" text-anchor="middle" fill="#333">10<tspan font-size="5" dy="-2.8">0</tspan></text>
<text x="355.7" y="616.3" font-size="6.2" text-anchor="middle" fill="#333">10<tspan font-size="5" dy="-2.8">1</tspan></text>
<text transform="translate(324.2,578.5) rotate(-90)" font-size="6.2" text-anchor="middle" fill="#333">10<tspan font-size="5" dy="-2.8">1</tspan></text>
<text x="382.8" y="616.3" font-size="6.2" text-anchor="middle" fill="#333">10<tspan font-size="5" dy="-2.8">2</tspan></text>
<text transform="translate(324.2,551.2) rotate(-90)" font-size="6.2" text-anchor="middle" fill="#333">10<tspan font-size="5" dy="-2.8">2</tspan></text>
<text x="409.8" y="616.3" font-size="6.2" text-anchor="middle" fill="#333">10<tspan font-size="5" dy="-2.8">3</tspan></text>
<text transform="translate(324.2,523.9) rotate(-90)" font-size="6.2" text-anchor="middle" fill="#333">10<tspan font-size="5" dy="-2.8">3</tspan></text>
<text x="436.8" y="616.3" font-size="6.2" text-anchor="middle" fill="#333">10<tspan font-size="5" dy="-2.8">4</tspan></text>
<text transform="translate(324.2,499.6) rotate(-90)" font-size="6.2" text-anchor="middle" fill="#333">10<tspan font-size="5" dy="-2.8">4</tspan></text>
<text x="381.1" y="621.8" font-size="5.5" text-anchor="middle" fill="#444">FITC</text>
<text transform="translate(316.2,555.2) rotate(-90)" font-size="6" text-anchor="middle" fill="#444">PI</text>
<path d="M335.8 605.8v1.6M327.7 597.6h-1.6M340.6 605.8v1.6M327.7 592.8h-1.6M344.0 605.8v1.6M327.7 589.4h-1.6M346.6 605.8v1.6M327.7 586.7h-1.6M348.7 605.8v1.6M327.7 584.6h-1.6M350.5 605.8v1.6M327.7 582.7h-1.6M352.1 605.8v1.6M327.7 581.1h-1.6M353.5 605.8v1.6M327.7 579.7h-1.6M327.7 605.8v2.5M327.7 605.8h-2.5M362.9 605.8v1.6M327.7 570.3h-1.6M367.6 605.8v1.6M327.7 565.5h-1.6M371.0 605.8v1.6M327.7 562.1h-1.6M373.6 605.8v1.6M327.7 559.4h-1.6M375.8 605.8v1.6M327.7 557.3h-1.6M377.6 605.8v1.6M327.7 555.4h-1.6M379.1 605.8v1.6M327.7 553.8h-1.6M380.5 605.8v1.6M327.7 552.4h-1.6M354.7 605.8v2.5M327.7 578.5h-2.5M389.9 605.8v1.6M327.7 543.0h-1.6M394.6 605.8v1.6M327.7 538.2h-1.6M398.0 605.8v1.6M327.7 534.8h-1.6M400.6 605.8v1.6M327.7 532.1h-1.6M402.8 605.8v1.6M327.7 530.0h-1.6M404.6 605.8v1.6M327.7 528.1h-1.6M406.2 605.8v1.6M327.7 526.5h-1.6M407.5 605.8v1.6M327.7 525.1h-1.6M381.8 605.8v2.5M327.7 551.2h-2.5M416.9 605.8v1.6M327.7 515.7h-1.6M421.7 605.8v1.6M327.7 510.9h-1.6M425.0 605.8v1.6M327.7 507.5h-1.6M427.7 605.8v1.6M327.7 504.8h-1.6M429.8 605.8v1.6M327.7 502.7h-1.6M431.6 605.8v1.6M327.7 500.8h-1.6M433.2 605.8v1.6M327.7 499.2h-1.6M434.6 605.8v1.6M327.7 497.8h-1.6M408.8 605.8v2.5M327.7 523.9h-2.5M435.8 605.8v2.5M327.7 496.6h-2.5" stroke="#333" stroke-width="0.7" fill="none"/>
<text x="379.4" y="487.3" font-size="14" text-anchor="middle" font-weight="bold" fill="#111" stroke="#111">3-MA</text>
<text x="429.8" y="515.5" font-size="13.5" text-anchor="end" fill="#111" stroke="#111">0.8%</text>
<text x="429.8" y="581.4" font-size="13.5" text-anchor="end" fill="#111" stroke="#111">0.3%</text>
<path d="M364.5 562.8L364.7 562.6L365.0 562.5L365.2 562.4L365.5 562.3L365.9 562.3L366.2 562.4L366.4 562.5L366.7 562.6L366.9 562.8L367.1 563.1L367.3 563.4L367.4 563.6L367.4 564.0L367.4 564.3L367.3 564.6L367.2 564.8L347.4 599.7L346.6 600.8L345.5 601.7L344.4 602.4L343.0 602.9L341.7 603.0L340.3 602.9L339.0 602.4L337.8 601.7L336.8 600.8L336.0 599.7L335.5 598.4L335.2 597.1L335.2 595.7L335.6 594.4L336.1 593.1L337.0 592.0Z" fill="#e2330f" filter="url(#bl6)"/>
<path d="M330.1 593.5h1.0M359.0 569.4h1.0M360.6 567.6h1.0M354.7 575.9h1.0M335.2 589.3h1.0M360.2 575.1h1.0M354.4 558.2h1.0M353.2 592.2h1.0M350.9 595.3h1.0M345.7 596.6h1.0M359.1 564.3h1.0M331.6 600.8h1.0M351.7 583.3h1.0M359.0 559.7h1.0M350.6 565.3h1.0M353.8 575.9h1.0M356.7 571.5h1.0M338.3 569.8h1.0M361.2 564.9h1.0M370.4 560.9h1.0M351.2 579.7h1.0M368.7 569.4h1.0M359.8 571.7h1.0M360.0 572.1h1.0M361.6 556.7h1.0M359.0 563.0h1.0M359.6 572.1h1.0M353.4 582.5h1.0M352.9 563.3h1.0M356.0 582.6h1.0M363.6 562.7h1.0M357.3 573.3h1.0M358.9 564.8h1.0M360.3 547.4h1.0M348.4 572.0h1.0M349.4 591.9h1.0M352.1 571.2h1.0M353.0 565.2h1.0M345.1 579.5h1.0M363.1 563.0h1.0M344.4 579.7h1.0M362.4 577.1h1.0M346.9 580.7h1.0M350.9 578.9h1.0M357.7 564.3h1.0M350.9 562.4h1.0M353.6 589.9h1.0M357.2 569.8h1.0M340.4 585.9h1.0M346.4 592.3h1.0M370.6 571.3h1.0M352.8 572.0h1.0M341.9 583.0h1.0M340.3 586.6h1.0M336.5 591.1h1.0M348.2 578.1h1.0M360.1 566.6h1.0M347.0 576.1h1.0M343.5 594.1h1.0M354.2 570.5h1.0M352.2 565.5h1.0M342.6 582.1h1.0M336.9 588.7h1.0M354.0 577.8h1.0M356.8 561.7h1.0M354.2 567.6h1.0M346.8 582.7h1.0M356.9 569.7h1.0M348.2 589.2h1.0M355.2 581.1h1.0M358.7 572.7h1.0M353.1 571.2h1.0M346.9 583.7h1.0M353.4 565.8h1.0M354.9 586.4h1.0M356.4 578.5h1.0M338.4 586.5h1.0M348.1 578.2h1.0M357.8 564.7h1.0M353.4 564.0h1.0M362.9 554.2h1.0M362.2 564.9h1.0M364.0 566.3h1.0M344.0 583.7h1.0M364.0 578.9h1.0M358.7 568.3h1.0M355.0 570.6h1.0M354.9 582.3h1.0M365.9 564.9h1.0M351.2 576.9h1.0M354.8 582.8h1.0M342.3 598.1h1.0M355.5 562.2h1.0M344.6 582.6h1.0M336.1 581.4h1.0M346.6 590.3h1.0M346.2 594.6h1.0M342.5 580.7h1.0M354.7 584.3h1.0M332.7 592.1h1.0M341.9 590.5h1.0M345.7 598.4h1.0M357.6 581.8h1.0M356.5 571.9h1.0M355.1 571.2h1.0M352.9 574.8h1.0M347.7 582.6h1.0M358.4 574.4h1.0M355.5 574.1h1.0M364.1 561.3h1.0M347.5 591.9h1.0M358.3 558.7h1.0M349.5 594.5h1.0M336.5 586.4h1.0M361.0 559.6h1.0M352.9 567.8h1.0M343.7 570.2h1.0M347.5 580.7h1.0M350.7 602.1h1.0M348.1 570.7h1.0M347.8 588.3h1.0M342.8 593.0h1.0M364.0 566.1h1.0M360.7 569.8h1.0M352.1 587.6h1.0M354.3 577.4h1.0M345.3 584.9h1.0M360.6 572.4h1.0M336.7 590.8h1.0M354.5 564.2h1.0M355.1 558.1h1.0M358.9 579.0h1.0M358.7 566.6h1.0M356.2 572.2h1.0M338.1 594.9h1.0M343.0 589.6h1.0M365.9 574.7h1.0M363.7 571.6h1.0M342.9 580.5h1.0M367.1 578.9h1.0M364.5 570.3h1.0M353.1 594.7h1.0M363.0 568.1h1.0M353.0 580.6h1.0M358.2 579.6h1.0M352.0 595.1h1.0M346.4 593.2h1.0M335.9 597.4h1.0M361.6 569.2h1.0M362.6 562.0h1.0M361.7 570.5h1.0M335.1 597.8h1.0M357.1 567.0h1.0M338.6 600.0h1.0M351.9 570.2h1.0M349.4 577.3h1.0M333.3 591.9h1.0M350.2 589.0h1.0M362.0 580.6h1.0M347.3 580.8h1.0M343.0 590.6h1.0M363.2 570.2h1.0M360.0 557.4h1.0M347.6 572.3h1.0M356.5 571.7h1.0M346.4 596.6h1.0M355.1 587.3h1.0M350.5 583.5h1.0M348.6 573.0h1.0M367.5 571.0h1.0M354.2 562.6h1.0M357.6 569.9h1.0M357.0 574.9h1.0M357.6 577.7h1.0M358.5 575.4h1.0M352.6 569.2h1.0M351.2 575.1h1.0M337.0 585.6h1.0M347.2 602.6h1.0M338.8 592.7h1.0M344.4 587.3h1.0M360.3 568.7h1.0M347.5 574.3h1.0M364.0 571.1h1.0M366.2 556.5h1.0M359.1 578.3h1.0M352.9 577.2h1.0M333.2 591.0h1.0M338.7 592.8h1.0M360.0 566.0h1.0M347.3 583.9h1.0M354.7 567.7h1.0M347.4 570.9h1.0M344.8 578.8h1.0M353.4 575.3h1.0M346.5 571.8h1.0M344.9 586.2h1.0M345.5 600.1h1.0M364.6 561.1h1.0M343.2 574.0h1.0M352.1 556.9h1.0M352.7 589.7h1.0M364.9 566.4h1.0M354.2 585.1h1.0M355.7 589.1h1.0M351.5 576.5h1.0M360.1 566.8h1.0M364.8 563.5h1.0M336.4 584.2h1.0M351.3 588.0h1.0M348.5 576.2h1.0M360.3 580.7h1.0M361.5 577.1h1.0M360.6 573.3h1.0M344.9 597.8h1.0M352.1 575.8h1.0M356.1 584.7h1.0M359.2 575.7h1.0M349.9 571.1h1.0M351.4 589.4h1.0M361.0 558.9h1.0M361.2 570.5h1.0M342.7 591.7h1.0M335.4 584.0h1.0M355.4 563.7h1.0M343.4 584.0h1.0M342.6 602.3h1.0M362.2 581.0h1.0M340.3 577.3h1.0M357.2 571.9h1.0M352.6 565.6h1.0M352.6 567.9h1.0M343.3 575.7h1.0M359.4 568.8h1.0M350.3 572.4h1.0M345.1 570.0h1.0M351.4 575.5h1.0M348.0 569.8h1.0M351.4 589.9h1.0M351.3 583.4h1.0M354.4 596.9h1.0M366.7 557.8h1.0M362.9 574.3h1.0M351.6 578.7h1.0M349.8 576.9h1.0M349.0 601.4h1.0M351.7 576.2h1.0M356.1 576.1h1.0M360.2 571.1h1.0M353.8 582.8h1.0M367.7 575.7h1.0M341.7 578.0h1.0M353.3 572.8h1.0M364.4 569.7h1.0M352.5 591.7h1.0M368.3 563.2h1.0M349.3 588.2h1.0M350.2 587.5h1.0M339.3 585.9h1.0M348.7 580.2h1.0M351.8 569.2h1.0M341.2 579.5h1.0M360.5 566.9h1.0M355.8 562.6h1.0M353.7 584.4h1.0M352.2 571.7h1.0M354.0 579.5h1.0M350.9 568.2h1.0M357.0 570.7h1.0M341.3 579.0h1.0M356.3 580.9h1.0M332.7 575.7h1.0M356.8 579.9h1.0M332.6 594.7h1.0M343.5 578.4h1.0M359.1 576.8h1.0M362.6 568.6h1.0M350.7 563.1h1.0M353.9 583.6h1.0M335.5 580.0h1.0M362.9 570.1h1.0M343.1 600.5h1.0M365.0 564.4h1.0M358.6 569.7h1.0M364.0 585.2h1.0M356.3 572.6h1.0M359.5 575.6h1.0M348.6 592.3h1.0M351.1 576.6h1.0M338.4 586.7h1.0M337.5 576.9h1.0M356.1 585.6h1.0M344.0 573.2h1.0M360.3 565.1h1.0M354.1 574.4h1.0M328.3 591.3h1.0M369.9 564.5h1.0M358.0 574.1h1.0M346.8 592.4h1.0M341.6 577.5h1.0M363.8 562.2h1.0M338.1 574.8h1.0M344.3 577.1h1.0M359.3 574.2h1.0M353.5 569.8h1.0M352.3 566.4h1.0M349.1 586.9h1.0M349.9 579.7h1.0M347.9 566.1h1.0M350.5 573.6h1.0M362.4 562.8h1.0M354.8 580.5h1.0M366.5 578.8h1.0M357.8 564.9h1.0M353.9 564.0h1.0M341.0 585.5h1.0M345.2 577.2h1.0M346.1 586.8h1.0M348.1 577.0h1.0M352.9 584.3h1.0M338.6 586.5h1.0M367.0 572.0h1.0M348.5 591.7h1.0M347.0 603.5h1.0M361.6 571.5h1.0M361.5 578.1h1.0M371.2 574.2h1.0M351.5 568.0h1.0M345.3 572.4h1.0M340.6 588.7h1.0M356.1 586.8h1.0M368.0 572.6h1.0M341.0 577.9h1.0M333.8 594.3h1.0M363.4 579.6h1.0M346.6 572.2h1.0M349.7 574.7h1.0M352.3 571.2h1.0M340.1 589.7h1.0M342.8 591.7h1.0M357.5 562.2h1.0M354.2 570.4h1.0M337.7 582.2h1.0M351.8 571.5h1.0M350.6 575.5h1.0M345.0 581.3h1.0M337.9 594.8h1.0M358.3 566.9h1.0M363.3 563.3h1.0M359.2 561.8h1.0M350.1 569.3h1.0M337.0 581.6h1.0M344.9 593.3h1.0M340.2 584.9h1.0M358.7 572.6h1.0M361.7 568.2h1.0M348.2 573.6h1.0M357.9 569.1h1.0M357.2 569.3h1.0M352.1 572.4h1.0M344.6 571.5h1.0M359.9 560.1h1.0M359.4 577.8h1.0M364.2 567.8h1.0M362.1 573.8h1.0M366.0 582.3h1.0M344.0 587.3h1.0M365.1 575.1h1.0M341.7 595.6h1.0M351.8 583.3h1.0M358.0 561.3h1.0M347.0 567.0h1.0M354.5 568.4h1.0M357.5 571.2h1.0M354.5 568.4h1.0M340.5 583.6h1.0M352.2 591.1h1.0M354.8 581.7h1.0M351.0 585.8h1.0M354.1 560.5h1.0M339.6 583.5h1.0M334.7 593.8h1.0M358.9 562.8h1.0M360.6 559.2h1.0M349.2 590.5h1.0M359.9 558.7h1.0M346.5 588.5h1.0M349.7 567.9h1.0M359.0 582.9h1.0M347.5 592.4h1.0M337.6 588.2h1.0M344.1 569.0h1.0M358.9 562.3h1.0M340.4 585.5h1.0M341.3 589.4h1.0M338.5 583.3h1.0M364.4 576.7h1.0M342.3 580.4h1.0M362.3 573.9h1.0M351.0 576.9h1.0M338.5 578.5h1.0M354.1 562.1h1.0M345.1 597.1h1.0M350.6 581.0h1.0M351.9 574.7h1.0M351.4 575.5h1.0M360.3 571.2h1.0M356.2 570.6h1.0M343.3 584.5h1.0M343.6 598.4h1.0M354.0 567.7h1.0M343.6 584.5h1.0M341.1 597.8h1.0M348.9 586.5h1.0M357.4 588.1h1.0M355.0 581.5h1.0M345.7 576.5h1.0M358.6 569.8h1.0M345.2 583.1h1.0M355.5 572.2h1.0M355.0 569.6h1.0M351.8 573.0h1.0M361.8 561.9h1.0M342.1 571.8h1.0M361.2 559.9h1.0M351.2 569.1h1.0M349.1 563.3h1.0M358.3 572.5h1.0M342.3 572.6h1.0M344.0 593.2h1.0M353.0 591.1h1.0M361.6 559.1h1.0M350.1 579.9h1.0M370.0 557.6h1.0M340.0 574.9h1.0M359.0 581.4h1.0M348.1 571.4h1.0M355.4 574.0h1.0M349.3 573.3h1.0M338.2 604.5h1.0M366.2 555.0h1.0M340.2 583.0h1.0M355.5 586.5h1.0M333.7 592.0h1.0M345.3 598.2h1.0M347.5 602.3h1.0M358.4 580.8h1.0M345.3 593.2h1.0M334.0 592.0h1.0M358.6 571.0h1.0M355.6 582.9h1.0M346.5 591.6h1.0M364.3 562.6h1.0M358.8 571.0h1.0M348.0 569.1h1.0M350.9 567.7h1.0M350.5 597.3h1.0M351.1 586.5h1.0M362.2 555.4h1.0M366.7 563.9h1.0M341.6 584.2h1.0M344.8 571.8h1.0M349.7 571.8h1.0M363.9 565.8h1.0M360.6 557.9h1.0M357.3 566.6h1.0M364.7 565.4h1.0M351.3 569.5h1.0M368.9 568.0h1.0M358.7 577.4h1.0M358.7 571.3h1.0M360.8 561.5h1.0M354.0 572.3h1.0M346.2 588.4h1.0M348.0 595.9h1.0M351.8 581.8h1.0M347.8 587.1h1.0M348.1 572.7h1.0M344.1 582.4h1.0M347.5 587.1h1.0M340.5 577.3h1.0M351.2 590.6h1.0M360.4 568.9h1.0M347.3 590.9h1.0M354.5 572.1h1.0M344.1 580.2h1.0M372.6 568.2h1.0M345.7 582.8h1.0M365.6 563.0h1.0M341.9 596.5h1.0M354.0 583.5h1.0M367.2 561.6h1.0M361.0 575.8h1.0M344.0 585.2h1.0M356.5 578.9h1.0M350.2 584.0h1.0M346.2 589.6h1.0M334.7 594.3h1.0M353.4 565.1h1.0M341.3 551.3h1.0M353.3 560.6h1.0M351.8 568.5h1.0M338.5 545.4h1.0M335.5 572.8h1.0M360.4 550.4h1.0M345.9 555.8h1.0M369.0 559.4h1.0M360.9 548.0h1.0M334.6 552.9h1.0M358.0 560.6h1.0M367.0 573.8h1.0M358.9 579.9h1.0M370.4 575.9h1.0M336.5 559.0h1.0M338.7 566.4h1.0M352.7 548.2h1.0M336.1 561.3h1.0M357.4 559.2h1.0M351.4 567.2h1.0M360.2 569.8h1.0M349.2 551.0h1.0M366.9 546.4h1.0M341.0 551.7h1.0M356.2 566.8h1.0M336.9 563.0h1.0M355.4 569.0h1.0M335.9 570.4h1.0M343.5 558.5h1.0M337.9 574.5h1.0M357.1 573.4h1.0M353.1 548.9h1.0M348.6 547.8h1.0M336.9 573.2h1.0M333.0 558.6h1.0M334.6 571.8h1.0M371.6 546.1h1.0M347.2 579.2h1.0M342.8 555.9h1.0" stroke="#b8442a" stroke-width="1.0" stroke-opacity="0.7" fill="none"/>
<rect x="327.7" y="496.6" width="108.10000000000002" height="109.19999999999993" fill="none" stroke="#2a2a2a" stroke-width="1.3"/>
<line x1="368.1" y1="496.6" x2="368.1" y2="605.8" stroke="#3a3a3a" stroke-width="1.1"/>
<line x1="327.7" y1="557.2" x2="435.8" y2="557.2" stroke="#3a3a3a" stroke-width="1.1"/>
<text x="490.5" y="366.3" font-size="22" text-anchor="start" font-weight="bold" fill="#000" stroke="#000">D</text>
<line x1="538.2" y1="360.5" x2="538.2" y2="531.8" stroke="#000" stroke-width="2"/>
<line x1="537.2" y1="531" x2="794.5" y2="531" stroke="#000" stroke-width="2"/>
<line x1="533.5" y1="530.8" x2="538.2" y2="530.8" stroke="#000" stroke-width="2"/>
<text x="529.5" y="534.8" font-size="11" text-anchor="end" fill="#151515" stroke="#151515">0</text>
<line x1="533.5" y1="488.44999999999993" x2="538.2" y2="488.44999999999993" stroke="#000" stroke-width="2"/>
<text x="529.5" y="492.44999999999993" font-size="11" text-anchor="end" fill="#151515" stroke="#151515">10</text>
<line x1="533.5" y1="446.09999999999997" x2="538.2" y2="446.09999999999997" stroke="#000" stroke-width="2"/>
<text x="529.5" y="450.09999999999997" font-size="11" text-anchor="end" fill="#151515" stroke="#151515">20</text>
<line x1="533.5" y1="403.74999999999994" x2="538.2" y2="403.74999999999994" stroke="#000" stroke-width="2"/>
<text x="529.5" y="407.74999999999994" font-size="11" text-anchor="end" fill="#151515" stroke="#151515">30</text>
<line x1="533.5" y1="361.4" x2="538.2" y2="361.4" stroke="#000" stroke-width="2"/>
<text x="529.5" y="365.4" font-size="11" text-anchor="end" fill="#151515" stroke="#151515">40</text>
<text x="0" y="0" font-size="10.6" text-anchor="middle" fill="#151515" stroke="#151515" transform="translate(505.5,446) rotate(-90)">Apoptosis rate (%)</text>
<rect x="557.6" y="524.4" width="41.2" height="6.600000000000023" fill="#050505"/>
<line x1="578.2" y1="525.4" x2="578.2" y2="523" stroke="#000" stroke-width="2"/>
<line x1="568.6" y1="523" x2="587.8000000000001" y2="523" stroke="#000" stroke-width="2"/>
<line x1="578.2" y1="531" x2="578.2" y2="536" stroke="#000" stroke-width="2"/>
<text x="0" y="0" font-size="10.6" text-anchor="end" fill="#151515" stroke="#151515" transform="translate(580.7,546) rotate(-45)">Ctrl</text>
<rect x="616.2" y="396.2" width="41.2" height="134.8" fill="#9d9da1"/>
<line x1="636.8000000000001" y1="397.2" x2="636.8000000000001" y2="385.5" stroke="#000" stroke-width="2"/>
<line x1="627.2" y1="385.5" x2="646.4000000000001" y2="385.5" stroke="#000" stroke-width="2"/>
<line x1="636.8000000000001" y1="531" x2="636.8000000000001" y2="536" stroke="#000" stroke-width="2"/>
<text x="0" y="0" font-size="10.6" text-anchor="end" fill="#151515" stroke="#151515" transform="translate(639.3000000000001,546) rotate(-45)">PB2_24 μM</text>
<rect x="674.9" y="459.9" width="41.2" height="71.10000000000002" fill="#7b7b7b"/>
<line x1="695.5" y1="460.9" x2="695.5" y2="453.1" stroke="#000" stroke-width="2"/>
<line x1="685.9" y1="453.1" x2="705.1" y2="453.1" stroke="#000" stroke-width="2"/>
<line x1="695.5" y1="531" x2="695.5" y2="536" stroke="#000" stroke-width="2"/>
<text x="0" y="0" font-size="10.6" text-anchor="end" fill="#151515" stroke="#151515" transform="translate(698.0,546) rotate(-45)">3-MA + PB2</text>
<rect x="733.6" y="521" width="41.2" height="10" fill="#d3d3d3"/>
<line x1="754.2" y1="522" x2="754.2" y2="517.8" stroke="#000" stroke-width="2"/>
<line x1="744.6" y1="517.8" x2="763.8000000000001" y2="517.8" stroke="#000" stroke-width="2"/>
<line x1="754.2" y1="531" x2="754.2" y2="536" stroke="#000" stroke-width="2"/>
<text x="0" y="0" font-size="10.6" text-anchor="end" fill="#151515" stroke="#151515" transform="translate(756.7,546) rotate(-45)">3-MA</text>
<text x="639" y="384" font-size="11" text-anchor="middle" fill="#151515" stroke="#151515">**</text>
<text x="696" y="451" font-size="10.5" text-anchor="middle" fill="#151515" stroke="#151515">##</text>
</svg>
<div class="cap l" style="top:648px"><div class="j"><b>Figure 4</b> PB2-induced apoptosis in CRC cells was reversed by autophagy inhibitor 3-MA. (<b>A</b>) LoVo cells were treated as follow: Control, 24 μM PB2, 3-MA, 3-MA+PB2 for</div></div>
<div class="cap l" style="top:665px"><div class="j">48 hrs. Then, CCK-8 assay was performed to investigate the survival of LoVo cells. **<i>P</i>&lt;0.01, vs Ctrl. <sup>#</sup><i>P</i>&lt;0.05, vs PB2. (<b>B</b>) Western blot analysis was used to measure the</div></div>
<div class="cap l" style="top:682.6px"><div class="j">protein expressions of Beclin1, Atg5, LC3 I, LC3 II, Bax, Bcl-2 and Cleaved Caspase-3. (<b>C, D</b>) Apoptosis in LoVo cells treated as PB2 or/and 3-MA was detected by flow</div></div>
<div class="cap l" style="top:700.3px"><div>cytometry. **<i>P</i>&lt;0.01, vs Ctrl. <sup>##</sup><i>P</i>&lt;0.01, <sup>#</sup><i>P</i>&lt;0.01, vs PB2.</div></div>
</body></html>
